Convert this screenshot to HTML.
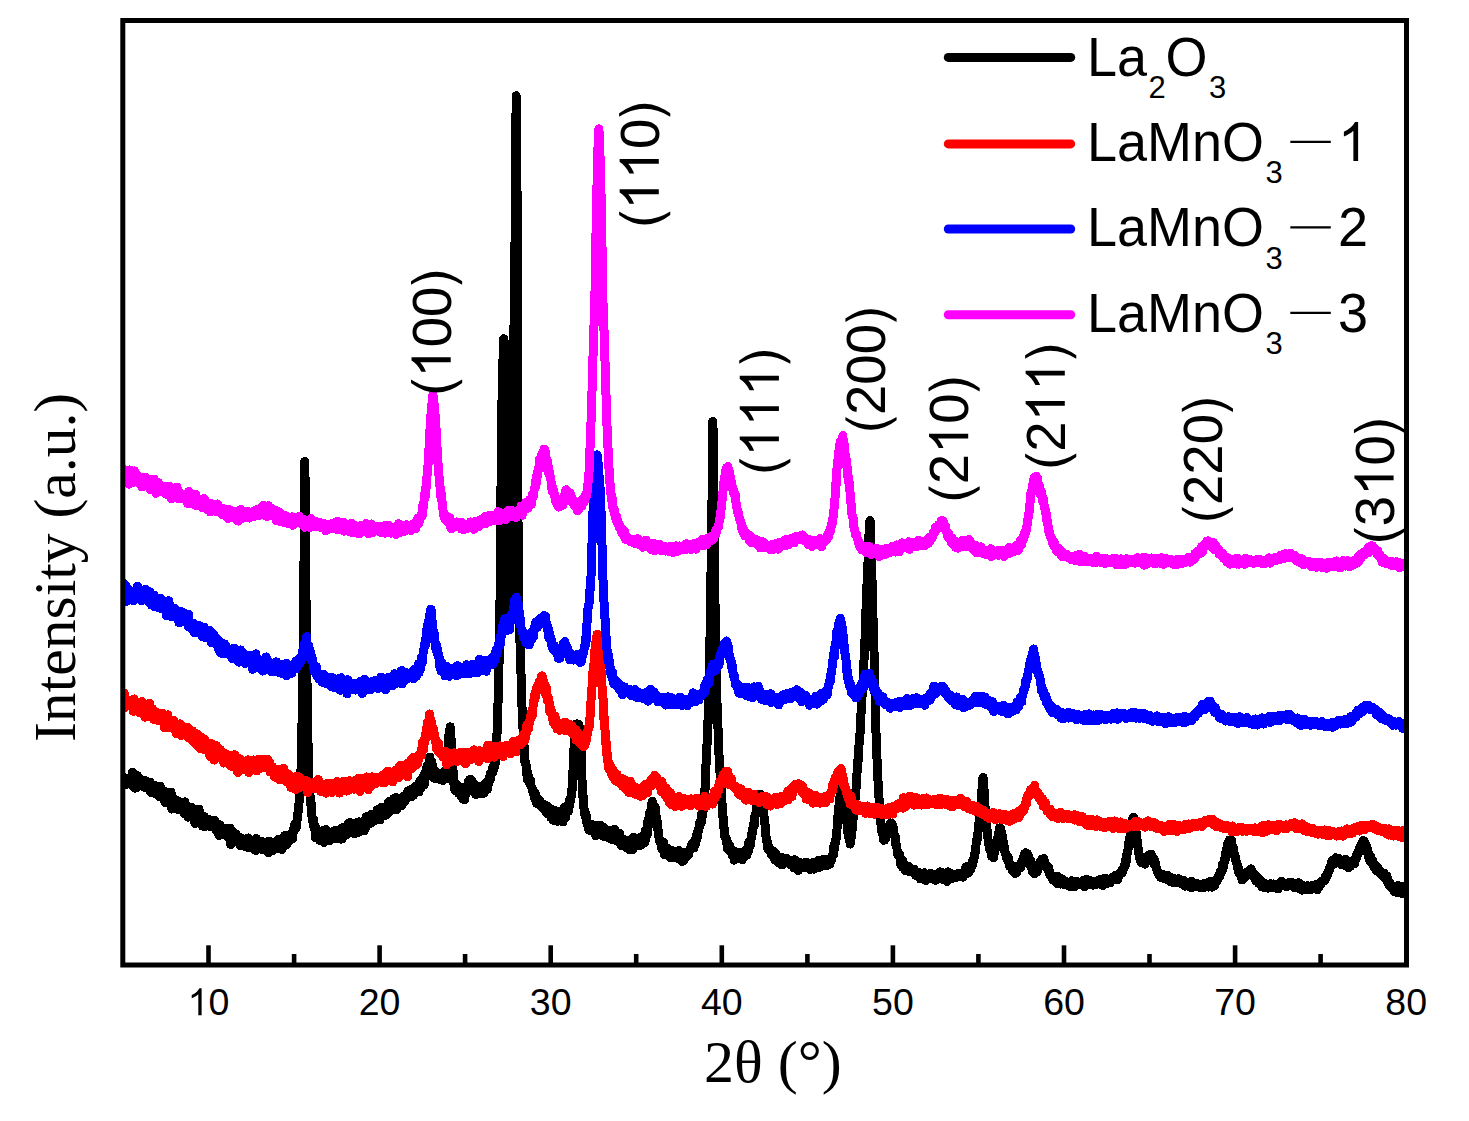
<!DOCTYPE html>
<html><head><meta charset="utf-8"><title>XRD</title>
<style>
html,body{margin:0;padding:0;background:#fff;}
svg{display:block}
text{font-family:"Liberation Sans",sans-serif;fill:#000}
.L{font-size:54px}
.S{font-size:31px}
.ser{font-family:"Liberation Serif",serif}
.cv path{fill:none;stroke-width:9;stroke-linejoin:round;stroke-linecap:butt}
</style></head><body>
<svg width="1469" height="1121" viewBox="0 0 1469 1121">
<rect width="1469" height="1121" fill="#fff"/>
<clipPath id="cp"><rect x="122" y="20" width="1284.5" height="945"/></clipPath>
<g class="cv" shape-rendering="crispEdges" clip-path="url(#cp)">
<path stroke="#000" d="M123.0,783.7 L123.4,785.1 L123.8,783.3 L124.2,777.7 L124.6,785.1 L125.0,783.4 L125.4,780.0 L125.8,783.7 L126.2,782.9 L126.6,782.5 L127.0,781.6 L127.4,783.3 L127.8,778.9 L128.2,780.8 L128.6,779.6 L129.0,783.2 L129.4,781.3 L129.8,780.2 L130.2,778.5 L130.6,780.2 L131.0,781.1 L131.4,780.1 L131.8,785.4 L132.2,784.4 L132.6,772.3 L133.0,774.7 L133.4,780.4 L133.8,779.6 L134.2,781.7 L134.6,781.7 L135.0,788.1 L135.0,777.3 L135.4,779.7 L135.8,787.9 L136.2,783.2 L136.6,783.3 L137.0,779.5 L137.4,775.7 L137.8,781.9 L138.2,781.8 L138.6,777.4 L139.0,779.4 L139.4,781.6 L139.8,778.8 L140.2,781.8 L140.6,782.6 L141.0,782.6 L141.4,780.9 L141.8,784.8 L142.2,786.0 L142.6,784.3 L143.0,780.7 L143.4,786.1 L143.8,782.2 L144.2,787.1 L144.6,780.8 L145.0,787.7 L145.4,784.8 L145.8,780.9 L146.2,784.3 L146.6,785.8 L147.0,786.8 L147.4,782.8 L147.8,782.7 L148.2,787.3 L148.6,785.3 L149.0,787.9 L149.4,789.9 L149.8,782.2 L150.2,788.8 L150.6,792.3 L151.0,787.4 L151.4,786.0 L151.8,791.4 L152.2,790.0 L152.6,792.4 L153.0,788.5 L153.4,785.0 L153.8,789.8 L154.2,788.9 L154.5,793.1 L154.6,791.2 L155.0,785.4 L155.4,787.0 L155.8,794.1 L156.2,793.7 L156.6,789.5 L157.0,791.9 L157.4,793.6 L157.8,793.9 L158.2,795.4 L158.6,793.6 L159.0,792.7 L159.4,792.4 L159.8,796.9 L160.2,786.2 L160.6,793.5 L161.0,794.3 L161.4,789.7 L161.8,795.7 L162.2,792.7 L162.6,797.9 L163.0,794.9 L163.4,797.8 L163.8,799.8 L164.2,797.3 L164.6,793.4 L165.0,791.5 L165.4,802.6 L165.8,796.6 L166.2,795.0 L166.6,798.0 L167.0,797.1 L167.4,800.8 L167.8,798.3 L168.2,798.5 L168.6,796.4 L169.0,800.5 L169.4,795.8 L169.8,801.7 L170.2,804.7 L170.6,794.9 L171.0,792.1 L171.4,802.5 L171.8,809.1 L172.2,797.7 L172.6,797.1 L173.0,803.4 L173.4,798.9 L173.8,800.3 L174.2,801.1 L174.6,804.2 L175.0,801.4 L175.4,803.9 L175.8,802.6 L176.2,800.7 L176.6,802.6 L177.0,800.8 L177.4,804.2 L177.8,800.7 L178.2,801.1 L178.6,809.7 L179.0,805.0 L179.4,805.2 L179.8,807.3 L180.2,804.5 L180.6,805.4 L181.0,807.8 L181.4,807.6 L181.8,803.1 L182.0,809.7 L182.2,805.2 L182.6,803.9 L183.0,804.7 L183.4,806.6 L183.8,813.4 L184.2,804.5 L184.6,809.1 L185.0,801.8 L185.4,809.1 L185.8,812.3 L186.2,808.8 L186.6,807.8 L187.0,810.8 L187.4,812.6 L187.8,812.7 L188.2,817.2 L188.6,811.7 L189.0,809.4 L189.4,811.1 L189.8,811.6 L190.2,812.4 L190.6,812.2 L191.0,813.1 L191.4,807.3 L191.8,815.7 L192.2,811.4 L192.6,809.7 L193.0,815.9 L193.4,818.3 L193.8,815.9 L194.2,815.0 L194.6,811.7 L195.0,823.5 L195.4,818.1 L195.8,811.8 L196.2,813.2 L196.6,816.3 L197.0,811.2 L197.4,817.1 L197.8,815.3 L198.2,821.0 L198.6,820.4 L199.0,809.1 L199.4,817.9 L199.8,812.7 L200.2,821.8 L200.6,819.0 L201.0,820.5 L201.4,815.5 L201.8,825.1 L202.2,826.0 L202.6,816.2 L203.0,821.1 L203.4,818.0 L203.8,820.3 L204.2,816.6 L204.6,826.9 L205.0,818.0 L205.4,820.4 L205.8,823.2 L206.2,819.8 L206.6,821.3 L207.0,820.5 L207.4,822.1 L207.8,819.0 L208.2,821.6 L208.6,822.6 L209.0,822.4 L209.0,823.7 L209.4,822.8 L209.8,826.4 L210.2,823.2 L210.6,824.0 L211.0,822.5 L211.4,823.2 L211.8,821.1 L212.2,827.1 L212.6,822.0 L213.0,823.5 L213.4,827.3 L213.8,827.7 L214.2,825.3 L214.6,820.4 L215.0,828.5 L215.4,828.2 L215.8,823.1 L216.2,830.3 L216.6,825.8 L217.0,824.7 L217.4,828.9 L217.8,828.3 L218.2,829.7 L218.6,824.2 L219.0,835.4 L219.4,827.9 L219.8,825.1 L220.2,832.3 L220.6,829.4 L221.0,831.8 L221.4,829.9 L221.8,831.1 L222.2,832.3 L222.6,829.3 L223.0,834.1 L223.4,830.7 L223.8,829.7 L224.2,832.9 L224.6,834.3 L225.0,832.4 L225.4,830.6 L225.8,835.6 L226.2,828.2 L226.6,830.7 L227.0,834.4 L227.4,830.1 L227.8,834.8 L228.2,834.7 L228.6,838.0 L229.0,832.4 L229.4,833.5 L229.8,836.8 L230.2,828.1 L230.6,844.4 L231.0,834.1 L231.4,834.2 L231.8,839.4 L232.2,836.8 L232.6,831.4 L233.0,839.2 L233.4,840.1 L233.8,836.2 L234.2,836.9 L234.6,839.5 L235.0,835.2 L235.4,839.7 L235.8,839.1 L236.0,836.4 L236.2,834.2 L236.6,838.0 L237.0,836.1 L237.4,842.2 L237.8,839.7 L238.2,841.8 L238.6,839.9 L239.0,840.5 L239.4,837.4 L239.8,842.1 L240.2,845.8 L240.6,839.3 L241.0,838.6 L241.4,840.1 L241.8,839.3 L242.2,838.7 L242.6,841.6 L243.0,840.4 L243.4,846.0 L243.8,841.6 L244.2,842.8 L244.6,844.9 L245.0,841.1 L245.4,846.8 L245.8,840.4 L246.2,840.0 L246.6,841.5 L247.0,842.5 L247.4,838.6 L247.8,843.0 L248.2,838.0 L248.6,847.8 L249.0,843.3 L249.4,841.7 L249.8,841.0 L250.2,842.8 L250.6,843.4 L251.0,840.9 L251.4,841.5 L251.8,843.9 L252.2,843.0 L252.6,847.7 L253.0,848.4 L253.4,845.0 L253.8,846.6 L254.2,841.0 L254.6,847.3 L255.0,845.3 L255.4,847.0 L255.8,850.6 L256.2,838.5 L256.6,846.6 L257.0,842.4 L257.4,847.8 L257.8,841.9 L258.2,844.5 L258.6,846.7 L259.0,848.1 L259.4,846.5 L259.8,843.8 L260.2,844.6 L260.6,849.1 L261.0,846.4 L261.4,841.2 L261.8,849.1 L262.2,847.8 L262.6,849.2 L263.0,845.4 L263.4,849.1 L263.5,843.2 L263.8,848.3 L264.2,845.0 L264.6,848.6 L265.0,849.6 L265.4,844.2 L265.8,846.3 L266.2,846.6 L266.6,850.1 L267.0,848.6 L267.4,842.6 L267.8,847.8 L268.2,848.6 L268.6,852.9 L269.0,841.0 L269.4,844.5 L269.8,850.3 L270.2,841.9 L270.6,842.3 L271.0,847.6 L271.4,849.1 L271.8,843.8 L272.2,847.5 L272.6,846.1 L273.0,850.4 L273.4,845.6 L273.8,848.6 L274.2,842.7 L274.6,844.8 L275.0,845.0 L275.4,848.8 L275.8,847.0 L276.2,842.8 L276.6,847.1 L277.0,847.3 L277.4,844.5 L277.8,843.9 L278.2,844.0 L278.6,839.3 L279.0,845.0 L279.4,845.0 L279.8,841.5 L280.2,846.4 L280.6,839.7 L281.0,842.1 L281.4,842.2 L281.8,849.7 L282.2,838.5 L282.6,845.1 L283.0,846.1 L283.4,844.2 L283.8,846.6 L284.2,839.7 L284.6,835.6 L285.0,844.9 L285.0,838.8 L285.4,841.3 L285.8,838.5 L286.2,845.1 L286.6,844.2 L287.0,838.9 L287.4,843.5 L287.8,840.7 L288.2,839.4 L288.6,839.5 L289.0,838.2 L289.4,840.2 L289.8,838.7 L290.2,836.1 L290.6,839.7 L291.0,834.1 L291.0,836.9 L291.4,836.7 L291.8,839.2 L292.2,832.3 L292.6,838.4 L293.0,832.6 L293.4,830.6 L293.8,828.1 L294.2,831.0 L294.6,828.4 L294.7,824.6 L295.0,823.8 L295.4,824.7 L295.8,823.3 L296.2,827.5 L296.4,827.6 L296.6,825.1 L297.0,821.1 L297.4,815.6 L297.8,813.3 L298.2,811.7 L298.6,811.1 L299.0,802.8 L299.0,799.1 L299.4,795.5 L299.8,789.1 L300.2,782.5 L300.6,777.3 L301.0,769.6 L301.0,774.6 L301.4,754.6 L301.8,736.8 L302.2,712.4 L302.5,687.2 L302.6,685.2 L303.0,653.8 L303.4,618.0 L303.8,583.7 L304.0,563.1 L304.2,534.8 L304.6,472.5 L304.8,461.4 L305.0,474.4 L305.4,532.8 L305.6,563.0 L305.8,578.3 L306.2,620.1 L306.6,653.5 L307.0,680.8 L307.1,687.9 L307.4,708.8 L307.8,730.7 L308.2,753.7 L308.6,770.6 L308.6,772.0 L309.0,779.0 L309.4,792.6 L309.8,790.3 L310.2,798.5 L310.6,803.8 L310.6,799.6 L311.0,802.1 L311.4,805.3 L311.8,813.5 L312.2,820.0 L312.6,820.7 L313.0,822.9 L313.2,822.2 L313.4,826.0 L313.8,819.5 L314.2,828.2 L314.6,828.9 L315.0,825.9 L315.4,837.6 L315.8,827.5 L316.0,828.7 L316.2,828.6 L316.6,836.1 L317.0,830.5 L317.4,835.7 L317.8,835.8 L318.2,835.2 L318.6,830.8 L319.0,833.1 L319.4,840.3 L319.8,831.5 L320.2,833.0 L320.6,835.0 L320.6,837.9 L321.0,836.3 L321.4,837.7 L321.8,832.3 L322.2,838.3 L322.6,837.2 L323.0,830.7 L323.4,840.1 L323.8,842.4 L324.2,833.1 L324.6,835.6 L325.0,839.6 L325.4,830.9 L325.8,829.4 L326.2,831.5 L326.6,833.6 L327.0,833.6 L327.4,837.1 L327.8,836.1 L328.2,831.5 L328.6,836.9 L329.0,840.8 L329.4,838.8 L329.8,838.1 L330.2,835.2 L330.6,838.0 L331.0,832.2 L331.4,837.3 L331.8,834.7 L332.2,838.3 L332.6,836.3 L333.0,831.6 L333.4,835.2 L333.8,838.5 L334.2,831.4 L334.6,833.1 L335.0,832.4 L335.4,830.2 L335.8,837.5 L336.2,838.5 L336.6,836.9 L337.0,835.2 L337.0,834.3 L337.4,835.2 L337.8,832.2 L338.2,837.0 L338.6,837.4 L339.0,837.0 L339.4,832.5 L339.8,834.3 L340.2,833.5 L340.6,839.2 L341.0,834.3 L341.4,828.0 L341.8,834.7 L342.2,839.0 L342.6,835.3 L343.0,835.8 L343.4,833.1 L343.8,827.0 L344.2,827.3 L344.6,828.9 L345.0,832.0 L345.4,833.2 L345.8,834.1 L346.2,830.9 L346.6,834.6 L347.0,830.7 L347.4,829.3 L347.8,833.8 L348.2,828.3 L348.6,823.1 L349.0,827.5 L349.4,830.8 L349.8,822.6 L350.2,829.1 L350.6,828.9 L351.0,825.5 L351.4,825.1 L351.8,828.0 L352.2,827.5 L352.6,832.7 L353.0,829.9 L353.4,823.9 L353.8,825.8 L354.2,830.2 L354.6,833.6 L355.0,828.9 L355.4,828.5 L355.8,832.9 L356.2,827.1 L356.6,826.1 L357.0,822.6 L357.4,825.1 L357.8,832.8 L358.2,822.0 L358.6,826.1 L358.7,821.8 L359.0,826.2 L359.4,828.3 L359.8,824.8 L360.2,827.5 L360.6,827.2 L361.0,826.2 L361.4,829.8 L361.8,826.8 L362.2,823.5 L362.6,822.2 L363.0,821.5 L363.4,825.2 L363.8,822.6 L364.2,831.0 L364.6,828.6 L365.0,822.3 L365.4,821.8 L365.8,827.5 L366.2,816.8 L366.6,820.8 L367.0,824.7 L367.4,819.0 L367.8,820.1 L368.2,820.3 L368.6,823.0 L369.0,821.3 L369.4,821.8 L369.8,822.2 L370.2,820.3 L370.6,823.3 L371.0,817.7 L371.4,815.4 L371.8,814.2 L372.2,814.4 L372.6,817.3 L373.0,821.7 L373.4,819.0 L373.8,816.5 L374.2,814.9 L374.6,816.2 L375.0,816.4 L375.4,815.7 L375.8,812.9 L376.2,815.5 L376.6,819.6 L377.0,810.1 L377.4,815.5 L377.8,809.7 L378.2,816.2 L378.6,813.3 L379.0,809.1 L379.4,815.3 L379.8,820.0 L380.2,814.8 L380.6,817.7 L381.0,813.8 L381.4,807.5 L381.8,815.0 L382.2,812.1 L382.6,808.8 L383.0,815.1 L383.4,813.4 L383.8,810.8 L384.2,814.6 L384.6,809.3 L385.0,813.5 L385.4,808.6 L385.8,812.7 L386.0,807.8 L386.2,815.2 L386.6,811.4 L387.0,814.5 L387.4,807.7 L387.8,808.5 L388.2,812.1 L388.6,801.8 L389.0,806.0 L389.4,811.8 L389.8,809.9 L390.2,811.2 L390.6,807.2 L391.0,809.4 L391.4,805.4 L391.8,803.3 L392.2,802.1 L392.6,805.2 L393.0,804.9 L393.4,804.4 L393.8,798.4 L394.2,799.9 L394.6,803.9 L395.0,805.9 L395.4,803.2 L395.8,802.0 L396.2,797.6 L396.6,809.8 L397.0,800.6 L397.4,808.3 L397.8,807.7 L398.2,803.7 L398.6,801.0 L399.0,802.7 L399.4,798.7 L399.8,802.5 L400.2,801.5 L400.6,802.7 L401.0,803.6 L401.4,805.6 L401.8,799.2 L402.2,803.0 L402.6,797.5 L403.0,796.9 L403.4,797.4 L403.8,796.0 L404.2,801.4 L404.6,800.9 L405.0,801.6 L405.4,797.6 L405.8,798.2 L406.2,795.4 L406.6,793.5 L407.0,797.8 L407.4,797.0 L407.7,792.8 L407.8,797.6 L408.2,790.7 L408.6,794.8 L409.0,793.3 L409.4,793.3 L409.8,791.4 L410.2,796.9 L410.6,795.5 L411.0,797.0 L411.4,793.7 L411.8,789.3 L412.2,791.7 L412.6,789.1 L413.0,793.4 L413.4,795.3 L413.8,792.5 L414.2,789.5 L414.6,789.8 L415.0,791.2 L415.4,786.1 L415.8,790.3 L416.2,790.1 L416.6,787.7 L417.0,787.7 L417.4,789.0 L417.8,785.8 L418.0,785.6 L418.2,790.0 L418.6,788.0 L419.0,791.8 L419.4,783.9 L419.8,781.2 L420.2,788.6 L420.6,788.3 L421.0,783.0 L421.4,780.5 L421.8,784.1 L422.2,778.8 L422.6,782.2 L423.0,776.4 L423.4,781.3 L423.8,775.3 L424.0,780.2 L424.2,784.8 L424.6,778.6 L425.0,780.2 L425.4,774.6 L425.8,772.2 L426.2,768.8 L426.6,774.3 L427.0,769.7 L427.0,774.5 L427.4,765.0 L427.8,766.1 L428.2,765.2 L428.6,767.5 L429.0,767.6 L429.4,760.1 L429.5,758.7 L429.8,757.1 L430.2,766.5 L430.6,763.6 L431.0,763.5 L431.4,766.7 L431.8,761.2 L432.2,765.0 L432.6,773.7 L433.0,773.0 L433.0,772.3 L433.4,769.6 L433.8,774.5 L434.2,778.3 L434.6,770.3 L435.0,774.2 L435.4,773.3 L435.8,775.9 L436.2,775.2 L436.6,775.0 L437.0,773.1 L437.4,775.7 L437.6,774.1 L437.8,775.5 L438.2,775.9 L438.6,778.0 L439.0,774.7 L439.4,775.5 L439.8,779.6 L440.2,776.0 L440.6,776.0 L441.0,779.2 L441.4,777.6 L441.8,777.1 L442.0,777.5 L442.2,773.4 L442.6,778.1 L443.0,780.5 L443.4,778.3 L443.8,772.3 L444.2,777.3 L444.6,773.8 L445.0,775.5 L445.4,776.3 L445.5,772.5 L445.8,778.9 L446.2,772.6 L446.6,771.5 L447.0,766.9 L447.4,764.7 L447.5,763.2 L447.8,752.1 L448.2,749.7 L448.6,736.3 L449.0,734.0 L449.4,731.8 L449.8,729.6 L449.9,730.5 L450.2,726.8 L450.6,732.6 L451.0,737.9 L451.4,748.2 L451.8,756.4 L452.2,757.5 L452.3,767.2 L452.6,764.4 L453.0,770.2 L453.4,779.1 L453.8,784.0 L454.0,784.4 L454.2,781.7 L454.6,788.6 L455.0,785.5 L455.4,790.4 L455.8,790.7 L456.2,783.8 L456.6,785.1 L457.0,785.5 L457.4,789.3 L457.8,789.1 L458.2,790.0 L458.6,787.4 L459.0,791.1 L459.0,793.8 L459.4,786.6 L459.8,790.1 L460.2,791.7 L460.6,790.9 L461.0,791.1 L461.4,796.8 L461.8,795.8 L462.2,794.8 L462.6,790.6 L463.0,799.1 L463.4,794.1 L463.8,791.7 L464.2,792.5 L464.6,792.1 L464.9,799.3 L465.0,794.0 L465.4,793.3 L465.8,786.5 L466.2,793.6 L466.6,787.6 L467.0,786.3 L467.4,790.0 L467.8,785.0 L468.0,789.3 L468.2,789.7 L468.6,780.8 L469.0,784.5 L469.4,779.8 L469.8,783.3 L470.2,785.6 L470.5,779.2 L470.6,787.9 L471.0,782.3 L471.4,780.4 L471.8,783.9 L472.2,787.1 L472.6,781.9 L473.0,786.5 L473.4,783.4 L473.8,791.0 L474.0,788.4 L474.2,787.0 L474.6,791.4 L475.0,785.4 L475.4,788.2 L475.8,794.7 L476.2,789.7 L476.6,794.0 L477.0,791.1 L477.4,788.8 L477.8,790.2 L478.0,791.2 L478.2,789.9 L478.6,788.8 L479.0,789.0 L479.4,787.1 L479.8,791.5 L480.2,792.4 L480.6,793.4 L481.0,786.4 L481.4,793.6 L481.8,791.4 L482.2,787.5 L482.6,791.7 L482.7,793.7 L483.0,792.8 L483.4,793.1 L483.8,793.4 L484.2,792.7 L484.6,789.5 L485.0,783.3 L485.4,786.1 L485.8,788.3 L486.2,785.3 L486.6,787.6 L487.0,787.1 L487.0,785.1 L487.4,789.3 L487.8,780.6 L488.2,784.9 L488.6,780.1 L489.0,778.3 L489.4,780.9 L489.8,776.6 L490.2,779.5 L490.6,772.9 L491.0,775.0 L491.0,772.7 L491.4,773.3 L491.8,771.9 L492.2,768.9 L492.6,772.8 L493.0,766.5 L493.4,766.0 L493.8,769.6 L494.2,768.1 L494.3,766.8 L494.6,764.1 L495.0,766.3 L495.4,752.9 L495.8,749.4 L496.2,743.2 L496.6,742.1 L497.0,733.5 L497.2,732.0 L497.4,727.1 L497.8,712.0 L498.2,695.7 L498.3,691.3 L498.6,687.6 L499.0,665.7 L499.4,643.2 L499.8,615.3 L500.0,601.4 L500.2,583.4 L500.6,537.8 L501.0,486.5 L501.0,492.8 L501.4,449.4 L501.8,413.4 L502.0,400.5 L502.2,392.6 L502.6,372.4 L503.0,359.6 L503.4,339.9 L503.8,338.7 L503.9,346.1 L504.2,341.1 L504.6,355.2 L505.0,375.5 L505.4,392.2 L505.5,401.9 L505.8,419.3 L506.2,459.7 L506.5,489.4 L506.6,496.3 L507.0,529.9 L507.4,553.9 L507.5,560.8 L507.8,571.2 L508.2,596.7 L508.5,599.7 L508.6,603.1 L509.0,617.9 L509.4,625.8 L509.6,626.3 L509.8,626.6 L510.2,619.0 L510.6,604.9 L510.7,602.5 L511.0,589.6 L511.4,576.0 L511.8,565.3 L511.8,559.3 L512.2,526.9 L512.5,494.9 L512.6,485.9 L513.0,430.8 L513.3,398.7 L513.4,388.4 L513.8,349.9 L514.0,325.5 L514.2,313.5 L514.6,272.3 L515.0,243.9 L515.2,224.4 L515.4,198.0 L515.8,128.6 L516.2,100.5 L516.2,95.7 L516.6,124.3 L517.0,188.1 L517.2,220.7 L517.4,247.2 L517.8,334.2 L517.8,326.4 L517.9,491.5 L518.2,576.1 L518.5,602.5 L518.6,608.5 L519.0,618.8 L519.4,635.5 L519.8,636.3 L520.2,648.3 L520.6,661.6 L520.6,663.0 L521.0,673.7 L521.4,689.8 L521.6,692.4 L521.8,698.6 L522.2,714.1 L522.6,720.8 L523.0,728.7 L523.0,725.3 L523.4,736.4 L523.8,744.3 L524.2,746.6 L524.6,752.8 L525.0,763.0 L525.4,763.2 L525.7,764.2 L525.8,762.6 L526.2,766.5 L526.6,769.7 L527.0,775.9 L527.4,772.5 L527.8,780.5 L528.2,774.8 L528.6,777.7 L529.0,782.2 L529.4,780.5 L529.8,780.2 L530.0,782.7 L530.2,784.8 L530.6,780.3 L531.0,785.3 L531.4,786.7 L531.8,787.0 L532.2,791.0 L532.6,788.6 L533.0,790.1 L533.4,792.0 L533.8,794.7 L534.2,793.1 L534.6,798.4 L535.0,792.8 L535.4,799.3 L535.8,794.4 L536.0,796.6 L536.2,798.3 L536.6,803.4 L537.0,800.9 L537.4,798.1 L537.8,803.2 L538.2,799.8 L538.6,798.8 L539.0,802.6 L539.4,802.1 L539.8,804.9 L540.2,801.4 L540.6,804.3 L541.0,805.5 L541.4,805.0 L541.8,804.6 L542.2,803.3 L542.6,807.9 L543.0,806.4 L543.0,807.3 L543.4,805.5 L543.8,806.9 L544.2,804.6 L544.6,807.9 L545.0,810.1 L545.4,808.8 L545.8,811.2 L546.2,810.2 L546.6,813.3 L547.0,809.6 L547.4,806.2 L547.8,811.9 L548.2,810.7 L548.6,808.9 L549.0,813.5 L549.4,812.8 L549.8,813.5 L550.0,811.6 L550.2,813.1 L550.6,813.6 L551.0,817.8 L551.4,811.7 L551.8,813.7 L552.2,814.9 L552.6,809.8 L553.0,810.4 L553.4,820.4 L553.8,810.4 L554.2,816.7 L554.6,813.2 L555.0,813.6 L555.4,810.6 L555.8,813.5 L556.2,818.0 L556.6,812.4 L557.0,817.5 L557.0,816.8 L557.4,821.2 L557.8,814.8 L558.2,819.3 L558.6,818.3 L559.0,815.3 L559.4,811.7 L559.8,819.9 L560.2,812.5 L560.6,814.8 L561.0,818.3 L561.4,818.9 L561.6,813.8 L561.8,815.9 L562.2,815.2 L562.6,818.8 L563.0,821.9 L563.4,810.4 L563.8,817.1 L564.2,807.6 L564.6,813.9 L565.0,810.5 L565.4,817.9 L565.8,812.7 L566.0,810.1 L566.2,810.4 L566.6,809.6 L567.0,810.9 L567.4,809.2 L567.8,810.5 L568.2,811.8 L568.6,808.6 L569.0,802.5 L569.4,800.2 L569.8,801.1 L569.8,805.7 L570.2,800.6 L570.6,798.0 L571.0,797.9 L571.4,791.3 L571.8,788.9 L572.0,791.3 L572.2,786.8 L572.6,778.8 L573.0,771.0 L573.4,758.7 L573.8,749.9 L573.9,748.8 L574.2,746.8 L574.6,739.4 L575.0,731.0 L575.4,729.8 L575.5,731.7 L575.8,733.4 L576.2,724.0 L576.6,726.5 L577.0,723.9 L577.4,726.2 L577.6,725.1 L577.8,727.8 L578.2,725.9 L578.6,724.1 L579.0,725.5 L579.4,729.6 L579.7,731.0 L579.8,736.7 L580.2,739.5 L580.6,739.2 L581.0,750.9 L581.0,746.6 L581.4,755.7 L581.8,774.0 L582.2,785.0 L582.5,787.4 L582.6,795.8 L583.0,795.0 L583.4,799.4 L583.8,808.0 L584.0,808.6 L584.2,809.1 L584.6,812.1 L585.0,815.3 L585.4,816.4 L585.8,817.9 L586.0,814.2 L586.2,816.1 L586.6,822.1 L587.0,819.7 L587.4,823.7 L587.8,826.2 L588.2,822.9 L588.6,825.1 L589.0,830.2 L589.4,827.2 L589.8,830.5 L590.0,829.9 L590.2,828.1 L590.6,826.2 L591.0,824.7 L591.4,824.3 L591.8,828.6 L592.2,828.9 L592.6,827.5 L593.0,830.3 L593.4,826.8 L593.8,831.4 L594.2,828.9 L594.6,828.9 L595.0,829.2 L595.4,829.1 L595.8,835.8 L596.2,825.6 L596.6,830.3 L597.0,833.1 L597.0,831.8 L597.4,829.4 L597.8,834.7 L598.2,827.8 L598.6,827.3 L599.0,832.2 L599.4,827.2 L599.8,825.0 L600.2,833.4 L600.6,833.2 L601.0,833.2 L601.4,830.3 L601.8,832.1 L602.2,829.3 L602.6,836.2 L603.0,833.9 L603.4,833.9 L603.8,827.3 L604.2,834.3 L604.6,836.1 L605.0,835.5 L605.4,834.5 L605.8,832.6 L606.2,831.9 L606.6,834.3 L607.0,833.9 L607.4,833.6 L607.8,832.4 L608.2,837.5 L608.6,830.4 L609.0,833.4 L609.4,832.1 L609.8,836.3 L610.2,837.4 L610.6,837.1 L611.0,836.0 L611.4,830.7 L611.8,839.6 L612.2,835.8 L612.6,834.4 L613.0,834.9 L613.4,834.2 L613.4,836.1 L613.8,836.0 L614.2,834.5 L614.6,829.2 L615.0,835.8 L615.4,837.3 L615.8,837.7 L616.2,836.4 L616.6,838.2 L617.0,839.9 L617.4,836.6 L617.8,841.7 L618.2,833.6 L618.6,835.7 L619.0,836.9 L619.4,833.4 L619.8,837.4 L620.2,843.3 L620.6,843.6 L621.0,841.2 L621.4,845.5 L621.8,842.2 L622.2,840.7 L622.6,842.8 L623.0,842.1 L623.4,844.6 L623.8,839.3 L624.2,845.7 L624.6,842.3 L625.0,845.7 L625.4,839.9 L625.8,842.8 L626.2,844.1 L626.6,846.2 L627.0,841.0 L627.0,848.1 L627.4,845.2 L627.8,842.7 L628.2,847.0 L628.6,844.2 L629.0,846.8 L629.4,849.7 L629.8,845.8 L630.2,842.6 L630.6,842.8 L631.0,845.3 L631.4,844.5 L631.8,841.7 L632.2,842.1 L632.6,845.3 L633.0,849.4 L633.4,837.2 L633.8,845.3 L634.2,842.9 L634.6,845.3 L635.0,845.5 L635.4,843.4 L635.8,840.7 L636.2,839.7 L636.6,838.4 L637.0,845.9 L637.4,842.3 L637.8,841.4 L638.2,842.0 L638.6,839.3 L639.0,843.2 L639.4,845.6 L639.8,845.0 L640.2,838.3 L640.6,845.3 L640.6,840.1 L641.0,837.2 L641.4,838.6 L641.8,838.8 L642.2,840.7 L642.6,837.7 L643.0,836.0 L643.4,838.4 L643.8,843.0 L644.2,835.9 L644.6,837.9 L645.0,836.2 L645.0,842.3 L645.4,830.5 L645.8,836.6 L646.2,829.6 L646.6,829.8 L647.0,829.4 L647.4,834.3 L647.4,826.1 L647.8,821.4 L648.2,826.6 L648.6,818.6 L649.0,817.2 L649.4,815.1 L649.8,813.2 L650.0,811.6 L650.2,811.8 L650.6,810.4 L651.0,809.8 L651.4,805.1 L651.8,803.0 L652.2,801.2 L652.6,804.6 L652.9,802.9 L653.0,804.4 L653.4,804.8 L653.8,808.6 L654.2,806.4 L654.6,809.5 L655.0,806.7 L655.4,808.9 L655.5,811.2 L655.8,810.8 L656.2,818.4 L656.6,817.0 L657.0,824.1 L657.4,821.7 L657.8,828.3 L658.2,832.7 L658.3,833.4 L658.6,831.1 L659.0,837.3 L659.4,841.0 L659.8,841.7 L660.2,839.9 L660.6,841.3 L661.0,840.9 L661.4,846.3 L661.8,849.1 L662.0,844.7 L662.2,842.3 L662.6,847.5 L663.0,849.4 L663.4,842.2 L663.8,849.4 L664.2,854.8 L664.6,852.1 L665.0,852.0 L665.4,852.1 L665.8,854.1 L666.2,849.7 L666.6,850.3 L667.0,853.6 L667.4,851.2 L667.8,853.6 L667.8,848.4 L668.2,854.9 L668.6,855.3 L669.0,853.5 L669.4,853.9 L669.8,857.5 L670.2,851.2 L670.6,851.7 L671.0,851.4 L671.4,853.1 L671.8,851.8 L672.2,854.4 L672.6,852.9 L673.0,851.1 L673.4,850.9 L673.8,857.6 L674.2,854.6 L674.6,854.3 L675.0,855.0 L675.4,854.8 L675.8,856.8 L676.2,856.4 L676.6,853.8 L677.0,853.3 L677.4,852.7 L677.8,852.3 L678.2,858.7 L678.6,853.2 L679.0,850.6 L679.4,853.4 L679.8,853.6 L680.2,856.3 L680.6,853.4 L681.0,856.8 L681.4,856.4 L681.5,858.5 L681.8,860.6 L682.2,861.6 L682.6,858.6 L683.0,852.5 L683.4,854.2 L683.8,855.5 L684.2,859.6 L684.6,856.1 L685.0,857.1 L685.4,853.6 L685.8,855.1 L686.2,855.1 L686.6,852.1 L687.0,854.6 L687.4,855.0 L687.8,851.7 L688.2,854.1 L688.6,855.2 L689.0,851.1 L689.4,850.6 L689.8,849.5 L690.0,848.5 L690.2,850.2 L690.6,848.4 L691.0,848.1 L691.4,846.5 L691.8,844.1 L692.2,844.9 L692.6,847.2 L693.0,842.9 L693.4,843.4 L693.8,848.0 L694.2,845.9 L694.6,840.8 L695.0,842.9 L695.0,840.0 L695.4,844.3 L695.8,838.1 L696.2,838.4 L696.6,840.2 L697.0,833.7 L697.4,837.2 L697.8,830.8 L698.2,831.7 L698.6,828.9 L699.0,827.8 L699.4,826.8 L699.5,825.8 L699.8,822.4 L700.2,825.3 L700.6,823.3 L701.0,823.0 L701.4,821.5 L701.8,813.2 L702.2,817.2 L702.6,814.8 L703.0,807.8 L703.0,811.4 L703.4,809.1 L703.8,800.3 L704.2,793.4 L704.6,790.2 L705.0,790.9 L705.4,778.6 L705.8,767.8 L706.2,762.2 L706.6,752.1 L707.0,744.7 L707.4,736.7 L707.8,721.1 L707.8,727.8 L708.2,719.8 L708.6,703.7 L709.0,688.9 L709.4,675.9 L709.5,666.1 L709.8,650.7 L710.2,625.1 L710.6,600.4 L710.8,587.9 L711.0,573.3 L711.4,547.5 L711.8,518.4 L712.0,501.1 L712.2,475.8 L712.6,427.4 L712.8,421.4 L713.0,425.6 L713.4,477.0 L713.6,499.0 L713.8,516.1 L714.2,543.7 L714.6,570.4 L714.8,592.9 L715.0,602.9 L715.4,626.7 L715.8,653.4 L716.1,670.6 L716.2,672.6 L716.6,691.1 L717.0,702.6 L717.4,715.5 L717.8,726.8 L717.8,725.9 L718.2,730.9 L718.6,745.5 L719.0,754.5 L719.4,762.9 L719.8,767.0 L720.2,777.1 L720.6,783.4 L721.0,785.1 L721.4,790.1 L721.8,802.0 L722.2,804.2 L722.4,811.3 L722.6,816.5 L723.0,815.6 L723.4,820.3 L723.8,826.3 L724.2,831.5 L724.5,829.4 L724.6,835.4 L725.0,837.0 L725.4,838.2 L725.8,837.3 L726.2,842.3 L726.6,843.6 L727.0,840.3 L727.4,849.0 L727.8,844.7 L728.2,847.2 L728.6,846.0 L729.0,848.9 L729.0,850.6 L729.4,846.9 L729.8,845.6 L730.2,849.0 L730.6,847.6 L731.0,849.4 L731.4,851.4 L731.8,852.0 L732.2,855.6 L732.6,850.8 L733.0,854.3 L733.4,852.7 L733.8,857.3 L734.2,860.2 L734.6,855.4 L735.0,858.8 L735.0,853.8 L735.4,851.6 L735.8,852.6 L736.2,852.1 L736.6,853.8 L737.0,855.6 L737.4,858.9 L737.8,858.1 L738.2,857.7 L738.6,855.8 L739.0,855.3 L739.4,857.0 L739.8,857.3 L740.0,857.6 L740.2,857.8 L740.6,856.6 L741.0,852.4 L741.4,854.0 L741.8,854.4 L742.2,859.8 L742.6,854.6 L743.0,856.7 L743.4,858.0 L743.8,855.1 L744.2,853.0 L744.6,852.8 L745.0,850.7 L745.0,853.7 L745.4,855.1 L745.8,853.4 L746.2,853.4 L746.6,852.7 L747.0,855.1 L747.4,848.6 L747.8,849.7 L748.2,850.3 L748.6,850.7 L749.0,841.7 L749.4,845.1 L749.5,845.5 L749.8,842.9 L750.2,845.8 L750.6,842.8 L751.0,839.7 L751.4,834.9 L751.8,833.6 L752.2,832.2 L752.6,833.2 L753.0,827.3 L753.0,825.4 L753.4,824.4 L753.8,823.7 L754.2,825.9 L754.6,824.8 L755.0,815.2 L755.4,815.5 L755.8,813.9 L756.2,811.4 L756.3,807.7 L756.6,803.6 L757.0,803.5 L757.4,798.6 L757.8,801.7 L758.2,801.5 L758.5,794.8 L758.6,798.7 L759.0,798.5 L759.4,799.8 L759.8,799.5 L760.2,797.8 L760.4,794.5 L760.6,795.2 L761.0,799.0 L761.4,795.6 L761.8,797.7 L762.2,802.2 L762.3,799.3 L762.6,797.3 L763.0,802.7 L763.4,808.9 L763.8,811.7 L764.2,819.3 L764.5,822.8 L764.6,819.6 L765.0,824.6 L765.4,830.2 L765.8,831.8 L766.0,836.8 L766.2,836.9 L766.6,841.4 L767.0,840.5 L767.4,841.8 L767.8,849.4 L768.2,844.9 L768.6,846.7 L769.0,847.4 L769.0,848.3 L769.4,847.8 L769.8,850.5 L770.2,849.7 L770.6,851.0 L771.0,853.3 L771.4,854.6 L771.8,854.5 L772.2,852.3 L772.6,855.2 L773.0,854.5 L773.4,854.8 L773.8,851.6 L774.0,857.0 L774.2,855.3 L774.6,859.6 L775.0,857.5 L775.4,853.9 L775.8,853.6 L776.2,859.4 L776.6,855.1 L777.0,858.8 L777.4,856.8 L777.8,862.3 L778.2,858.0 L778.6,861.3 L779.0,861.1 L779.4,857.4 L779.8,857.8 L780.2,862.0 L780.6,858.9 L781.0,857.1 L781.4,861.8 L781.8,864.9 L782.2,859.4 L782.6,862.7 L783.0,859.4 L783.4,862.8 L783.8,859.5 L784.2,863.1 L784.6,861.5 L785.0,860.0 L785.4,861.1 L785.8,859.5 L786.2,858.3 L786.6,858.6 L787.0,860.9 L787.4,858.9 L787.8,862.2 L788.2,862.6 L788.6,862.6 L789.0,860.6 L789.4,861.9 L789.8,861.9 L790.2,864.9 L790.4,860.4 L790.6,861.4 L791.0,861.8 L791.4,862.2 L791.8,861.0 L792.2,861.4 L792.6,865.1 L793.0,861.7 L793.4,865.2 L793.8,867.8 L794.2,866.3 L794.6,859.8 L795.0,865.6 L795.4,865.1 L795.8,865.4 L796.2,860.9 L796.6,866.1 L797.0,862.3 L797.4,867.6 L797.8,867.2 L798.2,870.5 L798.6,864.4 L799.0,862.0 L799.4,867.7 L799.8,867.4 L800.2,864.8 L800.6,868.6 L801.0,867.3 L801.4,863.1 L801.8,865.2 L802.2,865.1 L802.6,865.8 L803.0,866.5 L803.4,864.6 L803.8,865.7 L804.0,867.4 L804.2,866.0 L804.6,865.5 L805.0,865.5 L805.4,865.9 L805.8,862.0 L806.2,866.4 L806.6,863.8 L807.0,866.2 L807.4,862.8 L807.8,867.8 L808.2,866.3 L808.6,862.9 L809.0,866.2 L809.4,864.0 L809.8,869.4 L810.2,866.5 L810.6,863.7 L811.0,865.8 L811.4,865.1 L811.8,867.7 L812.2,865.8 L812.6,866.0 L813.0,862.5 L813.4,866.4 L813.8,869.1 L814.2,865.9 L814.6,864.4 L815.0,864.7 L815.4,862.2 L815.8,864.6 L816.2,861.7 L816.6,864.1 L817.0,863.0 L817.4,862.0 L817.8,864.9 L818.2,860.4 L818.6,863.4 L819.0,860.6 L819.4,867.1 L819.8,867.4 L820.0,864.9 L820.2,867.1 L820.6,864.3 L821.0,864.1 L821.4,862.0 L821.8,860.9 L822.2,863.0 L822.6,861.5 L823.0,861.7 L823.4,864.1 L823.8,862.2 L824.2,859.1 L824.6,861.9 L825.0,860.6 L825.4,861.6 L825.8,859.8 L826.2,864.5 L826.6,865.9 L827.0,859.5 L827.4,863.1 L827.8,862.8 L828.2,859.2 L828.6,861.5 L829.0,864.1 L829.4,862.7 L829.8,864.2 L830.2,858.1 L830.6,858.8 L831.0,860.7 L831.0,860.9 L831.4,859.7 L831.8,858.0 L832.2,856.7 L832.6,854.9 L833.0,855.5 L833.4,847.2 L833.8,854.3 L834.0,849.0 L834.2,846.2 L834.6,848.4 L835.0,842.1 L835.4,843.4 L835.8,839.1 L836.2,838.3 L836.6,835.6 L836.7,835.8 L837.0,829.1 L837.4,824.7 L837.8,819.8 L838.2,811.3 L838.6,810.4 L839.0,805.4 L839.0,802.3 L839.4,804.1 L839.8,801.0 L840.2,792.0 L840.6,792.7 L841.0,791.2 L841.4,788.0 L841.8,782.4 L842.2,780.4 L842.5,782.8 L842.6,782.1 L843.0,784.4 L843.4,786.9 L843.8,791.9 L844.2,794.1 L844.6,799.8 L845.0,810.3 L845.4,809.3 L845.8,815.0 L846.0,815.7 L846.2,817.0 L846.6,817.7 L847.0,823.9 L847.4,825.9 L847.8,830.8 L848.2,836.3 L848.6,835.1 L849.0,838.6 L849.4,836.8 L849.8,840.5 L850.2,844.1 L850.4,840.9 L850.6,839.5 L851.0,839.3 L851.4,835.3 L851.8,831.3 L852.2,827.0 L852.5,829.1 L852.6,822.4 L853.0,819.9 L853.4,815.9 L853.8,815.7 L854.2,808.5 L854.2,811.7 L854.6,805.0 L855.0,799.9 L855.4,792.0 L855.8,792.4 L856.2,785.7 L856.6,780.1 L857.0,773.5 L857.4,767.4 L857.8,760.2 L858.0,762.0 L858.2,757.9 L858.6,751.1 L859.0,745.0 L859.4,740.8 L859.8,734.5 L860.2,732.0 L860.3,728.6 L860.6,721.1 L861.0,713.4 L861.4,708.4 L861.8,700.1 L862.2,694.9 L862.6,688.3 L863.0,681.3 L863.0,680.9 L863.4,672.1 L863.8,665.9 L864.2,654.7 L864.5,649.9 L864.6,649.5 L865.0,639.0 L865.4,625.7 L865.8,615.5 L866.2,604.1 L866.6,600.6 L867.0,583.7 L867.2,581.8 L867.4,580.8 L867.8,568.2 L868.2,556.9 L868.6,541.8 L869.0,534.2 L869.4,530.2 L869.8,520.6 L870.0,520.9 L870.2,520.6 L870.6,529.3 L871.0,543.7 L871.4,561.9 L871.8,573.3 L872.0,579.2 L872.2,588.6 L872.6,601.9 L873.0,617.5 L873.4,629.8 L873.8,641.3 L874.0,651.2 L874.2,660.4 L874.6,676.6 L875.0,694.2 L875.4,713.9 L875.8,726.4 L875.8,723.3 L876.2,741.6 L876.6,747.1 L877.0,759.0 L877.4,768.1 L877.8,776.5 L878.2,784.2 L878.5,787.2 L878.6,792.8 L879.0,798.1 L879.4,803.9 L879.8,811.2 L880.2,816.1 L880.3,817.7 L880.6,822.3 L881.0,824.3 L881.4,824.5 L881.8,831.3 L882.0,832.1 L882.2,833.1 L882.6,833.5 L883.0,834.5 L883.4,839.1 L883.8,840.4 L884.2,836.8 L884.4,840.1 L884.6,838.7 L885.0,837.8 L885.4,839.2 L885.8,836.7 L886.2,834.6 L886.6,834.6 L887.0,829.3 L887.4,831.1 L887.5,831.2 L887.8,828.6 L888.2,830.6 L888.6,829.7 L889.0,826.8 L889.4,826.5 L889.8,827.2 L890.2,827.1 L890.6,822.9 L891.0,824.7 L891.2,826.1 L891.4,824.0 L891.8,823.1 L892.2,824.1 L892.6,826.3 L893.0,826.4 L893.4,834.2 L893.8,830.9 L894.2,834.5 L894.5,835.4 L894.6,836.7 L895.0,836.5 L895.4,836.9 L895.8,845.0 L896.2,843.9 L896.6,846.7 L897.0,849.0 L897.4,853.1 L897.8,853.8 L898.0,855.3 L898.2,855.2 L898.6,855.1 L899.0,856.4 L899.4,855.5 L899.8,854.2 L900.2,858.5 L900.6,857.7 L901.0,865.7 L901.4,864.5 L901.8,864.4 L902.2,861.7 L902.6,867.5 L903.0,860.7 L903.0,861.6 L903.4,863.0 L903.8,863.2 L904.2,865.9 L904.6,866.5 L905.0,870.3 L905.4,869.0 L905.8,869.8 L906.2,868.7 L906.6,867.9 L907.0,867.2 L907.4,866.0 L907.8,867.5 L908.2,868.8 L908.6,871.3 L909.0,866.7 L909.0,867.3 L909.4,870.6 L909.8,868.4 L910.2,871.3 L910.6,870.1 L911.0,869.6 L911.4,868.7 L911.8,871.3 L912.2,870.3 L912.6,870.7 L913.0,870.8 L913.4,872.6 L913.8,872.7 L914.2,869.3 L914.6,872.5 L915.0,873.8 L915.4,875.2 L915.8,874.9 L916.2,873.9 L916.6,871.5 L917.0,872.4 L917.4,875.8 L917.8,872.8 L918.2,876.3 L918.6,877.0 L919.0,872.6 L919.4,875.7 L919.8,874.7 L920.2,879.0 L920.6,876.8 L921.0,874.4 L921.4,876.3 L921.8,873.8 L922.2,875.4 L922.6,876.2 L923.0,876.2 L923.4,876.6 L923.8,874.4 L924.2,872.7 L924.6,875.6 L925.0,874.7 L925.4,875.1 L925.8,880.7 L926.2,878.9 L926.6,876.3 L927.0,874.0 L927.4,874.3 L927.8,877.5 L928.2,878.9 L928.6,876.4 L929.0,877.2 L929.4,877.5 L929.8,879.0 L930.2,873.4 L930.6,877.3 L930.7,877.8 L931.0,878.8 L931.4,877.8 L931.8,874.9 L932.2,875.9 L932.6,874.1 L933.0,877.4 L933.4,877.4 L933.8,878.0 L934.2,875.1 L934.6,874.8 L935.0,879.9 L935.4,877.3 L935.8,880.3 L936.2,877.8 L936.6,874.2 L937.0,878.5 L937.4,879.3 L937.8,876.0 L938.2,873.2 L938.6,878.1 L939.0,876.6 L939.4,877.4 L939.8,871.9 L940.2,877.7 L940.6,871.9 L941.0,875.2 L941.4,878.5 L941.8,873.3 L942.2,873.2 L942.6,875.9 L943.0,879.8 L943.4,879.7 L943.8,875.5 L944.2,878.5 L944.6,877.7 L945.0,877.1 L945.4,877.2 L945.8,875.2 L946.2,878.0 L946.6,878.5 L947.0,881.4 L947.4,878.2 L947.8,871.8 L948.2,874.1 L948.6,877.0 L949.0,876.5 L949.4,872.8 L949.8,876.0 L950.2,875.6 L950.6,876.1 L951.0,875.9 L951.4,877.9 L951.8,878.8 L952.2,877.4 L952.6,874.0 L953.0,874.4 L953.4,874.7 L953.8,875.8 L954.2,875.1 L954.6,875.2 L955.0,874.1 L955.4,877.5 L955.8,877.3 L956.2,877.5 L956.6,875.5 L957.0,876.5 L957.4,873.9 L957.8,873.6 L958.0,874.5 L958.2,876.6 L958.6,875.1 L959.0,873.2 L959.4,875.4 L959.8,875.9 L960.2,875.3 L960.6,873.6 L961.0,874.8 L961.4,873.8 L961.8,873.8 L962.2,874.0 L962.6,875.4 L963.0,877.2 L963.4,876.5 L963.8,874.5 L964.2,872.4 L964.6,872.3 L965.0,872.2 L965.4,874.5 L965.8,867.3 L966.0,872.5 L966.2,868.2 L966.6,871.6 L967.0,873.7 L967.4,869.2 L967.8,866.3 L968.2,872.4 L968.6,872.4 L969.0,870.0 L969.4,870.8 L969.8,866.5 L970.2,869.5 L970.6,869.8 L971.0,867.2 L971.0,866.5 L971.4,867.6 L971.8,866.4 L972.2,861.8 L972.6,864.5 L973.0,862.1 L973.4,859.6 L973.8,860.2 L974.2,857.9 L974.5,856.4 L974.6,853.6 L975.0,854.2 L975.4,848.5 L975.8,847.9 L976.2,842.5 L976.6,839.7 L977.0,840.8 L977.0,839.9 L977.4,837.0 L977.8,834.3 L978.2,830.1 L978.6,824.1 L979.0,822.1 L979.0,821.9 L979.4,817.7 L979.8,815.1 L980.2,811.2 L980.5,807.8 L980.6,807.4 L981.0,804.0 L981.4,802.5 L981.7,793.5 L981.8,794.6 L982.2,784.4 L982.6,783.7 L983.0,777.4 L983.0,778.3 L983.4,783.0 L983.8,788.6 L984.2,790.9 L984.3,796.0 L984.6,798.8 L985.0,806.0 L985.3,809.3 L985.4,811.7 L985.8,816.2 L986.2,820.5 L986.3,824.1 L986.6,822.8 L987.0,829.5 L987.4,832.8 L987.8,837.7 L987.8,837.2 L988.2,840.6 L988.6,842.7 L989.0,845.1 L989.4,844.9 L989.8,849.4 L990.0,850.6 L990.2,849.4 L990.6,850.2 L991.0,851.1 L991.4,856.1 L991.8,854.1 L992.2,855.0 L992.6,854.2 L993.0,854.0 L993.3,853.4 L993.4,857.8 L993.8,851.5 L994.2,854.3 L994.6,852.5 L995.0,850.6 L995.4,846.7 L995.8,845.6 L996.2,847.9 L996.5,843.8 L996.6,846.2 L997.0,844.0 L997.4,841.7 L997.8,839.7 L998.2,833.8 L998.6,832.8 L999.0,832.9 L999.4,827.9 L999.8,832.2 L1000.1,828.0 L1000.2,828.9 L1000.6,827.8 L1001.0,831.7 L1001.4,831.6 L1001.8,834.8 L1002.2,835.7 L1002.6,842.3 L1003.0,839.6 L1003.4,845.4 L1003.5,845.4 L1003.8,847.0 L1004.2,846.1 L1004.6,851.4 L1005.0,852.8 L1005.4,852.9 L1005.8,854.7 L1006.2,855.2 L1006.6,858.0 L1007.0,856.5 L1007.0,859.0 L1007.4,859.8 L1007.8,857.7 L1008.2,856.6 L1008.6,862.0 L1009.0,862.9 L1009.4,866.2 L1009.8,865.0 L1010.2,864.8 L1010.6,864.0 L1011.0,866.8 L1011.0,866.0 L1011.4,865.7 L1011.8,868.0 L1012.2,870.7 L1012.6,869.6 L1013.0,868.2 L1013.4,871.1 L1013.8,869.0 L1014.2,868.5 L1014.6,872.3 L1015.0,870.5 L1015.0,873.5 L1015.4,872.0 L1015.8,869.9 L1016.2,871.4 L1016.6,872.9 L1017.0,869.9 L1017.4,867.9 L1017.8,868.1 L1018.2,867.2 L1018.6,866.0 L1019.0,865.2 L1019.4,867.6 L1019.8,868.2 L1020.0,865.4 L1020.2,867.1 L1020.6,866.6 L1021.0,867.1 L1021.4,862.9 L1021.8,861.6 L1022.2,861.8 L1022.6,860.2 L1023.0,859.5 L1023.4,860.2 L1023.8,856.2 L1024.2,856.4 L1024.6,853.6 L1025.0,854.4 L1025.4,853.1 L1025.8,852.7 L1026.0,853.6 L1026.2,853.3 L1026.6,855.1 L1027.0,856.6 L1027.4,853.6 L1027.8,859.1 L1028.2,854.8 L1028.6,860.4 L1029.0,862.5 L1029.4,861.4 L1029.8,863.2 L1030.0,862.6 L1030.2,866.0 L1030.6,860.8 L1031.0,864.6 L1031.4,863.9 L1031.8,868.5 L1032.2,871.3 L1032.6,871.9 L1033.0,871.7 L1033.4,871.5 L1033.8,870.1 L1034.2,873.6 L1034.2,872.6 L1034.6,870.0 L1035.0,869.0 L1035.4,869.8 L1035.8,872.4 L1036.2,872.2 L1036.6,872.2 L1037.0,867.6 L1037.4,867.7 L1037.8,870.0 L1038.2,867.5 L1038.6,867.8 L1039.0,863.7 L1039.0,865.4 L1039.4,865.4 L1039.8,864.3 L1040.2,863.5 L1040.6,860.8 L1041.0,865.7 L1041.4,862.5 L1041.8,859.1 L1042.2,862.9 L1042.6,860.7 L1043.0,861.5 L1043.4,859.7 L1043.7,858.7 L1043.8,858.7 L1044.2,860.9 L1044.6,862.1 L1045.0,862.3 L1045.4,863.5 L1045.8,865.5 L1046.2,865.0 L1046.6,867.4 L1047.0,868.6 L1047.4,868.3 L1047.8,868.5 L1048.0,868.3 L1048.2,867.4 L1048.6,867.5 L1049.0,873.1 L1049.4,871.6 L1049.8,871.4 L1050.2,875.7 L1050.6,875.3 L1051.0,874.5 L1051.4,876.7 L1051.8,875.2 L1052.2,876.7 L1052.6,879.6 L1053.0,878.7 L1053.2,876.6 L1053.4,878.4 L1053.8,879.5 L1054.2,877.7 L1054.6,877.4 L1055.0,881.6 L1055.4,878.2 L1055.8,876.7 L1056.2,879.4 L1056.6,883.2 L1057.0,880.7 L1057.4,881.4 L1057.8,876.4 L1058.2,879.3 L1058.6,882.4 L1059.0,879.9 L1059.4,883.0 L1059.8,881.7 L1060.2,881.8 L1060.6,884.1 L1061.0,880.5 L1061.4,880.7 L1061.8,881.8 L1062.0,882.1 L1062.2,878.9 L1062.6,884.0 L1063.0,882.4 L1063.4,881.9 L1063.8,883.3 L1064.2,881.8 L1064.6,884.6 L1065.0,882.8 L1065.4,884.0 L1065.8,881.4 L1066.2,882.6 L1066.6,883.8 L1067.0,881.7 L1067.4,882.2 L1067.8,883.3 L1068.2,885.4 L1068.6,884.9 L1069.0,885.2 L1069.4,884.3 L1069.8,885.3 L1070.2,886.4 L1070.6,884.2 L1071.0,884.7 L1071.4,884.9 L1071.8,880.7 L1072.2,883.8 L1072.3,884.7 L1072.6,885.2 L1073.0,883.5 L1073.4,885.6 L1073.8,882.9 L1074.2,883.7 L1074.6,886.7 L1075.0,881.7 L1075.4,883.8 L1075.8,883.7 L1076.2,883.8 L1076.6,883.0 L1077.0,885.0 L1077.4,882.1 L1077.8,881.7 L1078.2,884.6 L1078.6,881.9 L1079.0,884.4 L1079.4,883.8 L1079.8,882.6 L1080.2,883.2 L1080.6,883.6 L1081.0,884.4 L1081.4,882.6 L1081.8,883.3 L1082.2,881.3 L1082.6,883.1 L1083.0,880.4 L1083.4,883.5 L1083.8,882.8 L1084.2,886.9 L1084.6,885.5 L1085.0,883.2 L1085.4,884.9 L1085.8,883.8 L1086.2,881.4 L1086.6,879.3 L1087.0,885.0 L1087.4,883.8 L1087.8,880.0 L1088.2,884.2 L1088.6,884.6 L1089.0,882.0 L1089.4,884.3 L1089.8,880.2 L1090.2,882.6 L1090.6,883.0 L1091.0,884.2 L1091.4,883.5 L1091.8,883.2 L1092.2,883.7 L1092.6,881.7 L1093.0,885.1 L1093.4,882.1 L1093.8,883.9 L1094.2,882.6 L1094.6,882.1 L1095.0,883.4 L1095.4,883.2 L1095.8,884.6 L1096.2,884.1 L1096.6,881.4 L1097.0,883.1 L1097.4,882.4 L1097.8,880.9 L1098.2,880.4 L1098.6,882.5 L1099.0,881.2 L1099.4,879.8 L1099.5,881.9 L1099.8,882.4 L1100.2,882.1 L1100.6,880.0 L1101.0,880.9 L1101.4,884.0 L1101.8,880.6 L1102.2,881.2 L1102.6,885.4 L1103.0,882.2 L1103.4,880.8 L1103.8,878.4 L1104.2,881.9 L1104.6,879.2 L1105.0,881.3 L1105.4,879.9 L1105.8,878.5 L1106.2,883.7 L1106.6,880.9 L1107.0,882.4 L1107.4,882.1 L1107.8,879.7 L1108.2,880.9 L1108.6,880.1 L1109.0,882.1 L1109.4,881.1 L1109.8,879.8 L1110.2,882.9 L1110.6,881.0 L1111.0,880.8 L1111.4,878.7 L1111.8,880.5 L1112.2,877.4 L1112.6,880.3 L1112.6,878.1 L1113.0,879.8 L1113.4,878.9 L1113.8,879.5 L1114.2,879.5 L1114.6,878.7 L1115.0,878.5 L1115.4,876.0 L1115.8,875.1 L1116.2,879.8 L1116.6,878.5 L1117.0,875.0 L1117.4,880.0 L1117.8,875.5 L1118.2,877.1 L1118.6,876.7 L1118.6,876.2 L1119.0,876.6 L1119.4,873.1 L1119.8,874.7 L1120.2,873.9 L1120.6,873.9 L1121.0,872.8 L1121.4,871.6 L1121.8,870.8 L1122.2,872.7 L1122.6,869.2 L1123.0,870.3 L1123.4,869.5 L1123.5,868.5 L1123.8,868.7 L1124.2,867.7 L1124.6,864.8 L1125.0,864.7 L1125.4,865.6 L1125.8,859.4 L1126.2,858.9 L1126.5,856.8 L1126.6,860.6 L1127.0,853.4 L1127.4,853.3 L1127.8,852.4 L1128.2,847.1 L1128.6,845.7 L1128.9,842.9 L1129.0,841.3 L1129.4,840.5 L1129.8,838.5 L1130.2,834.3 L1130.6,832.5 L1131.0,831.1 L1131.0,831.8 L1131.4,826.0 L1131.8,826.6 L1132.2,822.6 L1132.6,818.7 L1133.0,818.9 L1133.4,820.2 L1133.7,819.5 L1133.8,817.3 L1134.2,822.3 L1134.6,822.2 L1135.0,823.9 L1135.4,826.0 L1135.8,830.5 L1136.2,832.3 L1136.5,836.7 L1136.6,836.2 L1137.0,839.8 L1137.4,842.0 L1137.8,844.0 L1138.2,850.7 L1138.6,851.4 L1139.0,855.1 L1139.2,856.0 L1139.4,855.4 L1139.8,859.0 L1140.2,856.4 L1140.6,861.6 L1141.0,859.1 L1141.4,862.0 L1141.8,862.8 L1142.0,859.7 L1142.2,860.0 L1142.6,862.7 L1143.0,861.7 L1143.4,861.7 L1143.8,859.0 L1144.2,859.4 L1144.6,862.7 L1145.0,864.1 L1145.4,860.9 L1145.5,860.7 L1145.8,862.2 L1146.2,862.3 L1146.6,861.9 L1147.0,859.7 L1147.4,856.7 L1147.8,861.1 L1148.2,857.6 L1148.5,859.9 L1148.6,854.9 L1149.0,858.1 L1149.4,856.4 L1149.8,855.2 L1150.2,858.0 L1150.6,858.2 L1151.0,855.2 L1151.4,857.0 L1151.5,854.4 L1151.8,855.2 L1152.2,856.3 L1152.6,857.0 L1153.0,859.6 L1153.4,858.1 L1153.8,862.7 L1154.2,864.1 L1154.6,863.6 L1155.0,863.2 L1155.0,861.5 L1155.4,865.9 L1155.8,866.0 L1156.2,868.3 L1156.6,867.7 L1157.0,870.4 L1157.4,871.3 L1157.8,872.3 L1158.2,873.5 L1158.6,874.1 L1158.9,875.4 L1159.0,872.9 L1159.4,875.5 L1159.8,875.0 L1160.2,874.5 L1160.6,873.9 L1161.0,877.8 L1161.4,876.2 L1161.8,875.4 L1162.2,876.4 L1162.6,876.5 L1163.0,875.9 L1163.4,874.8 L1163.8,877.3 L1164.2,877.0 L1164.6,876.9 L1165.0,878.9 L1165.0,875.6 L1165.4,876.3 L1165.8,878.0 L1166.2,879.1 L1166.6,878.9 L1167.0,879.2 L1167.4,875.1 L1167.8,879.1 L1168.2,879.1 L1168.6,879.6 L1169.0,877.7 L1169.4,879.6 L1169.8,880.4 L1170.2,881.4 L1170.6,879.5 L1171.0,877.3 L1171.4,879.4 L1171.8,880.4 L1172.2,880.3 L1172.5,882.4 L1172.6,879.3 L1173.0,878.3 L1173.4,879.0 L1173.8,881.0 L1174.2,879.0 L1174.6,878.8 L1175.0,879.2 L1175.4,882.3 L1175.8,881.0 L1176.2,880.3 L1176.6,882.2 L1177.0,882.1 L1177.4,879.9 L1177.8,882.6 L1178.2,881.9 L1178.6,878.7 L1179.0,880.2 L1179.4,882.4 L1179.8,882.9 L1180.2,881.9 L1180.6,881.0 L1181.0,883.0 L1181.4,880.1 L1181.8,883.7 L1182.2,882.8 L1182.6,883.2 L1183.0,882.4 L1183.4,884.7 L1183.8,880.3 L1184.2,882.5 L1184.6,884.7 L1185.0,883.0 L1185.4,886.2 L1185.8,884.8 L1186.2,883.2 L1186.6,886.0 L1187.0,884.4 L1187.4,885.4 L1187.8,883.8 L1188.2,883.9 L1188.6,885.8 L1189.0,885.0 L1189.4,883.8 L1189.8,883.7 L1190.2,885.9 L1190.6,887.5 L1191.0,883.9 L1191.4,886.0 L1191.5,881.3 L1191.8,883.1 L1192.2,886.0 L1192.6,887.3 L1193.0,885.1 L1193.4,885.8 L1193.8,885.4 L1194.2,886.5 L1194.6,883.5 L1195.0,885.9 L1195.4,884.4 L1195.8,884.6 L1196.2,885.0 L1196.6,884.7 L1197.0,883.9 L1197.4,884.6 L1197.8,883.7 L1198.2,887.1 L1198.6,886.0 L1199.0,884.4 L1199.4,887.2 L1199.8,886.7 L1200.2,885.6 L1200.6,884.1 L1201.0,885.2 L1201.4,885.7 L1201.8,886.8 L1202.2,884.6 L1202.6,884.0 L1203.0,888.0 L1203.4,886.7 L1203.8,885.2 L1204.2,883.4 L1204.6,885.4 L1205.0,886.2 L1205.4,885.7 L1205.8,885.8 L1206.2,884.6 L1206.6,886.1 L1207.0,883.6 L1207.4,883.8 L1207.8,883.7 L1208.2,883.5 L1208.6,887.1 L1209.0,881.9 L1209.4,884.6 L1209.8,882.8 L1210.2,882.4 L1210.6,884.3 L1211.0,881.9 L1211.4,883.9 L1211.8,887.2 L1212.2,883.8 L1212.6,884.5 L1213.0,882.6 L1213.3,884.4 L1213.4,881.6 L1213.8,883.9 L1214.2,883.2 L1214.6,886.0 L1215.0,882.4 L1215.4,881.5 L1215.8,880.7 L1216.2,879.2 L1216.6,881.3 L1217.0,881.6 L1217.4,878.4 L1217.8,879.3 L1218.0,877.5 L1218.2,878.3 L1218.6,877.8 L1219.0,874.5 L1219.4,874.7 L1219.8,876.5 L1220.2,871.7 L1220.6,873.6 L1221.0,872.2 L1221.4,870.4 L1221.5,871.6 L1221.8,871.1 L1222.2,870.2 L1222.6,864.3 L1223.0,868.9 L1223.4,864.2 L1223.8,864.6 L1224.2,861.2 L1224.5,859.2 L1224.6,859.5 L1225.0,861.1 L1225.4,857.3 L1225.8,852.3 L1226.2,851.1 L1226.4,851.6 L1226.6,850.1 L1227.0,847.9 L1227.4,846.0 L1227.8,843.4 L1228.2,844.7 L1228.6,844.0 L1229.0,844.6 L1229.4,839.9 L1229.8,841.1 L1230.2,840.0 L1230.2,841.8 L1230.6,840.1 L1231.0,840.1 L1231.4,839.8 L1231.8,844.6 L1232.2,845.3 L1232.6,848.2 L1233.0,847.2 L1233.0,851.7 L1233.4,848.4 L1233.8,851.7 L1234.2,853.2 L1234.6,855.8 L1235.0,855.7 L1235.4,856.3 L1235.5,856.6 L1235.8,860.4 L1236.2,861.1 L1236.6,863.2 L1237.0,863.3 L1237.4,866.4 L1237.8,868.1 L1238.2,870.0 L1238.5,867.9 L1238.6,869.2 L1239.0,873.8 L1239.4,871.9 L1239.8,873.4 L1240.2,874.0 L1240.6,873.3 L1241.0,874.6 L1241.4,877.2 L1241.8,876.0 L1242.0,879.9 L1242.2,874.8 L1242.6,874.1 L1243.0,876.1 L1243.4,874.6 L1243.8,878.0 L1244.2,875.0 L1244.6,876.0 L1245.0,872.8 L1245.4,875.4 L1245.8,875.0 L1246.0,875.8 L1246.2,874.2 L1246.6,874.3 L1247.0,873.5 L1247.4,874.2 L1247.8,872.0 L1248.2,873.0 L1248.6,871.1 L1249.0,872.7 L1249.4,871.0 L1249.8,870.3 L1250.2,870.1 L1250.6,873.1 L1250.9,868.8 L1251.0,868.9 L1251.4,872.1 L1251.8,870.1 L1252.2,871.4 L1252.6,872.0 L1253.0,876.7 L1253.4,873.2 L1253.8,873.9 L1254.2,875.1 L1254.6,876.7 L1255.0,877.7 L1255.0,874.9 L1255.4,878.2 L1255.8,880.9 L1256.2,876.1 L1256.6,880.0 L1257.0,880.9 L1257.4,880.5 L1257.8,880.5 L1258.2,877.9 L1258.6,883.4 L1259.0,881.6 L1259.4,882.1 L1259.6,884.2 L1259.8,879.3 L1260.2,882.8 L1260.6,883.9 L1261.0,884.3 L1261.4,884.4 L1261.8,886.7 L1262.2,884.4 L1262.6,885.6 L1263.0,885.5 L1263.4,882.5 L1263.8,883.7 L1264.2,887.9 L1264.6,884.7 L1265.0,885.2 L1265.4,883.6 L1265.8,885.1 L1266.2,883.9 L1266.6,885.0 L1267.0,886.8 L1267.4,884.9 L1267.8,885.3 L1268.2,888.2 L1268.6,887.0 L1269.0,887.1 L1269.4,887.9 L1269.8,885.7 L1270.2,885.9 L1270.5,883.6 L1270.6,887.5 L1271.0,886.2 L1271.4,886.5 L1271.8,884.9 L1272.2,887.3 L1272.6,887.3 L1273.0,886.6 L1273.4,884.0 L1273.8,885.0 L1274.2,886.1 L1274.6,884.9 L1275.0,886.5 L1275.4,887.3 L1275.8,884.7 L1276.2,885.5 L1276.6,884.6 L1277.0,887.0 L1277.4,886.7 L1277.8,889.0 L1278.2,885.2 L1278.6,883.8 L1279.0,885.6 L1279.4,884.6 L1279.8,885.1 L1280.2,886.5 L1280.6,884.2 L1281.0,885.5 L1281.4,881.4 L1281.8,885.8 L1282.2,884.4 L1282.6,883.8 L1283.0,883.4 L1283.4,886.0 L1283.8,883.2 L1284.2,885.7 L1284.6,883.1 L1285.0,883.9 L1285.4,884.3 L1285.8,886.6 L1286.2,884.1 L1286.6,884.1 L1286.8,883.6 L1287.0,883.3 L1287.4,882.9 L1287.8,886.3 L1288.2,885.9 L1288.6,882.8 L1289.0,884.1 L1289.4,882.2 L1289.8,885.3 L1290.2,885.0 L1290.6,884.3 L1291.0,883.1 L1291.4,885.4 L1291.8,885.3 L1292.2,884.3 L1292.6,885.7 L1293.0,882.8 L1293.4,884.0 L1293.8,883.6 L1294.2,885.3 L1294.6,887.6 L1295.0,885.4 L1295.4,887.1 L1295.8,885.5 L1296.2,885.1 L1296.6,887.3 L1297.0,886.8 L1297.4,888.1 L1297.8,887.6 L1298.2,885.2 L1298.6,882.8 L1299.0,886.8 L1299.4,885.0 L1299.8,884.8 L1300.2,884.8 L1300.6,886.1 L1301.0,886.9 L1301.4,887.2 L1301.8,890.2 L1302.2,885.7 L1302.6,887.5 L1303.0,885.8 L1303.4,886.2 L1303.8,887.8 L1304.2,888.3 L1304.6,885.9 L1305.0,889.4 L1305.4,886.5 L1305.8,889.2 L1305.9,887.7 L1306.2,889.1 L1306.6,888.6 L1307.0,887.4 L1307.4,888.5 L1307.8,885.8 L1308.2,885.9 L1308.6,887.2 L1309.0,889.6 L1309.4,886.5 L1309.8,886.7 L1310.2,889.9 L1310.6,887.5 L1311.0,887.4 L1311.4,885.8 L1311.8,887.3 L1312.2,888.0 L1312.6,887.0 L1313.0,888.1 L1313.4,887.4 L1313.8,888.3 L1314.2,887.9 L1314.6,886.4 L1315.0,887.8 L1315.4,889.0 L1315.8,886.7 L1316.2,884.4 L1316.6,886.3 L1317.0,885.6 L1317.4,889.5 L1317.8,886.7 L1318.2,883.9 L1318.6,885.1 L1319.0,887.3 L1319.4,883.4 L1319.5,884.3 L1319.8,884.9 L1320.2,884.4 L1320.6,883.4 L1321.0,884.1 L1321.4,881.4 L1321.8,882.1 L1322.2,881.6 L1322.6,881.5 L1323.0,880.9 L1323.4,880.8 L1323.8,879.8 L1324.0,879.4 L1324.2,880.2 L1324.6,880.5 L1325.0,880.0 L1325.4,876.4 L1325.8,877.8 L1326.2,877.8 L1326.6,875.7 L1327.0,876.0 L1327.4,874.3 L1327.7,874.5 L1327.8,871.6 L1328.2,873.4 L1328.6,870.9 L1329.0,869.2 L1329.4,868.6 L1329.8,869.2 L1330.2,868.0 L1330.5,866.3 L1330.6,867.0 L1331.0,864.4 L1331.4,862.4 L1331.8,860.8 L1332.2,862.8 L1332.6,862.1 L1333.0,862.0 L1333.0,862.1 L1333.4,863.5 L1333.8,860.2 L1334.2,860.1 L1334.6,863.8 L1335.0,862.0 L1335.4,860.2 L1335.8,857.6 L1336.2,859.2 L1336.6,859.7 L1337.0,860.0 L1337.4,860.3 L1337.8,859.7 L1338.2,861.6 L1338.6,858.3 L1338.6,859.5 L1339.0,859.0 L1339.4,861.2 L1339.8,860.4 L1340.2,861.4 L1340.6,860.6 L1341.0,864.5 L1341.4,861.9 L1341.8,860.1 L1342.2,861.4 L1342.6,861.1 L1343.0,863.0 L1343.4,863.5 L1343.8,862.9 L1344.2,862.3 L1344.6,861.8 L1345.0,865.3 L1345.0,864.6 L1345.4,859.4 L1345.8,863.4 L1346.2,862.3 L1346.6,863.1 L1347.0,866.3 L1347.4,862.4 L1347.8,862.7 L1348.2,867.8 L1348.6,863.7 L1349.0,864.1 L1349.4,866.1 L1349.5,863.8 L1349.8,864.5 L1350.2,864.7 L1350.6,866.1 L1351.0,861.4 L1351.4,862.2 L1351.8,862.8 L1352.2,863.8 L1352.6,861.1 L1353.0,862.2 L1353.4,860.4 L1353.5,860.4 L1353.8,862.5 L1354.2,859.9 L1354.6,863.5 L1355.0,859.8 L1355.4,860.3 L1355.8,859.2 L1356.2,855.3 L1356.5,854.8 L1356.6,857.5 L1357.0,854.4 L1357.4,854.2 L1357.8,853.5 L1358.2,851.5 L1358.6,853.3 L1359.0,851.6 L1359.4,849.7 L1359.8,849.2 L1360.0,846.7 L1360.2,848.8 L1360.6,845.5 L1361.0,848.0 L1361.4,843.8 L1361.8,843.1 L1362.2,844.7 L1362.6,843.2 L1363.0,840.3 L1363.4,842.1 L1363.8,841.0 L1364.0,841.0 L1364.2,841.9 L1364.6,842.3 L1365.0,843.7 L1365.4,843.9 L1365.8,844.9 L1366.2,845.6 L1366.6,849.3 L1367.0,847.4 L1367.4,852.5 L1367.5,853.1 L1367.8,854.0 L1368.2,851.9 L1368.6,856.4 L1369.0,856.4 L1369.4,857.6 L1369.8,860.9 L1370.2,858.6 L1370.5,859.8 L1370.6,857.4 L1371.0,856.9 L1371.4,861.2 L1371.8,862.2 L1372.2,863.3 L1372.6,863.4 L1373.0,860.8 L1373.4,864.8 L1373.8,866.5 L1374.2,867.7 L1374.6,864.6 L1375.0,865.3 L1375.4,866.1 L1375.8,866.7 L1376.2,865.8 L1376.6,867.6 L1376.7,871.0 L1377.0,867.6 L1377.4,866.9 L1377.8,869.6 L1378.2,869.7 L1378.6,871.8 L1379.0,870.2 L1379.4,871.4 L1379.8,870.8 L1380.2,871.0 L1380.6,873.3 L1381.0,873.3 L1381.4,873.4 L1381.8,874.6 L1382.2,873.1 L1382.6,874.7 L1383.0,875.3 L1383.4,877.1 L1383.8,873.1 L1384.2,875.7 L1384.6,877.3 L1384.9,876.2 L1385.0,877.2 L1385.4,878.6 L1385.8,878.8 L1386.2,876.2 L1386.6,877.6 L1387.0,876.2 L1387.4,881.5 L1387.8,881.5 L1388.2,883.8 L1388.6,882.6 L1389.0,881.5 L1389.4,885.3 L1389.8,882.4 L1390.2,884.9 L1390.6,885.1 L1391.0,887.0 L1391.4,887.7 L1391.8,886.1 L1392.2,886.0 L1392.6,887.2 L1393.0,886.7 L1393.0,888.9 L1393.4,888.2 L1393.8,889.8 L1394.2,891.6 L1394.6,886.8 L1395.0,887.3 L1395.4,889.0 L1395.8,889.0 L1396.2,888.0 L1396.6,886.2 L1397.0,892.4 L1397.4,889.0 L1397.8,887.3 L1398.2,885.6 L1398.6,891.1 L1399.0,889.7 L1399.4,889.3 L1399.8,887.9 L1400.2,889.3 L1400.6,889.0 L1401.0,886.0 L1401.4,893.4 L1401.8,890.3 L1402.2,889.3 L1402.6,888.4 L1403.0,889.0 L1403.4,893.4 L1403.8,890.5 L1404.2,888.0 L1404.6,891.2 L1405.0,890.7 L1405.4,890.7 L1405.8,889.8 L1406.0,889.7"/>
<path stroke="#f00" d="M123.0,701.6 L123.4,699.4 L123.8,699.8 L124.2,693.1 L124.6,707.6 L125.0,705.5 L125.4,700.6 L125.8,704.5 L126.2,702.9 L126.6,700.3 L127.0,705.5 L127.4,701.3 L127.8,701.4 L128.2,700.0 L128.6,704.3 L129.0,702.6 L129.4,704.9 L129.8,701.1 L130.2,703.8 L130.6,700.5 L131.0,706.4 L131.4,704.4 L131.8,705.0 L132.2,705.4 L132.6,700.8 L133.0,707.0 L133.4,711.4 L133.8,699.1 L134.2,699.0 L134.6,699.9 L135.0,707.9 L135.4,705.7 L135.8,709.0 L136.2,708.0 L136.6,706.4 L137.0,706.8 L137.4,705.5 L137.8,709.1 L138.2,702.6 L138.6,705.1 L139.0,707.5 L139.4,712.9 L139.8,704.4 L140.2,703.6 L140.6,705.4 L141.0,710.7 L141.0,706.7 L141.4,712.1 L141.8,701.6 L142.2,711.8 L142.6,711.6 L143.0,703.6 L143.4,709.1 L143.8,712.8 L144.2,709.2 L144.6,712.4 L145.0,717.2 L145.4,710.4 L145.8,708.7 L146.2,707.2 L146.6,712.2 L147.0,709.5 L147.4,709.8 L147.8,710.2 L148.2,712.9 L148.6,707.4 L149.0,706.1 L149.4,703.3 L149.8,715.6 L150.2,712.0 L150.6,717.0 L151.0,712.1 L151.4,709.9 L151.8,714.2 L152.2,712.5 L152.6,708.8 L153.0,710.2 L153.4,719.3 L153.8,714.8 L154.2,715.2 L154.6,713.1 L155.0,711.9 L155.4,717.4 L155.8,714.3 L156.2,712.4 L156.6,714.7 L157.0,712.3 L157.4,716.2 L157.8,719.5 L158.2,713.2 L158.6,720.9 L159.0,714.2 L159.4,717.1 L159.8,714.1 L160.2,716.3 L160.6,717.5 L161.0,716.1 L161.4,715.4 L161.8,715.7 L162.2,715.5 L162.6,713.2 L163.0,717.8 L163.4,720.2 L163.8,722.1 L164.2,721.5 L164.6,727.7 L165.0,720.8 L165.4,718.5 L165.8,726.4 L166.2,717.0 L166.6,723.9 L167.0,717.8 L167.4,722.3 L167.8,714.9 L168.0,724.5 L168.2,721.1 L168.6,718.7 L169.0,727.6 L169.4,724.8 L169.8,722.7 L170.2,720.3 L170.6,722.9 L171.0,722.7 L171.4,725.9 L171.8,726.4 L172.2,721.8 L172.6,722.5 L173.0,722.8 L173.4,720.3 L173.8,723.1 L174.2,725.0 L174.6,727.8 L175.0,730.1 L175.4,723.4 L175.8,728.1 L176.2,725.1 L176.6,733.6 L177.0,726.9 L177.4,729.0 L177.8,724.5 L178.2,725.2 L178.6,728.8 L179.0,727.1 L179.4,729.8 L179.8,723.8 L180.2,731.3 L180.6,726.5 L181.0,735.3 L181.4,729.0 L181.8,733.8 L182.2,725.9 L182.6,732.2 L183.0,728.1 L183.4,729.7 L183.8,731.6 L184.2,730.8 L184.6,733.0 L185.0,734.8 L185.4,734.8 L185.8,732.6 L186.2,728.7 L186.6,730.8 L187.0,733.1 L187.4,727.1 L187.8,736.7 L188.2,733.7 L188.6,734.0 L189.0,738.1 L189.4,737.5 L189.8,736.3 L190.2,732.6 L190.6,737.1 L191.0,737.5 L191.4,733.8 L191.8,740.3 L192.2,738.8 L192.6,731.0 L193.0,738.1 L193.4,733.9 L193.8,741.9 L194.2,741.1 L194.6,735.2 L195.0,736.1 L195.0,739.3 L195.4,738.5 L195.8,744.5 L196.2,742.2 L196.6,739.1 L197.0,742.2 L197.4,734.0 L197.8,741.8 L198.2,743.9 L198.6,740.8 L199.0,739.3 L199.4,743.7 L199.8,748.5 L200.2,743.1 L200.6,739.1 L201.0,747.6 L201.4,737.1 L201.8,745.1 L202.2,741.9 L202.6,747.0 L203.0,741.6 L203.4,748.9 L203.8,745.8 L204.2,739.5 L204.6,739.0 L205.0,744.6 L205.4,750.1 L205.8,746.6 L206.2,746.7 L206.6,746.0 L207.0,749.4 L207.4,748.5 L207.8,748.4 L208.2,744.6 L208.6,751.9 L209.0,752.7 L209.4,744.4 L209.8,756.3 L210.2,751.5 L210.6,747.8 L211.0,743.5 L211.4,752.0 L211.8,752.0 L212.2,748.5 L212.6,744.9 L213.0,754.6 L213.4,749.3 L213.8,749.9 L214.2,760.1 L214.6,758.8 L215.0,755.3 L215.4,751.0 L215.8,754.8 L216.2,745.6 L216.6,753.5 L217.0,751.0 L217.4,749.5 L217.8,748.8 L218.2,755.8 L218.6,754.6 L219.0,755.1 L219.4,757.5 L219.8,752.3 L220.2,751.3 L220.6,749.8 L221.0,754.6 L221.4,758.4 L221.8,755.7 L222.2,758.4 L222.5,752.7 L222.6,755.1 L223.0,754.3 L223.4,753.0 L223.8,763.1 L224.2,760.1 L224.6,755.2 L225.0,755.4 L225.4,757.9 L225.8,753.7 L226.2,759.9 L226.6,754.6 L227.0,757.8 L227.4,756.0 L227.8,757.9 L228.2,755.4 L228.6,754.9 L229.0,757.1 L229.4,758.2 L229.8,759.7 L230.2,761.0 L230.6,765.9 L231.0,763.8 L231.4,760.7 L231.8,764.0 L232.2,759.7 L232.6,766.7 L233.0,764.1 L233.4,758.2 L233.8,765.1 L234.2,765.5 L234.6,754.8 L235.0,760.9 L235.4,761.9 L235.8,757.4 L236.2,760.3 L236.6,760.9 L237.0,765.6 L237.4,765.1 L237.8,772.5 L238.2,763.1 L238.6,768.1 L239.0,764.8 L239.4,765.5 L239.8,761.1 L240.2,758.8 L240.6,762.5 L241.0,767.4 L241.4,770.0 L241.6,766.9 L241.8,766.6 L242.2,762.4 L242.6,769.9 L243.0,769.3 L243.4,763.4 L243.8,765.0 L244.2,762.0 L244.6,769.8 L245.0,766.5 L245.4,764.9 L245.8,766.5 L246.2,766.7 L246.6,764.0 L247.0,761.4 L247.4,761.3 L247.8,759.9 L248.2,766.8 L248.6,772.4 L249.0,760.1 L249.4,765.9 L249.8,766.7 L250.2,762.3 L250.6,766.1 L251.0,762.0 L251.4,769.3 L251.8,763.6 L252.2,765.8 L252.6,767.6 L253.0,764.1 L253.4,759.9 L253.8,763.8 L254.0,767.9 L254.2,765.2 L254.6,766.2 L255.0,762.0 L255.4,765.8 L255.8,767.5 L256.2,765.3 L256.6,771.0 L257.0,764.2 L257.4,761.5 L257.8,759.5 L258.2,768.1 L258.6,764.1 L259.0,767.3 L259.4,765.4 L259.8,768.9 L260.2,767.6 L260.6,762.4 L261.0,764.3 L261.4,766.7 L261.8,759.3 L262.2,767.6 L262.6,766.8 L263.0,766.1 L263.4,762.4 L263.4,763.9 L263.8,759.5 L264.2,763.3 L264.6,761.5 L265.0,763.8 L265.4,762.2 L265.8,765.0 L266.2,768.1 L266.6,760.7 L267.0,768.1 L267.4,759.4 L267.8,759.2 L268.2,766.0 L268.6,766.8 L269.0,768.5 L269.4,762.4 L269.8,767.7 L270.0,768.4 L270.2,772.1 L270.6,768.1 L271.0,770.4 L271.4,766.0 L271.8,768.8 L272.2,768.3 L272.6,772.2 L273.0,767.2 L273.4,768.0 L273.8,772.7 L274.2,776.7 L274.6,772.7 L275.0,772.7 L275.4,770.9 L275.8,775.7 L276.2,774.2 L276.6,778.1 L277.0,774.0 L277.0,770.1 L277.4,771.5 L277.8,770.4 L278.2,769.8 L278.6,777.8 L279.0,776.6 L279.4,770.5 L279.8,780.0 L280.2,775.5 L280.6,772.0 L281.0,776.3 L281.4,775.1 L281.8,773.2 L282.2,769.7 L282.6,776.1 L283.0,777.1 L283.4,768.4 L283.8,778.3 L284.2,778.7 L284.6,775.5 L285.0,777.5 L285.4,776.5 L285.8,774.9 L286.2,776.6 L286.6,782.1 L287.0,773.6 L287.4,779.0 L287.8,779.0 L288.2,776.4 L288.6,777.4 L289.0,774.7 L289.4,776.5 L289.8,779.4 L290.2,780.5 L290.6,776.9 L291.0,787.8 L291.4,778.2 L291.8,780.6 L292.2,779.6 L292.6,779.3 L293.0,784.6 L293.4,779.3 L293.8,785.0 L294.2,784.6 L294.6,778.0 L295.0,784.6 L295.4,779.5 L295.8,789.6 L296.2,780.6 L296.6,779.1 L297.0,776.2 L297.4,778.2 L297.8,780.6 L298.2,779.4 L298.6,778.8 L299.0,780.6 L299.4,782.2 L299.8,787.4 L300.2,777.8 L300.6,781.5 L301.0,780.4 L301.4,778.8 L301.8,779.6 L302.2,780.8 L302.6,785.9 L303.0,783.2 L303.4,782.2 L303.8,785.8 L304.0,784.9 L304.2,783.4 L304.6,785.3 L305.0,781.7 L305.4,786.2 L305.8,785.8 L306.2,783.2 L306.6,780.8 L307.0,789.3 L307.4,785.0 L307.8,792.7 L308.2,782.9 L308.6,787.6 L309.0,783.7 L309.4,785.9 L309.8,787.8 L310.2,782.9 L310.6,785.1 L311.0,786.0 L311.4,785.9 L311.8,787.5 L312.2,788.8 L312.6,788.3 L313.0,786.7 L313.4,784.9 L313.8,782.6 L314.2,783.9 L314.6,784.6 L315.0,788.3 L315.4,785.2 L315.8,782.6 L316.2,788.4 L316.6,784.1 L317.0,784.3 L317.4,786.0 L317.8,788.2 L318.2,779.5 L318.6,783.5 L319.0,787.5 L319.4,785.9 L319.8,784.5 L320.2,785.5 L320.6,791.4 L321.0,785.9 L321.4,789.4 L321.8,789.7 L322.2,786.0 L322.6,788.8 L323.0,786.1 L323.4,785.7 L323.8,784.2 L324.2,790.3 L324.6,786.5 L325.0,786.0 L325.4,784.3 L325.8,793.2 L326.2,790.0 L326.6,787.4 L327.0,785.8 L327.4,783.3 L327.8,788.8 L328.2,788.8 L328.6,783.7 L329.0,791.4 L329.4,790.3 L329.8,785.1 L330.2,786.3 L330.6,786.7 L331.0,788.5 L331.4,787.6 L331.4,783.1 L331.8,792.4 L332.2,788.9 L332.6,791.8 L333.0,791.7 L333.4,787.3 L333.8,789.0 L334.2,790.1 L334.6,790.2 L335.0,787.4 L335.4,786.0 L335.8,787.9 L336.2,785.4 L336.6,786.1 L337.0,781.7 L337.4,787.9 L337.8,784.6 L338.2,786.0 L338.6,787.4 L339.0,788.5 L339.4,793.1 L339.8,788.0 L340.2,783.2 L340.6,787.7 L341.0,785.5 L341.4,788.4 L341.8,785.1 L342.2,785.0 L342.6,785.5 L343.0,785.1 L343.4,781.5 L343.8,784.9 L344.2,786.7 L344.6,790.3 L345.0,785.8 L345.4,785.5 L345.8,788.2 L346.2,788.0 L346.6,791.1 L347.0,788.0 L347.4,786.2 L347.8,790.1 L348.2,790.6 L348.6,784.6 L349.0,786.4 L349.4,780.8 L349.8,784.7 L350.2,783.1 L350.6,785.0 L351.0,784.1 L351.4,784.9 L351.8,785.1 L352.2,786.7 L352.6,785.9 L353.0,783.5 L353.4,781.2 L353.8,788.6 L354.2,789.1 L354.6,783.5 L355.0,786.4 L355.4,780.1 L355.8,779.9 L356.2,783.7 L356.6,788.7 L357.0,781.2 L357.4,781.8 L357.8,788.9 L358.2,778.5 L358.6,785.9 L358.7,785.4 L359.0,783.3 L359.4,784.4 L359.8,791.5 L360.2,780.4 L360.6,782.7 L361.0,782.9 L361.4,781.4 L361.8,779.4 L362.2,788.0 L362.6,783.9 L363.0,778.0 L363.4,781.0 L363.8,784.2 L364.2,784.1 L364.6,778.6 L365.0,782.4 L365.4,783.4 L365.8,783.7 L366.2,783.6 L366.6,777.0 L367.0,787.7 L367.4,782.8 L367.8,787.3 L368.2,789.6 L368.6,781.4 L369.0,778.1 L369.4,784.2 L369.8,781.0 L370.2,780.1 L370.6,778.3 L371.0,786.2 L371.4,779.9 L371.8,776.9 L372.2,779.6 L372.6,777.5 L373.0,781.2 L373.4,779.4 L373.8,777.4 L374.2,782.2 L374.6,778.4 L375.0,782.3 L375.4,783.8 L375.8,778.9 L376.2,778.0 L376.6,780.3 L377.0,782.2 L377.4,779.5 L377.8,779.8 L378.2,779.2 L378.6,780.1 L379.0,780.9 L379.4,776.9 L379.8,777.4 L380.2,778.9 L380.6,776.7 L381.0,778.9 L381.4,779.9 L381.8,778.2 L382.2,776.4 L382.6,775.8 L383.0,783.0 L383.4,780.3 L383.8,774.4 L384.2,775.1 L384.6,782.9 L385.0,781.7 L385.4,777.6 L385.8,780.4 L386.0,772.7 L386.2,776.9 L386.6,779.0 L387.0,771.3 L387.4,774.3 L387.8,778.7 L388.2,779.6 L388.6,774.5 L389.0,776.9 L389.4,780.6 L389.8,774.8 L390.2,771.9 L390.6,775.5 L391.0,774.4 L391.4,779.2 L391.8,775.8 L392.2,772.9 L392.6,782.0 L393.0,773.5 L393.4,776.2 L393.8,776.7 L394.2,776.8 L394.6,775.0 L395.0,776.0 L395.4,774.0 L395.8,770.0 L396.2,773.3 L396.6,773.2 L397.0,773.2 L397.4,773.9 L397.8,771.6 L398.2,777.1 L398.6,777.6 L399.0,766.7 L399.4,772.9 L399.8,770.6 L400.2,765.1 L400.6,773.6 L401.0,770.4 L401.4,771.0 L401.8,770.0 L402.2,774.8 L402.6,775.1 L403.0,772.2 L403.4,773.2 L403.8,770.7 L404.2,771.2 L404.6,768.5 L405.0,770.5 L405.4,768.2 L405.8,771.1 L406.2,772.2 L406.6,770.5 L407.0,772.8 L407.4,776.6 L407.7,763.0 L407.8,769.0 L408.2,767.1 L408.6,767.1 L409.0,764.3 L409.4,768.0 L409.8,766.8 L410.2,765.3 L410.6,766.1 L411.0,764.7 L411.4,759.3 L411.8,768.7 L412.2,764.3 L412.6,762.1 L413.0,765.2 L413.4,762.0 L413.8,757.2 L414.2,765.5 L414.6,757.7 L415.0,761.4 L415.0,762.3 L415.4,765.4 L415.8,764.4 L416.2,761.0 L416.6,757.9 L417.0,758.3 L417.4,762.1 L417.8,763.5 L418.2,759.3 L418.6,755.4 L419.0,759.5 L419.4,754.8 L419.8,754.0 L420.2,753.6 L420.6,755.2 L421.0,753.5 L421.3,754.8 L421.4,755.4 L421.8,752.1 L422.2,742.8 L422.6,743.1 L423.0,746.8 L423.4,744.5 L423.8,749.1 L424.2,741.2 L424.6,739.2 L425.0,740.7 L425.0,741.0 L425.4,735.6 L425.8,735.7 L426.2,729.1 L426.6,727.5 L427.0,731.6 L427.4,722.1 L427.8,726.8 L428.2,724.5 L428.6,723.5 L429.0,723.0 L429.4,721.6 L429.5,714.0 L429.8,717.3 L430.2,719.2 L430.6,724.6 L431.0,720.4 L431.4,723.4 L431.8,726.3 L432.2,733.0 L432.6,727.2 L433.0,729.3 L433.4,736.4 L433.5,729.0 L433.8,736.9 L434.2,736.0 L434.6,734.2 L435.0,738.8 L435.4,738.4 L435.8,742.9 L436.2,744.6 L436.6,748.9 L437.0,745.7 L437.4,746.9 L437.6,745.4 L437.8,747.3 L438.2,751.1 L438.6,743.4 L439.0,751.4 L439.4,748.7 L439.8,751.0 L440.2,752.2 L440.6,754.3 L441.0,753.1 L441.4,751.8 L441.8,754.2 L442.2,753.7 L442.5,753.4 L442.6,754.7 L443.0,756.9 L443.4,755.2 L443.8,755.7 L444.2,752.0 L444.6,755.6 L445.0,751.1 L445.4,758.6 L445.8,754.3 L446.2,760.8 L446.6,764.7 L447.0,756.5 L447.4,761.5 L447.8,759.0 L448.2,756.4 L448.5,755.7 L448.6,759.6 L449.0,761.9 L449.4,759.0 L449.8,753.8 L450.2,755.1 L450.6,757.3 L451.0,761.7 L451.4,758.7 L451.8,758.8 L452.2,761.3 L452.6,757.3 L453.0,757.6 L453.4,757.4 L453.8,752.9 L454.2,759.1 L454.6,758.9 L455.0,760.5 L455.4,754.4 L455.8,755.4 L456.2,760.3 L456.6,758.5 L457.0,761.4 L457.4,755.2 L457.8,758.1 L458.2,755.6 L458.6,758.3 L459.0,756.1 L459.4,758.9 L459.8,760.4 L460.2,759.2 L460.6,752.3 L461.0,759.8 L461.4,758.4 L461.8,754.3 L462.2,754.7 L462.6,757.1 L463.0,758.6 L463.4,755.7 L463.8,752.5 L464.2,757.7 L464.6,757.3 L465.0,763.5 L465.4,753.2 L465.8,763.7 L466.2,761.5 L466.6,757.4 L467.0,761.1 L467.4,756.8 L467.6,759.2 L467.8,754.5 L468.2,756.6 L468.6,753.6 L469.0,752.0 L469.4,755.5 L469.8,754.4 L470.2,757.7 L470.6,759.6 L471.0,755.5 L471.4,756.1 L471.8,756.4 L472.2,751.2 L472.6,756.4 L473.0,755.7 L473.4,755.4 L473.8,752.4 L474.2,749.9 L474.6,754.6 L475.0,756.1 L475.4,758.8 L475.8,758.1 L476.2,758.9 L476.6,755.8 L477.0,757.9 L477.4,754.1 L477.8,756.3 L478.2,757.0 L478.6,761.5 L479.0,754.9 L479.4,750.7 L479.8,757.8 L480.2,751.8 L480.6,753.7 L481.0,753.0 L481.4,751.2 L481.8,757.2 L482.2,755.1 L482.6,751.7 L483.0,753.5 L483.4,752.0 L483.8,754.8 L484.2,752.0 L484.6,750.9 L485.0,751.1 L485.4,751.6 L485.8,753.5 L486.2,750.1 L486.6,752.3 L486.7,753.7 L487.0,758.8 L487.4,754.7 L487.8,745.2 L488.2,750.8 L488.6,751.0 L489.0,752.9 L489.4,756.2 L489.8,753.9 L490.2,745.6 L490.6,752.6 L491.0,752.0 L491.4,752.7 L491.8,755.2 L492.2,748.5 L492.6,754.3 L493.0,746.8 L493.4,751.3 L493.8,752.2 L494.2,757.2 L494.6,749.1 L495.0,746.3 L495.4,752.7 L495.8,749.0 L496.2,754.9 L496.6,748.7 L497.0,748.2 L497.4,753.8 L497.8,750.6 L498.2,753.0 L498.6,746.4 L499.0,754.6 L499.4,748.5 L499.8,752.2 L500.0,747.3 L500.2,745.8 L500.6,749.2 L501.0,750.3 L501.4,754.0 L501.8,750.7 L502.2,751.6 L502.6,751.4 L503.0,756.5 L503.4,747.3 L503.8,752.8 L504.2,749.0 L504.6,750.1 L505.0,747.8 L505.4,752.4 L505.8,745.8 L506.2,745.6 L506.6,748.6 L507.0,746.0 L507.4,750.9 L507.8,751.4 L508.2,746.9 L508.6,750.9 L509.0,747.0 L509.4,748.6 L509.8,748.6 L510.2,753.6 L510.6,748.5 L511.0,745.9 L511.4,745.8 L511.8,751.4 L512.2,743.6 L512.6,746.7 L512.6,747.0 L513.0,741.3 L513.4,746.5 L513.8,750.3 L514.2,748.0 L514.6,744.8 L515.0,748.8 L515.4,748.1 L515.8,751.9 L516.2,744.3 L516.6,744.9 L517.0,745.8 L517.4,745.1 L517.8,745.4 L518.0,744.7 L518.2,743.0 L518.6,740.3 L519.0,742.8 L519.4,740.3 L519.8,740.8 L520.2,741.8 L520.6,744.3 L521.0,744.8 L521.4,739.4 L521.8,742.5 L522.2,743.4 L522.6,740.6 L523.0,735.8 L523.4,733.9 L523.5,741.6 L523.8,741.4 L524.2,738.8 L524.6,734.4 L525.0,739.9 L525.4,738.1 L525.8,733.5 L526.2,731.7 L526.6,725.7 L527.0,731.6 L527.4,724.0 L527.5,729.7 L527.8,728.9 L528.2,725.9 L528.6,728.4 L529.0,721.9 L529.4,722.9 L529.8,722.0 L530.2,719.0 L530.6,715.7 L531.0,718.5 L531.4,714.8 L531.7,711.9 L531.8,711.6 L532.2,710.7 L532.6,714.6 L533.0,707.0 L533.4,704.3 L533.8,700.2 L534.2,698.0 L534.6,694.5 L535.0,698.6 L535.0,698.0 L535.4,693.7 L535.8,690.9 L536.2,692.4 L536.6,690.4 L537.0,686.8 L537.4,689.7 L537.8,688.1 L538.2,686.5 L538.5,687.9 L538.6,684.0 L539.0,688.4 L539.4,681.3 L539.8,684.4 L540.2,683.9 L540.6,680.8 L541.0,681.7 L541.4,676.9 L541.8,675.9 L542.2,679.0 L542.6,677.5 L542.6,681.0 L543.0,679.7 L543.4,682.0 L543.8,682.3 L544.2,683.4 L544.6,684.7 L545.0,685.3 L545.4,686.9 L545.8,695.2 L546.2,687.1 L546.5,692.4 L546.6,695.9 L547.0,696.1 L547.4,700.5 L547.8,700.2 L548.2,697.4 L548.6,701.9 L549.0,701.0 L549.4,709.2 L549.8,712.2 L550.2,708.9 L550.6,713.0 L550.7,710.8 L551.0,709.1 L551.4,713.0 L551.8,711.2 L552.2,715.0 L552.6,718.1 L553.0,720.5 L553.4,722.9 L553.8,719.6 L554.2,721.9 L554.5,723.0 L554.6,723.5 L555.0,716.2 L555.4,721.7 L555.8,726.5 L556.2,722.4 L556.6,726.6 L557.0,728.8 L557.4,722.4 L557.8,727.3 L558.2,728.7 L558.6,728.3 L558.9,724.4 L559.0,729.3 L559.4,726.9 L559.8,730.4 L560.2,729.2 L560.6,726.5 L561.0,728.2 L561.4,725.8 L561.8,725.6 L562.2,723.1 L562.6,726.4 L563.0,728.9 L563.0,727.1 L563.4,726.6 L563.8,724.8 L564.2,724.9 L564.6,728.0 L565.0,722.0 L565.4,731.0 L565.8,725.3 L566.2,731.0 L566.6,728.3 L567.0,724.2 L567.0,727.1 L567.4,726.0 L567.8,726.8 L568.2,728.0 L568.6,725.0 L569.0,725.3 L569.4,726.4 L569.8,724.6 L570.2,728.0 L570.6,729.8 L571.0,730.4 L571.0,730.2 L571.4,729.1 L571.8,732.6 L572.2,725.8 L572.6,730.5 L573.0,731.1 L573.4,734.7 L573.8,734.5 L574.2,735.4 L574.6,733.8 L575.0,736.7 L575.3,732.1 L575.4,735.0 L575.8,729.9 L576.2,740.3 L576.6,740.5 L577.0,735.5 L577.4,735.5 L577.8,732.9 L578.2,735.0 L578.6,739.8 L579.0,739.6 L579.4,736.7 L579.5,739.3 L579.8,739.3 L580.2,742.7 L580.6,743.8 L581.0,742.0 L581.4,743.4 L581.8,743.5 L582.2,738.7 L582.6,744.8 L583.0,744.4 L583.4,746.5 L583.5,740.0 L583.8,746.5 L584.2,742.4 L584.6,743.9 L585.0,745.2 L585.4,737.1 L585.8,736.1 L586.2,740.4 L586.6,733.3 L587.0,732.2 L587.0,736.2 L587.4,732.4 L587.8,733.0 L588.2,729.6 L588.6,726.3 L589.0,726.1 L589.4,726.0 L589.5,719.4 L589.8,720.4 L590.2,714.4 L590.6,705.9 L591.0,700.9 L591.3,693.3 L591.4,692.8 L591.8,690.0 L592.2,684.3 L592.6,682.8 L593.0,671.4 L593.4,669.1 L593.5,667.0 L593.8,664.5 L594.2,662.6 L594.6,651.4 L595.0,651.8 L595.4,644.1 L595.5,643.8 L595.8,644.5 L596.2,637.8 L596.6,637.4 L597.0,635.0 L597.0,634.2 L597.4,634.9 L597.8,634.1 L598.2,640.1 L598.5,645.1 L598.6,646.1 L599.0,645.9 L599.4,657.0 L599.8,661.1 L600.2,661.7 L600.5,666.1 L600.6,671.2 L601.0,670.2 L601.4,677.5 L601.8,683.9 L602.2,688.7 L602.6,694.2 L602.7,696.7 L603.0,698.2 L603.4,705.6 L603.8,718.8 L604.2,716.8 L604.5,723.6 L604.6,726.4 L605.0,729.9 L605.4,739.8 L605.8,741.8 L606.2,747.9 L606.6,743.5 L606.6,752.7 L607.0,755.8 L607.4,754.0 L607.8,761.9 L608.2,761.7 L608.6,765.4 L609.0,769.3 L609.0,765.0 L609.4,763.6 L609.8,767.3 L610.2,765.3 L610.6,767.5 L611.0,768.6 L611.4,769.6 L611.8,775.1 L612.2,775.0 L612.6,771.4 L613.0,777.0 L613.4,770.6 L613.4,773.1 L613.8,775.0 L614.2,778.8 L614.6,778.1 L615.0,777.8 L615.4,780.3 L615.8,779.2 L616.2,781.2 L616.6,776.2 L617.0,774.3 L617.4,777.8 L617.8,781.2 L618.2,780.1 L618.6,782.0 L619.0,781.8 L619.4,781.6 L619.8,782.7 L620.0,779.1 L620.2,783.7 L620.6,778.8 L621.0,781.4 L621.4,778.5 L621.8,783.5 L622.2,778.7 L622.6,786.4 L623.0,779.9 L623.4,784.1 L623.8,783.5 L624.2,781.9 L624.6,787.4 L625.0,783.6 L625.4,788.5 L625.8,782.6 L626.2,783.4 L626.6,780.7 L627.0,787.2 L627.0,788.1 L627.4,786.6 L627.8,785.9 L628.2,784.2 L628.6,792.5 L629.0,788.8 L629.4,782.6 L629.8,786.6 L630.2,781.4 L630.6,791.7 L631.0,792.9 L631.4,791.9 L631.8,788.4 L632.2,787.3 L632.6,785.5 L633.0,790.4 L633.4,787.5 L633.8,788.6 L634.2,788.1 L634.6,789.1 L635.0,792.3 L635.4,794.4 L635.8,790.7 L636.2,790.6 L636.6,787.9 L637.0,787.8 L637.4,788.3 L637.8,793.2 L638.2,791.7 L638.6,793.6 L639.0,792.3 L639.4,790.3 L639.8,788.3 L640.2,790.5 L640.6,787.9 L640.6,796.3 L641.0,792.0 L641.4,790.4 L641.8,796.1 L642.2,790.2 L642.6,792.4 L643.0,790.5 L643.4,791.7 L643.8,789.7 L644.2,791.7 L644.6,793.7 L645.0,787.0 L645.4,784.4 L645.8,792.9 L646.2,789.8 L646.6,791.3 L647.0,788.2 L647.0,792.7 L647.4,793.0 L647.8,785.3 L648.2,789.3 L648.6,785.6 L649.0,782.5 L649.4,785.1 L649.8,786.5 L650.2,781.1 L650.6,780.6 L651.0,786.2 L651.4,782.7 L651.8,783.1 L652.0,779.1 L652.2,780.0 L652.6,781.5 L653.0,781.2 L653.4,780.6 L653.8,783.7 L654.2,779.9 L654.6,775.4 L655.0,776.8 L655.4,778.7 L655.6,781.9 L655.8,777.1 L656.2,778.0 L656.6,779.2 L657.0,778.0 L657.4,778.3 L657.8,780.4 L658.2,784.1 L658.6,783.6 L659.0,782.4 L659.4,784.8 L659.8,781.3 L660.0,787.1 L660.2,786.8 L660.6,786.3 L661.0,782.1 L661.4,791.6 L661.8,781.3 L662.2,785.4 L662.6,786.2 L663.0,790.6 L663.4,785.9 L663.8,790.7 L664.2,790.3 L664.6,790.5 L665.0,793.8 L665.0,795.1 L665.4,793.2 L665.8,792.1 L666.2,787.8 L666.6,797.4 L667.0,793.6 L667.4,790.4 L667.8,795.7 L668.2,799.3 L668.6,796.0 L669.0,793.9 L669.4,802.6 L669.8,799.0 L670.0,798.6 L670.2,800.4 L670.6,793.0 L671.0,798.5 L671.4,798.6 L671.8,804.8 L672.2,798.3 L672.6,798.7 L673.0,797.0 L673.4,798.7 L673.8,800.4 L674.2,801.8 L674.6,800.9 L675.0,806.4 L675.4,802.8 L675.8,803.3 L676.0,805.1 L676.2,803.3 L676.6,800.5 L677.0,798.1 L677.4,802.7 L677.8,799.9 L678.2,805.1 L678.6,800.1 L679.0,796.6 L679.4,802.1 L679.8,804.5 L680.2,801.5 L680.6,802.4 L681.0,802.4 L681.4,806.2 L681.8,802.8 L682.2,802.0 L682.6,800.6 L683.0,798.2 L683.4,805.5 L683.8,804.9 L684.2,799.8 L684.6,803.6 L685.0,802.9 L685.4,801.2 L685.8,801.4 L686.2,804.0 L686.6,799.3 L687.0,800.9 L687.4,802.0 L687.8,802.2 L688.2,801.7 L688.6,802.7 L689.0,803.5 L689.4,800.1 L689.8,802.4 L690.2,801.0 L690.6,805.8 L691.0,798.9 L691.4,801.7 L691.8,803.9 L692.2,801.6 L692.6,801.5 L693.0,801.0 L693.4,803.0 L693.8,799.5 L694.2,802.1 L694.6,802.0 L695.0,798.8 L695.0,802.9 L695.4,801.2 L695.8,803.0 L696.2,804.3 L696.6,803.1 L697.0,799.5 L697.4,803.0 L697.8,798.4 L698.2,800.4 L698.6,806.1 L699.0,802.2 L699.4,805.8 L699.8,801.6 L700.2,802.1 L700.6,799.4 L701.0,804.2 L701.4,801.4 L701.8,803.3 L702.2,802.8 L702.6,803.0 L703.0,802.4 L703.4,801.5 L703.8,801.5 L704.2,799.8 L704.6,796.4 L705.0,802.4 L705.4,806.1 L705.8,803.6 L706.2,806.5 L706.6,802.1 L707.0,798.6 L707.4,798.4 L707.8,802.4 L708.2,801.3 L708.6,800.0 L709.0,802.0 L709.4,798.1 L709.8,801.3 L710.2,799.2 L710.6,800.1 L711.0,802.4 L711.4,799.2 L711.4,802.7 L711.8,802.4 L712.2,797.3 L712.6,804.1 L713.0,795.4 L713.4,797.6 L713.8,799.0 L714.2,791.5 L714.6,798.6 L715.0,798.2 L715.4,794.7 L715.8,795.0 L716.0,794.5 L716.2,793.2 L716.6,795.5 L717.0,791.3 L717.4,791.2 L717.8,791.2 L718.2,791.4 L718.6,791.0 L719.0,784.0 L719.4,781.8 L719.6,785.7 L719.8,785.4 L720.2,782.0 L720.6,784.2 L721.0,784.0 L721.4,782.4 L721.8,784.3 L722.2,777.2 L722.5,779.1 L722.6,783.3 L723.0,779.6 L723.4,774.6 L723.8,776.9 L724.2,778.4 L724.6,779.8 L725.0,776.0 L725.4,776.8 L725.8,771.4 L725.8,773.4 L726.2,776.9 L726.6,772.3 L727.0,774.9 L727.4,771.4 L727.8,779.9 L728.2,777.1 L728.6,779.6 L729.0,775.7 L729.4,776.9 L729.8,784.9 L730.0,780.2 L730.2,780.0 L730.6,783.1 L731.0,783.8 L731.4,778.6 L731.8,781.4 L732.2,784.3 L732.6,784.8 L733.0,786.2 L733.4,784.9 L733.8,785.8 L734.2,787.4 L734.6,785.8 L735.0,786.0 L735.4,787.1 L735.8,788.8 L736.0,788.7 L736.2,788.1 L736.6,789.0 L737.0,789.9 L737.4,791.1 L737.8,791.6 L738.2,788.2 L738.6,793.7 L739.0,788.2 L739.4,793.4 L739.8,790.9 L740.2,794.1 L740.6,795.5 L741.0,789.1 L741.4,795.0 L741.8,794.5 L742.0,792.9 L742.2,795.0 L742.6,793.2 L743.0,794.8 L743.4,792.3 L743.8,796.7 L744.2,796.4 L744.6,796.9 L745.0,793.9 L745.4,799.7 L745.8,800.2 L746.2,795.7 L746.6,795.1 L747.0,795.2 L747.4,797.8 L747.8,798.8 L748.2,794.9 L748.6,792.1 L749.0,797.8 L749.4,796.8 L749.5,797.4 L749.8,798.2 L750.2,794.7 L750.6,797.4 L751.0,796.8 L751.4,798.4 L751.8,800.4 L752.2,797.8 L752.6,796.0 L753.0,800.8 L753.4,799.8 L753.8,797.8 L754.2,794.4 L754.6,796.6 L755.0,799.0 L755.4,800.0 L755.8,797.7 L756.2,800.0 L756.6,797.7 L757.0,798.3 L757.4,800.6 L757.8,798.9 L758.2,799.9 L758.6,801.7 L759.0,802.4 L759.4,798.6 L759.8,799.5 L760.2,797.2 L760.6,797.4 L761.0,801.0 L761.4,799.3 L761.8,796.4 L762.2,801.9 L762.6,798.9 L763.0,800.2 L763.4,801.9 L763.8,801.9 L764.2,801.0 L764.6,796.8 L765.0,802.5 L765.4,800.0 L765.8,798.3 L766.2,796.6 L766.6,804.5 L767.0,801.9 L767.4,801.9 L767.8,803.0 L768.2,801.5 L768.6,798.5 L769.0,803.3 L769.4,804.0 L769.8,803.0 L770.2,805.3 L770.6,806.1 L771.0,800.1 L771.3,800.9 L771.4,803.8 L771.8,802.3 L772.2,802.3 L772.6,803.9 L773.0,803.5 L773.4,800.8 L773.8,802.0 L774.2,800.2 L774.6,801.2 L775.0,799.2 L775.4,797.2 L775.8,800.4 L776.2,800.1 L776.6,803.3 L777.0,804.7 L777.4,801.2 L777.8,802.1 L778.2,799.5 L778.6,798.8 L779.0,800.1 L779.4,800.0 L779.8,801.1 L780.2,800.6 L780.6,803.8 L781.0,799.6 L781.4,796.3 L781.8,800.0 L782.2,798.1 L782.6,799.9 L783.0,801.7 L783.4,797.7 L783.8,798.7 L784.2,799.8 L784.6,796.5 L785.0,798.8 L785.4,799.3 L785.8,799.7 L786.2,800.1 L786.6,798.7 L787.0,798.1 L787.4,794.0 L787.6,791.4 L787.8,794.7 L788.2,799.6 L788.6,796.3 L789.0,790.7 L789.4,794.1 L789.8,795.2 L790.2,789.7 L790.6,794.3 L791.0,790.0 L791.4,794.1 L791.8,791.3 L792.0,796.6 L792.2,787.8 L792.6,790.7 L793.0,786.3 L793.4,791.3 L793.8,788.5 L794.2,789.7 L794.6,787.5 L795.0,784.5 L795.0,785.6 L795.4,784.1 L795.8,784.2 L796.2,786.5 L796.6,788.3 L797.0,787.7 L797.4,786.8 L797.8,784.4 L798.2,786.6 L798.5,783.7 L798.6,785.9 L799.0,787.4 L799.4,785.5 L799.8,785.2 L800.2,785.7 L800.6,788.5 L801.0,787.0 L801.4,785.2 L801.8,787.9 L802.0,786.7 L802.2,792.4 L802.6,789.8 L803.0,787.1 L803.4,791.4 L803.8,793.0 L804.2,792.8 L804.6,791.8 L805.0,793.3 L805.0,793.6 L805.4,795.6 L805.8,794.6 L806.2,799.1 L806.6,794.2 L807.0,798.4 L807.4,795.5 L807.8,792.2 L808.2,793.7 L808.6,792.6 L809.0,793.1 L809.4,799.5 L809.4,795.6 L809.8,798.5 L810.2,795.5 L810.6,797.6 L811.0,795.5 L811.4,799.8 L811.8,797.6 L812.2,797.3 L812.6,798.1 L813.0,803.2 L813.4,799.7 L813.8,800.7 L814.2,796.4 L814.6,797.8 L815.0,799.9 L815.4,795.5 L815.8,802.3 L816.2,800.2 L816.6,799.7 L817.0,799.4 L817.4,799.4 L817.8,798.9 L818.0,802.9 L818.2,801.5 L818.6,802.7 L819.0,799.5 L819.4,798.4 L819.8,803.2 L820.2,797.8 L820.6,799.2 L821.0,802.0 L821.4,802.9 L821.8,797.9 L822.2,800.1 L822.6,800.8 L823.0,800.5 L823.4,799.1 L823.8,802.3 L824.2,799.8 L824.6,800.5 L825.0,796.3 L825.4,800.8 L825.8,796.9 L825.8,802.5 L826.2,801.9 L826.6,799.6 L827.0,800.6 L827.4,800.0 L827.8,798.8 L828.2,799.2 L828.6,797.5 L829.0,795.9 L829.4,794.5 L829.8,798.9 L830.0,795.4 L830.2,794.6 L830.6,795.2 L831.0,791.9 L831.4,790.8 L831.8,791.9 L832.2,791.4 L832.6,789.5 L833.0,783.8 L833.4,785.8 L833.8,784.5 L834.0,784.9 L834.2,781.6 L834.6,780.1 L835.0,780.9 L835.4,778.1 L835.8,776.6 L836.2,777.6 L836.6,778.7 L837.0,776.3 L837.0,778.3 L837.4,773.2 L837.8,775.9 L838.2,773.6 L838.6,771.1 L839.0,771.4 L839.4,769.9 L839.8,770.8 L840.2,769.5 L840.5,773.6 L840.6,770.3 L841.0,768.5 L841.4,772.0 L841.8,774.5 L842.2,774.6 L842.6,778.8 L843.0,777.0 L843.4,778.9 L843.8,785.6 L844.0,783.0 L844.2,784.8 L844.6,786.1 L845.0,787.7 L845.4,788.1 L845.8,789.0 L846.2,793.0 L846.6,791.2 L847.0,793.6 L847.4,795.9 L847.6,794.2 L847.8,792.3 L848.2,797.3 L848.6,799.4 L849.0,798.5 L849.4,795.4 L849.8,800.8 L850.2,804.2 L850.6,797.8 L851.0,796.2 L851.4,801.6 L851.8,802.9 L852.0,804.6 L852.2,804.9 L852.6,804.0 L853.0,805.5 L853.4,805.6 L853.8,805.7 L854.2,805.9 L854.6,806.2 L855.0,808.4 L855.4,808.2 L855.8,806.9 L856.2,810.3 L856.6,806.9 L857.0,808.0 L857.0,808.8 L857.4,804.8 L857.8,808.0 L858.2,810.6 L858.6,810.7 L859.0,806.8 L859.4,807.6 L859.8,807.3 L860.2,809.1 L860.6,809.5 L861.0,806.6 L861.4,810.5 L861.8,810.1 L862.2,809.9 L862.6,808.8 L863.0,809.9 L863.4,806.8 L863.8,810.9 L864.2,811.0 L864.6,810.4 L865.0,808.4 L865.4,813.3 L865.8,813.1 L866.2,807.2 L866.6,811.8 L867.0,811.3 L867.4,806.0 L867.8,812.2 L868.2,812.5 L868.6,812.7 L869.0,811.6 L869.4,810.0 L869.8,810.3 L870.2,812.4 L870.6,813.7 L871.0,810.5 L871.4,810.9 L871.8,812.8 L872.2,807.3 L872.6,812.4 L873.0,811.0 L873.4,807.2 L873.5,813.0 L873.8,809.7 L874.2,813.1 L874.6,814.2 L875.0,809.1 L875.4,809.1 L875.8,811.4 L876.2,808.0 L876.6,812.9 L877.0,811.8 L877.4,813.3 L877.8,807.8 L878.2,811.7 L878.6,812.2 L879.0,807.8 L879.4,813.0 L879.8,808.5 L880.2,811.5 L880.6,808.6 L881.0,812.6 L881.4,814.4 L881.8,811.1 L882.2,811.0 L882.6,813.4 L883.0,810.0 L883.4,810.9 L883.8,812.3 L884.2,811.5 L884.6,813.7 L885.0,812.9 L885.4,814.3 L885.8,810.4 L886.2,812.6 L886.6,808.8 L887.0,812.1 L887.4,813.6 L887.8,814.7 L888.2,807.7 L888.6,809.7 L889.0,811.3 L889.4,808.2 L889.8,810.9 L890.2,810.8 L890.6,808.7 L891.0,808.5 L891.4,807.7 L891.8,810.0 L892.2,811.7 L892.6,809.7 L892.6,814.1 L893.0,806.2 L893.4,807.8 L893.8,810.1 L894.2,806.4 L894.6,809.0 L895.0,809.7 L895.4,808.2 L895.8,807.2 L896.2,809.2 L896.6,807.9 L897.0,808.2 L897.4,807.5 L897.8,804.9 L898.2,803.8 L898.6,804.9 L899.0,805.7 L899.4,804.7 L899.8,806.7 L900.2,805.1 L900.6,806.2 L901.0,804.4 L901.0,802.8 L901.4,805.6 L901.8,804.7 L902.2,802.0 L902.6,802.6 L903.0,808.1 L903.4,797.7 L903.8,804.9 L904.2,802.7 L904.6,802.2 L905.0,801.6 L905.4,801.0 L905.8,806.4 L906.2,800.8 L906.6,801.0 L907.0,803.0 L907.4,802.0 L907.8,800.9 L908.2,800.6 L908.6,798.6 L909.0,803.2 L909.0,799.1 L909.4,796.4 L909.8,803.1 L910.2,802.5 L910.6,801.7 L911.0,800.1 L911.4,803.4 L911.8,799.0 L912.2,796.9 L912.6,801.4 L913.0,802.6 L913.4,802.3 L913.8,805.1 L914.2,802.7 L914.6,800.7 L915.0,800.8 L915.4,802.9 L915.8,801.0 L916.2,800.9 L916.6,797.8 L917.0,800.6 L917.4,798.7 L917.8,801.7 L918.2,801.5 L918.6,802.6 L919.0,804.7 L919.4,800.9 L919.8,804.0 L920.2,799.1 L920.6,801.6 L921.0,803.2 L921.4,805.1 L921.8,799.2 L922.2,800.9 L922.6,801.7 L923.0,801.2 L923.4,799.6 L923.8,798.3 L924.2,799.1 L924.6,801.3 L925.0,798.9 L925.4,804.9 L925.8,803.9 L926.2,797.9 L926.6,800.6 L927.0,804.1 L927.4,804.4 L927.8,803.8 L928.2,798.9 L928.6,801.0 L929.0,804.1 L929.4,801.9 L929.8,800.9 L930.2,802.7 L930.6,803.7 L931.0,802.1 L931.4,802.3 L931.8,803.9 L932.2,800.8 L932.6,800.1 L933.0,803.3 L933.4,799.6 L933.8,802.9 L934.2,800.6 L934.6,803.6 L935.0,799.7 L935.4,804.2 L935.8,802.6 L936.0,801.4 L936.2,800.4 L936.6,801.8 L937.0,800.3 L937.4,799.8 L937.8,804.1 L938.2,803.2 L938.6,804.5 L939.0,799.6 L939.4,798.5 L939.8,799.2 L940.2,803.4 L940.6,803.7 L941.0,798.7 L941.4,804.2 L941.8,801.4 L942.2,800.0 L942.6,802.1 L943.0,803.4 L943.4,801.9 L943.8,802.0 L944.2,800.7 L944.6,799.7 L945.0,801.6 L945.4,799.3 L945.8,803.5 L946.2,800.8 L946.6,804.9 L947.0,799.4 L947.4,805.1 L947.8,800.8 L948.2,800.8 L948.6,803.0 L949.0,804.2 L949.4,802.4 L949.8,801.9 L950.2,806.3 L950.6,803.5 L951.0,800.3 L951.4,802.1 L951.8,805.8 L952.2,803.3 L952.6,804.2 L953.0,806.5 L953.4,801.6 L953.8,803.4 L954.2,801.5 L954.6,802.8 L955.0,803.8 L955.4,800.3 L955.8,803.1 L956.2,803.2 L956.6,804.9 L957.0,801.8 L957.4,800.6 L957.8,803.7 L958.2,800.9 L958.6,803.4 L959.0,804.1 L959.4,801.5 L959.8,802.9 L960.2,801.3 L960.6,798.4 L961.0,800.5 L961.4,799.4 L961.8,803.4 L962.2,801.4 L962.6,803.1 L963.0,803.3 L963.4,805.4 L963.4,802.8 L963.8,802.8 L964.2,804.5 L964.6,806.6 L965.0,803.6 L965.4,804.5 L965.8,803.6 L966.2,802.8 L966.6,801.3 L967.0,804.2 L967.4,803.9 L967.8,804.1 L968.2,808.4 L968.6,804.3 L969.0,805.7 L969.4,804.6 L969.8,807.6 L970.2,805.1 L970.6,809.2 L971.0,805.5 L971.4,807.6 L971.8,808.3 L972.2,806.2 L972.6,808.4 L973.0,807.1 L973.4,805.8 L973.8,806.2 L974.2,808.2 L974.6,811.1 L975.0,807.1 L975.4,809.2 L975.8,806.9 L976.2,809.1 L976.6,806.4 L977.0,807.5 L977.0,809.0 L977.4,807.8 L977.8,808.9 L978.2,811.5 L978.6,809.6 L979.0,808.8 L979.4,808.1 L979.8,809.6 L980.2,813.0 L980.6,811.0 L981.0,811.2 L981.4,813.0 L981.8,813.5 L982.2,814.1 L982.6,811.9 L983.0,811.2 L983.4,810.1 L983.8,812.2 L984.2,813.1 L984.6,815.3 L985.0,814.8 L985.4,813.5 L985.8,816.4 L986.2,812.7 L986.6,813.3 L987.0,813.3 L987.4,813.6 L987.8,815.3 L988.2,814.4 L988.6,814.7 L989.0,818.6 L989.4,813.7 L989.8,814.5 L990.2,816.0 L990.6,817.3 L990.6,817.4 L991.0,816.0 L991.4,815.9 L991.8,816.1 L992.2,817.9 L992.6,814.9 L993.0,812.4 L993.4,816.9 L993.8,814.5 L994.2,816.5 L994.6,819.1 L995.0,816.8 L995.4,820.0 L995.8,813.8 L996.2,817.1 L996.6,817.4 L997.0,818.2 L997.4,815.4 L997.8,817.1 L998.2,817.0 L998.6,816.9 L999.0,814.3 L999.4,813.7 L999.8,817.8 L1000.2,817.5 L1000.6,816.9 L1001.0,818.0 L1001.4,818.8 L1001.8,814.8 L1002.2,818.3 L1002.6,819.6 L1003.0,818.7 L1003.4,818.0 L1003.8,818.2 L1004.2,814.4 L1004.6,816.1 L1005.0,818.8 L1005.4,819.6 L1005.8,817.8 L1006.2,816.2 L1006.6,816.8 L1007.0,818.5 L1007.4,820.6 L1007.8,818.4 L1008.2,816.1 L1008.6,818.1 L1009.0,817.8 L1009.4,821.3 L1009.8,818.1 L1010.2,817.1 L1010.6,816.9 L1011.0,814.9 L1011.4,815.2 L1011.8,816.2 L1012.2,815.6 L1012.4,817.4 L1012.6,817.2 L1013.0,818.7 L1013.4,819.6 L1013.8,817.1 L1014.2,816.3 L1014.6,813.2 L1015.0,816.9 L1015.4,817.1 L1015.8,814.3 L1016.2,814.7 L1016.6,813.8 L1017.0,816.6 L1017.4,815.5 L1017.8,816.2 L1018.2,811.6 L1018.6,817.9 L1019.0,811.6 L1019.0,811.3 L1019.4,813.1 L1019.8,811.4 L1020.2,815.2 L1020.6,810.8 L1021.0,809.9 L1021.4,812.4 L1021.8,812.3 L1022.2,808.2 L1022.6,808.3 L1023.0,807.9 L1023.3,807.8 L1023.4,810.9 L1023.8,809.4 L1024.2,808.3 L1024.6,807.8 L1025.0,804.7 L1025.4,805.2 L1025.8,802.6 L1026.2,800.5 L1026.6,803.8 L1027.0,797.0 L1027.0,800.0 L1027.4,798.2 L1027.8,795.4 L1028.2,796.7 L1028.6,796.6 L1029.0,796.4 L1029.4,793.4 L1029.8,795.4 L1030.2,793.9 L1030.5,794.4 L1030.6,789.6 L1031.0,791.6 L1031.4,790.9 L1031.8,792.5 L1032.2,789.8 L1032.6,789.7 L1033.0,788.3 L1033.4,787.9 L1033.8,788.1 L1034.2,791.2 L1034.6,787.7 L1034.7,785.3 L1035.0,790.0 L1035.4,789.0 L1035.8,791.2 L1036.2,791.8 L1036.6,791.0 L1037.0,791.5 L1037.4,792.1 L1037.8,793.8 L1038.2,793.2 L1038.5,795.3 L1038.6,797.5 L1039.0,794.6 L1039.4,795.3 L1039.8,795.9 L1040.2,798.7 L1040.6,799.4 L1041.0,801.3 L1041.4,800.7 L1041.8,800.4 L1042.2,801.6 L1042.3,798.8 L1042.6,802.4 L1043.0,802.4 L1043.4,806.3 L1043.8,805.8 L1044.2,802.8 L1044.6,803.9 L1045.0,807.0 L1045.4,802.7 L1045.8,805.3 L1046.2,808.1 L1046.5,809.1 L1046.6,808.5 L1047.0,810.8 L1047.4,809.1 L1047.8,810.5 L1048.2,810.7 L1048.6,809.9 L1049.0,812.5 L1049.4,812.1 L1049.8,813.6 L1050.2,809.4 L1050.5,814.2 L1050.6,813.1 L1051.0,813.2 L1051.4,814.4 L1051.8,813.7 L1052.2,816.2 L1052.6,816.8 L1053.0,816.3 L1053.4,816.6 L1053.8,815.7 L1054.2,815.2 L1054.6,813.1 L1055.0,814.7 L1055.4,817.4 L1055.8,816.7 L1056.2,814.7 L1056.6,815.8 L1057.0,817.4 L1057.4,815.4 L1057.8,818.5 L1058.2,814.5 L1058.6,817.2 L1059.0,817.0 L1059.4,816.2 L1059.8,816.5 L1060.0,816.9 L1060.2,812.2 L1060.6,816.9 L1061.0,818.0 L1061.4,816.8 L1061.8,818.1 L1062.2,814.3 L1062.6,816.2 L1063.0,816.9 L1063.4,815.9 L1063.8,818.3 L1064.2,817.2 L1064.6,815.6 L1065.0,817.8 L1065.4,817.8 L1065.8,815.8 L1066.2,817.6 L1066.6,817.2 L1067.0,817.2 L1067.4,814.5 L1067.8,818.7 L1068.2,817.7 L1068.6,816.6 L1069.0,817.3 L1069.4,817.3 L1069.8,816.3 L1070.2,815.8 L1070.6,817.0 L1071.0,815.9 L1071.4,816.1 L1071.8,815.0 L1072.2,816.5 L1072.3,818.7 L1072.6,817.4 L1073.0,817.2 L1073.4,816.6 L1073.8,816.5 L1074.2,814.8 L1074.6,820.1 L1075.0,816.2 L1075.4,815.0 L1075.8,818.3 L1076.2,818.1 L1076.6,816.9 L1077.0,815.4 L1077.4,815.7 L1077.8,820.6 L1078.2,818.0 L1078.6,817.2 L1079.0,821.4 L1079.4,817.6 L1079.8,817.1 L1080.2,819.6 L1080.6,819.5 L1081.0,821.5 L1081.4,816.6 L1081.8,819.7 L1082.2,816.6 L1082.6,820.2 L1083.0,818.6 L1083.4,819.0 L1083.8,818.7 L1084.2,821.4 L1084.6,822.8 L1085.0,820.1 L1085.4,820.0 L1085.8,819.7 L1086.2,821.5 L1086.6,819.1 L1087.0,825.2 L1087.4,820.7 L1087.8,824.0 L1088.2,821.6 L1088.6,819.2 L1089.0,819.1 L1089.4,821.0 L1089.8,820.7 L1090.2,821.6 L1090.6,820.2 L1091.0,826.0 L1091.4,825.8 L1091.8,819.5 L1092.2,823.3 L1092.6,824.6 L1093.0,822.2 L1093.4,822.5 L1093.8,824.7 L1094.2,823.9 L1094.6,821.2 L1095.0,825.2 L1095.4,822.5 L1095.8,826.4 L1096.2,821.9 L1096.6,819.9 L1097.0,823.8 L1097.4,825.7 L1097.8,824.6 L1098.2,824.1 L1098.6,822.4 L1099.0,825.4 L1099.4,821.0 L1099.5,825.2 L1099.8,822.0 L1100.2,823.0 L1100.6,821.9 L1101.0,822.6 L1101.4,826.5 L1101.8,822.2 L1102.2,824.5 L1102.6,822.9 L1103.0,825.9 L1103.4,822.1 L1103.8,824.3 L1104.2,825.8 L1104.6,828.0 L1105.0,822.5 L1105.4,823.0 L1105.8,824.4 L1106.2,826.9 L1106.6,822.9 L1107.0,825.9 L1107.4,823.6 L1107.8,822.9 L1108.2,822.1 L1108.6,824.9 L1109.0,826.3 L1109.4,824.5 L1109.8,821.3 L1110.2,823.9 L1110.6,826.3 L1111.0,826.2 L1111.4,825.3 L1111.8,827.2 L1112.2,822.9 L1112.6,822.9 L1113.0,828.7 L1113.4,826.0 L1113.8,824.7 L1114.2,824.2 L1114.6,821.0 L1115.0,826.4 L1115.4,821.8 L1115.8,821.9 L1116.2,825.0 L1116.6,827.5 L1117.0,824.5 L1117.4,825.8 L1117.8,824.5 L1118.2,825.8 L1118.6,822.6 L1119.0,828.6 L1119.4,823.7 L1119.8,826.1 L1120.2,822.0 L1120.6,828.1 L1121.0,826.0 L1121.4,828.5 L1121.8,824.3 L1122.2,827.0 L1122.6,825.1 L1123.0,825.3 L1123.4,827.4 L1123.8,823.9 L1124.2,826.5 L1124.6,828.5 L1125.0,828.2 L1125.4,827.1 L1125.8,825.9 L1126.2,823.9 L1126.6,827.7 L1126.8,824.3 L1127.0,827.3 L1127.4,824.9 L1127.8,825.4 L1128.2,825.4 L1128.6,826.4 L1129.0,824.7 L1129.4,825.7 L1129.8,824.5 L1130.2,826.2 L1130.6,825.8 L1131.0,826.0 L1131.4,823.9 L1131.8,825.7 L1132.2,825.3 L1132.6,826.1 L1133.0,825.2 L1133.4,823.6 L1133.8,826.2 L1134.2,824.0 L1134.6,825.4 L1135.0,821.7 L1135.4,825.7 L1135.8,825.9 L1136.2,823.4 L1136.6,825.7 L1137.0,824.2 L1137.4,826.9 L1137.8,825.7 L1138.2,822.7 L1138.6,824.3 L1139.0,821.8 L1139.4,824.0 L1139.8,825.3 L1140.2,825.7 L1140.6,824.2 L1141.0,824.0 L1141.4,824.6 L1141.8,823.3 L1142.2,824.7 L1142.6,825.9 L1143.0,824.5 L1143.4,825.5 L1143.8,822.9 L1144.2,823.3 L1144.6,824.6 L1145.0,827.2 L1145.4,825.6 L1145.8,826.7 L1146.2,824.1 L1146.6,825.9 L1147.0,821.4 L1147.4,824.8 L1147.8,820.8 L1148.2,825.9 L1148.5,824.7 L1148.6,825.8 L1149.0,824.6 L1149.4,823.3 L1149.8,822.9 L1150.2,824.4 L1150.6,826.4 L1151.0,825.1 L1151.4,823.4 L1151.8,823.5 L1152.2,823.3 L1152.6,824.2 L1153.0,824.4 L1153.4,823.9 L1153.8,824.8 L1154.2,822.5 L1154.6,827.3 L1155.0,825.5 L1155.4,827.5 L1155.8,825.8 L1156.2,825.1 L1156.6,825.7 L1157.0,826.0 L1157.4,824.8 L1157.8,825.4 L1158.2,829.0 L1158.6,827.6 L1159.0,825.5 L1159.4,827.2 L1159.8,825.3 L1160.2,828.8 L1160.6,825.3 L1161.0,828.3 L1161.4,827.1 L1161.8,827.2 L1162.2,826.0 L1162.6,827.0 L1163.0,826.3 L1163.4,826.2 L1163.8,828.3 L1164.2,831.5 L1164.6,827.3 L1165.0,829.3 L1165.4,827.9 L1165.8,826.9 L1166.2,830.0 L1166.6,829.0 L1167.0,829.7 L1167.4,828.2 L1167.6,828.3 L1167.8,826.8 L1168.2,827.6 L1168.6,830.5 L1169.0,824.6 L1169.4,828.6 L1169.8,830.2 L1170.2,829.2 L1170.6,829.3 L1171.0,827.6 L1171.4,829.6 L1171.8,829.7 L1172.2,827.9 L1172.6,830.4 L1173.0,827.2 L1173.4,824.2 L1173.8,827.8 L1174.2,827.6 L1174.6,826.5 L1175.0,827.1 L1175.4,826.9 L1175.8,825.0 L1176.2,829.5 L1176.6,827.6 L1177.0,831.3 L1177.4,827.5 L1177.8,828.1 L1178.2,825.2 L1178.6,828.9 L1179.0,825.8 L1179.4,828.1 L1179.8,828.7 L1180.2,828.4 L1180.6,826.0 L1181.0,826.0 L1181.4,828.2 L1181.8,828.8 L1182.2,829.2 L1182.6,827.0 L1183.0,826.8 L1183.4,829.5 L1183.8,826.0 L1184.2,827.9 L1184.6,826.3 L1185.0,824.7 L1185.4,825.1 L1185.8,827.3 L1186.2,826.9 L1186.6,827.3 L1186.7,826.0 L1187.0,825.8 L1187.4,826.9 L1187.8,826.1 L1188.2,824.0 L1188.6,825.7 L1189.0,828.7 L1189.4,825.1 L1189.8,826.9 L1190.2,826.0 L1190.6,827.1 L1191.0,824.7 L1191.4,824.0 L1191.8,826.5 L1192.2,824.7 L1192.6,825.6 L1193.0,825.1 L1193.4,826.9 L1193.8,825.8 L1194.2,825.6 L1194.6,823.9 L1195.0,823.0 L1195.4,823.9 L1195.8,826.3 L1196.0,826.0 L1196.2,825.8 L1196.6,824.3 L1197.0,823.3 L1197.4,826.3 L1197.8,824.8 L1198.2,825.2 L1198.6,823.0 L1199.0,823.3 L1199.4,825.0 L1199.8,825.1 L1200.2,822.4 L1200.6,824.2 L1201.0,822.0 L1201.4,825.2 L1201.8,824.3 L1202.2,826.5 L1202.6,825.3 L1203.0,822.1 L1203.0,823.3 L1203.4,822.2 L1203.8,822.9 L1204.2,823.7 L1204.6,822.4 L1205.0,822.3 L1205.4,820.1 L1205.8,822.7 L1206.2,821.7 L1206.6,822.5 L1207.0,822.9 L1207.4,821.3 L1207.8,822.2 L1208.2,820.2 L1208.6,822.4 L1209.0,821.0 L1209.2,820.2 L1209.4,820.7 L1209.8,819.0 L1210.2,820.2 L1210.6,820.7 L1211.0,821.5 L1211.4,821.5 L1211.8,821.0 L1212.2,821.9 L1212.6,819.4 L1213.0,822.8 L1213.4,823.7 L1213.8,824.4 L1214.2,825.0 L1214.6,823.5 L1215.0,823.9 L1215.4,823.5 L1215.8,823.7 L1216.0,824.7 L1216.2,826.5 L1216.6,822.3 L1217.0,824.2 L1217.4,825.4 L1217.8,823.8 L1218.2,825.9 L1218.6,823.6 L1219.0,825.2 L1219.4,823.5 L1219.8,826.3 L1220.2,825.0 L1220.6,827.2 L1221.0,826.0 L1221.4,825.1 L1221.8,826.0 L1222.2,826.9 L1222.6,826.9 L1223.0,826.6 L1223.4,826.6 L1223.8,827.3 L1224.2,828.5 L1224.6,826.6 L1225.0,828.2 L1225.4,825.8 L1225.8,829.0 L1226.2,828.3 L1226.6,827.4 L1227.0,827.5 L1227.0,825.5 L1227.4,828.1 L1227.8,827.7 L1228.2,826.2 L1228.6,827.6 L1229.0,829.1 L1229.4,828.6 L1229.8,828.8 L1230.2,827.7 L1230.6,829.7 L1231.0,828.6 L1231.4,829.9 L1231.8,831.9 L1232.2,825.9 L1232.6,828.1 L1233.0,828.9 L1233.4,827.9 L1233.8,830.5 L1234.2,828.6 L1234.6,831.5 L1235.0,830.3 L1235.4,829.8 L1235.8,829.3 L1236.2,830.5 L1236.6,830.1 L1237.0,831.5 L1237.4,830.1 L1237.8,831.0 L1238.2,830.1 L1238.6,830.1 L1239.0,827.4 L1239.4,829.7 L1239.8,830.3 L1240.2,828.1 L1240.6,827.8 L1241.0,829.4 L1241.4,830.3 L1241.8,827.5 L1242.2,830.3 L1242.6,831.3 L1243.0,829.6 L1243.4,830.3 L1243.8,830.6 L1244.2,829.0 L1244.6,830.9 L1245.0,830.6 L1245.4,828.2 L1245.8,830.7 L1246.0,831.2 L1246.2,828.5 L1246.6,831.2 L1247.0,829.6 L1247.4,828.1 L1247.8,828.5 L1248.2,828.7 L1248.6,830.7 L1249.0,829.3 L1249.4,829.4 L1249.8,828.1 L1250.2,830.0 L1250.6,828.1 L1251.0,828.9 L1251.4,830.7 L1251.8,830.8 L1252.2,829.1 L1252.6,829.7 L1253.0,830.5 L1253.4,829.7 L1253.8,831.4 L1254.2,831.6 L1254.6,829.6 L1255.0,827.9 L1255.4,829.4 L1255.8,831.5 L1256.2,831.2 L1256.6,831.2 L1257.0,831.1 L1257.4,828.8 L1257.8,829.8 L1258.2,831.0 L1258.6,829.8 L1259.0,830.6 L1259.4,827.9 L1259.8,827.6 L1260.2,832.1 L1260.6,830.3 L1261.0,830.1 L1261.4,831.2 L1261.8,832.3 L1262.2,832.8 L1262.6,825.6 L1263.0,829.6 L1263.4,830.4 L1263.8,826.2 L1264.2,826.3 L1264.6,828.6 L1265.0,831.5 L1265.4,830.1 L1265.8,831.8 L1266.2,829.1 L1266.6,830.2 L1267.0,830.8 L1267.4,829.2 L1267.8,828.5 L1268.2,828.7 L1268.6,824.7 L1269.0,828.9 L1269.4,825.7 L1269.8,827.2 L1270.2,829.3 L1270.6,828.8 L1271.0,825.3 L1271.4,828.9 L1271.8,829.2 L1272.2,828.4 L1272.6,829.0 L1273.0,828.8 L1273.2,825.6 L1273.4,827.7 L1273.8,827.5 L1274.2,826.2 L1274.6,827.8 L1275.0,826.6 L1275.4,827.7 L1275.8,826.5 L1276.2,829.2 L1276.6,830.8 L1277.0,826.8 L1277.4,827.6 L1277.8,827.5 L1278.2,828.1 L1278.6,827.1 L1279.0,824.1 L1279.4,827.8 L1279.8,827.0 L1280.2,825.6 L1280.6,826.8 L1281.0,826.3 L1281.4,827.3 L1281.8,826.5 L1282.2,826.4 L1282.6,826.9 L1283.0,827.1 L1283.4,826.7 L1283.8,828.3 L1284.2,826.9 L1284.6,825.4 L1285.0,828.9 L1285.4,826.6 L1285.8,828.6 L1286.2,824.8 L1286.6,827.1 L1287.0,828.7 L1287.4,828.0 L1287.8,826.2 L1288.2,825.2 L1288.6,825.2 L1289.0,825.7 L1289.4,824.6 L1289.8,824.8 L1290.2,824.5 L1290.6,824.4 L1291.0,826.2 L1291.4,823.3 L1291.8,826.0 L1292.2,826.7 L1292.6,824.4 L1293.0,824.4 L1293.4,825.7 L1293.8,825.6 L1294.2,827.0 L1294.6,822.8 L1295.0,825.6 L1295.0,827.7 L1295.4,825.8 L1295.8,828.2 L1296.2,828.9 L1296.6,825.0 L1297.0,828.0 L1297.4,826.7 L1297.8,826.0 L1298.2,825.7 L1298.6,825.9 L1299.0,825.0 L1299.4,826.2 L1299.8,827.9 L1300.2,828.5 L1300.6,826.2 L1301.0,827.7 L1301.4,827.8 L1301.8,823.8 L1302.2,828.4 L1302.6,825.8 L1303.0,826.0 L1303.4,829.0 L1303.8,830.4 L1304.2,826.5 L1304.6,827.0 L1305.0,827.1 L1305.4,827.8 L1305.8,828.2 L1306.2,827.7 L1306.6,826.7 L1307.0,831.7 L1307.4,828.6 L1307.8,828.3 L1308.0,830.8 L1308.2,829.0 L1308.6,831.2 L1309.0,830.9 L1309.4,831.3 L1309.8,829.5 L1310.2,831.1 L1310.6,828.1 L1311.0,828.5 L1311.4,830.7 L1311.8,830.4 L1312.2,832.9 L1312.6,830.7 L1313.0,828.7 L1313.4,831.5 L1313.8,831.1 L1314.2,832.0 L1314.6,830.2 L1315.0,830.8 L1315.4,832.2 L1315.8,833.3 L1316.2,832.9 L1316.6,833.5 L1317.0,830.4 L1317.4,832.3 L1317.8,833.0 L1318.2,834.1 L1318.6,833.1 L1319.0,832.4 L1319.4,832.6 L1319.5,832.7 L1319.8,830.7 L1320.2,832.8 L1320.6,833.9 L1321.0,833.8 L1321.4,830.1 L1321.8,832.8 L1322.2,830.6 L1322.6,834.4 L1323.0,833.6 L1323.4,833.8 L1323.8,831.8 L1324.2,830.0 L1324.6,831.3 L1325.0,832.3 L1325.4,830.6 L1325.8,831.4 L1326.2,835.3 L1326.6,830.9 L1327.0,833.6 L1327.4,830.1 L1327.8,833.2 L1328.2,834.0 L1328.6,833.4 L1329.0,834.5 L1329.4,835.4 L1329.8,830.8 L1330.2,833.2 L1330.6,833.5 L1331.0,833.4 L1331.4,835.1 L1331.8,833.2 L1332.2,834.5 L1332.6,834.5 L1333.0,833.0 L1333.4,833.6 L1333.8,831.7 L1334.2,833.3 L1334.6,833.1 L1335.0,832.6 L1335.4,832.2 L1335.8,834.2 L1336.2,832.7 L1336.6,836.1 L1337.0,834.7 L1337.4,833.9 L1337.8,832.0 L1338.2,834.2 L1338.6,833.1 L1339.0,833.0 L1339.4,831.3 L1339.8,833.7 L1340.2,833.2 L1340.6,832.2 L1341.0,831.9 L1341.3,832.5 L1341.4,831.0 L1341.8,832.1 L1342.2,834.8 L1342.6,831.9 L1343.0,836.1 L1343.4,830.9 L1343.8,834.3 L1344.2,834.2 L1344.6,834.3 L1345.0,833.4 L1345.4,830.2 L1345.8,834.1 L1346.2,833.9 L1346.6,832.3 L1347.0,828.8 L1347.4,833.6 L1347.8,830.7 L1348.2,831.5 L1348.6,833.5 L1349.0,833.6 L1349.4,832.1 L1349.8,830.6 L1350.2,833.8 L1350.6,832.8 L1351.0,830.9 L1351.4,829.6 L1351.8,831.2 L1352.2,828.8 L1352.6,833.1 L1353.0,831.2 L1353.4,829.8 L1353.8,830.8 L1354.2,827.7 L1354.6,829.8 L1355.0,828.9 L1355.4,827.4 L1355.8,828.7 L1356.2,829.9 L1356.6,827.3 L1357.0,828.9 L1357.4,827.0 L1357.6,829.3 L1357.8,826.5 L1358.2,829.9 L1358.6,829.7 L1359.0,829.8 L1359.4,831.1 L1359.8,828.6 L1360.2,828.4 L1360.6,828.9 L1361.0,827.3 L1361.4,825.1 L1361.8,825.9 L1362.2,825.8 L1362.6,827.7 L1363.0,826.4 L1363.4,826.6 L1363.8,827.9 L1364.0,827.3 L1364.2,829.8 L1364.6,826.8 L1365.0,825.4 L1365.4,828.4 L1365.8,825.9 L1366.2,826.3 L1366.6,827.7 L1367.0,826.4 L1367.4,827.1 L1367.8,825.1 L1368.2,825.5 L1368.6,826.7 L1369.0,825.0 L1369.4,825.2 L1369.8,825.7 L1369.9,828.0 L1370.2,827.9 L1370.6,826.1 L1371.0,826.0 L1371.4,824.9 L1371.8,827.9 L1372.2,826.8 L1372.6,827.7 L1373.0,824.4 L1373.4,827.8 L1373.8,827.0 L1374.2,828.1 L1374.6,828.6 L1375.0,827.3 L1375.4,827.0 L1375.8,828.7 L1376.2,826.1 L1376.6,830.0 L1377.0,828.6 L1377.0,826.5 L1377.4,830.1 L1377.8,829.8 L1378.2,830.7 L1378.6,830.1 L1379.0,829.5 L1379.4,828.9 L1379.8,827.6 L1380.2,830.4 L1380.6,830.3 L1381.0,829.0 L1381.4,830.6 L1381.8,828.6 L1382.2,831.5 L1382.6,830.3 L1383.0,830.6 L1383.4,829.3 L1383.8,831.8 L1384.2,830.8 L1384.6,829.9 L1384.9,831.3 L1385.0,830.5 L1385.4,832.4 L1385.8,828.8 L1386.2,829.4 L1386.6,834.0 L1387.0,830.5 L1387.4,832.0 L1387.8,830.8 L1388.2,831.8 L1388.6,835.1 L1389.0,828.8 L1389.4,832.5 L1389.8,831.9 L1390.2,832.0 L1390.6,830.9 L1391.0,830.7 L1391.4,834.1 L1391.8,833.0 L1392.2,830.6 L1392.6,832.4 L1393.0,830.6 L1393.4,836.1 L1393.8,833.2 L1394.2,830.1 L1394.6,834.1 L1395.0,833.7 L1395.4,833.4 L1395.8,833.2 L1396.2,832.3 L1396.6,832.8 L1397.0,830.3 L1397.4,835.1 L1397.8,836.2 L1398.2,834.1 L1398.6,834.3 L1399.0,831.5 L1399.4,832.9 L1399.8,831.5 L1400.2,831.7 L1400.6,834.4 L1401.0,835.7 L1401.4,833.7 L1401.8,837.4 L1402.2,835.0 L1402.6,830.6 L1403.0,833.3 L1403.4,835.8 L1403.8,834.2 L1404.2,835.5 L1404.6,831.6 L1405.0,835.9 L1405.4,832.4 L1405.8,834.6 L1406.0,837.1"/>
<path stroke="#00f" d="M123.0,598.9 L123.4,583.4 L123.8,593.5 L124.2,590.3 L124.6,590.7 L125.0,591.6 L125.4,585.5 L125.8,591.6 L126.2,589.6 L126.6,601.3 L127.0,593.4 L127.4,591.5 L127.8,591.8 L128.2,590.6 L128.6,589.4 L129.0,591.7 L129.4,594.7 L129.8,592.4 L130.2,596.5 L130.6,592.7 L131.0,593.5 L131.4,598.7 L131.8,595.4 L132.2,592.0 L132.6,593.2 L133.0,595.7 L133.4,600.5 L133.8,593.2 L134.2,593.4 L134.6,597.6 L135.0,591.4 L135.4,593.5 L135.8,597.5 L136.2,596.6 L136.6,595.1 L137.0,597.1 L137.4,586.3 L137.8,598.5 L138.2,592.0 L138.6,589.7 L139.0,596.4 L139.4,597.9 L139.8,594.2 L140.2,592.2 L140.6,596.0 L141.0,595.8 L141.0,600.7 L141.4,598.6 L141.8,596.9 L142.2,600.1 L142.6,595.8 L143.0,593.5 L143.4,598.7 L143.8,598.8 L144.2,596.3 L144.6,594.5 L145.0,598.0 L145.4,589.1 L145.8,599.9 L146.2,599.4 L146.6,592.4 L147.0,598.2 L147.4,594.9 L147.8,600.8 L148.2,591.7 L148.6,595.6 L149.0,601.2 L149.4,602.8 L149.8,591.9 L150.2,597.6 L150.6,600.5 L151.0,597.6 L151.4,605.1 L151.8,596.0 L152.2,601.3 L152.6,596.8 L153.0,605.2 L153.4,600.6 L153.8,599.6 L154.2,595.3 L154.6,606.8 L155.0,603.9 L155.4,604.1 L155.8,605.6 L156.2,603.1 L156.6,600.0 L157.0,599.7 L157.4,599.9 L157.8,607.3 L158.2,598.1 L158.6,601.2 L159.0,602.3 L159.4,604.3 L159.8,605.6 L160.2,599.8 L160.6,598.4 L161.0,604.3 L161.4,608.6 L161.8,607.3 L162.2,605.7 L162.6,604.1 L163.0,606.3 L163.4,604.8 L163.8,608.5 L164.2,603.4 L164.6,606.6 L165.0,606.0 L165.4,608.4 L165.8,607.6 L166.2,615.5 L166.6,612.2 L167.0,612.4 L167.4,601.0 L167.8,606.8 L168.0,606.0 L168.2,609.9 L168.6,600.8 L169.0,612.4 L169.4,612.3 L169.8,604.7 L170.2,606.0 L170.6,606.8 L171.0,609.8 L171.4,612.0 L171.8,616.9 L172.2,609.7 L172.6,613.1 L173.0,611.4 L173.4,616.9 L173.8,613.8 L174.2,616.1 L174.6,608.3 L175.0,611.5 L175.4,609.7 L175.8,617.6 L176.2,615.0 L176.6,612.1 L177.0,611.9 L177.4,615.2 L177.8,611.6 L178.2,611.1 L178.6,616.0 L179.0,622.8 L179.4,614.2 L179.8,613.4 L180.2,611.7 L180.6,611.4 L181.0,617.8 L181.4,619.1 L181.8,616.7 L182.2,618.0 L182.6,617.6 L183.0,617.9 L183.4,612.8 L183.8,616.5 L184.2,618.7 L184.6,616.0 L185.0,617.3 L185.4,616.5 L185.8,618.4 L186.2,622.5 L186.6,618.7 L187.0,619.8 L187.4,623.2 L187.8,623.0 L188.2,626.7 L188.6,614.6 L189.0,624.5 L189.4,620.4 L189.8,622.7 L190.2,625.3 L190.6,626.4 L191.0,626.5 L191.4,623.9 L191.8,629.0 L192.2,623.1 L192.6,623.8 L193.0,627.2 L193.4,623.1 L193.8,632.2 L194.2,628.7 L194.6,632.8 L195.0,625.9 L195.0,624.8 L195.4,626.8 L195.8,629.0 L196.2,624.9 L196.6,628.4 L197.0,627.4 L197.4,633.0 L197.8,625.9 L198.2,631.7 L198.6,626.5 L199.0,625.8 L199.4,626.9 L199.8,625.7 L200.2,630.3 L200.6,633.5 L201.0,631.0 L201.4,632.7 L201.8,636.3 L202.2,632.2 L202.6,632.3 L203.0,631.1 L203.4,627.1 L203.8,635.0 L204.2,627.2 L204.6,635.3 L205.0,633.5 L205.4,637.5 L205.8,633.9 L206.2,631.8 L206.6,635.9 L207.0,633.3 L207.4,634.8 L207.8,635.8 L208.2,635.6 L208.6,635.7 L209.0,634.0 L209.4,636.4 L209.8,630.4 L210.2,637.1 L210.6,634.0 L211.0,641.8 L211.4,642.6 L211.8,632.5 L212.2,639.6 L212.6,639.0 L213.0,636.4 L213.4,641.8 L213.8,638.9 L214.2,635.0 L214.6,640.1 L215.0,640.8 L215.4,641.9 L215.8,637.9 L216.2,644.1 L216.6,644.8 L217.0,639.0 L217.4,640.9 L217.8,643.0 L218.2,641.8 L218.6,649.5 L219.0,644.8 L219.4,641.2 L219.8,642.2 L220.2,644.8 L220.6,652.6 L221.0,644.9 L221.4,646.2 L221.8,647.7 L222.2,646.2 L222.5,653.8 L222.6,644.9 L223.0,649.2 L223.4,647.6 L223.8,649.3 L224.2,643.8 L224.6,653.5 L225.0,647.7 L225.4,648.5 L225.8,645.7 L226.2,646.6 L226.6,651.0 L227.0,652.6 L227.4,652.1 L227.8,653.8 L228.2,652.5 L228.6,650.5 L229.0,653.4 L229.4,652.8 L229.8,650.9 L230.2,653.8 L230.6,655.8 L231.0,652.7 L231.4,651.1 L231.8,654.7 L232.2,658.7 L232.6,652.3 L233.0,652.9 L233.4,653.0 L233.8,657.5 L234.2,648.0 L234.6,655.2 L235.0,658.1 L235.4,651.9 L235.8,659.5 L236.2,656.7 L236.6,653.4 L237.0,656.0 L237.4,650.7 L237.8,654.0 L238.2,661.8 L238.6,653.4 L239.0,662.2 L239.4,656.3 L239.8,659.9 L240.2,657.1 L240.6,650.0 L241.0,655.4 L241.4,658.0 L241.6,653.9 L241.8,653.3 L242.2,658.9 L242.6,655.8 L243.0,652.7 L243.4,656.0 L243.8,661.1 L244.2,657.0 L244.6,661.6 L245.0,663.6 L245.4,659.0 L245.8,655.5 L246.2,655.1 L246.6,659.2 L247.0,662.2 L247.4,660.4 L247.8,661.4 L248.2,658.4 L248.6,660.9 L249.0,658.6 L249.4,659.1 L249.8,656.2 L250.2,655.5 L250.6,659.0 L251.0,657.2 L251.4,657.7 L251.8,663.0 L252.2,660.6 L252.6,669.3 L253.0,664.1 L253.4,659.3 L253.8,663.9 L254.2,662.6 L254.6,659.5 L255.0,665.2 L255.4,659.4 L255.8,653.8 L256.2,664.6 L256.6,660.2 L257.0,666.9 L257.4,660.3 L257.8,658.8 L258.2,667.4 L258.6,659.3 L259.0,663.4 L259.4,667.4 L259.8,663.4 L260.2,662.9 L260.6,663.5 L261.0,666.0 L261.4,660.9 L261.8,665.5 L262.2,665.5 L262.6,671.1 L263.0,662.8 L263.4,661.1 L263.4,666.3 L263.8,662.9 L264.2,665.1 L264.6,664.8 L265.0,668.1 L265.4,662.5 L265.8,664.4 L266.2,656.9 L266.6,662.2 L267.0,669.9 L267.4,663.1 L267.8,663.1 L268.2,661.6 L268.6,667.4 L269.0,666.2 L269.4,662.1 L269.8,668.0 L270.2,666.9 L270.6,668.5 L271.0,664.3 L271.4,671.8 L271.8,667.8 L272.2,666.3 L272.6,665.2 L273.0,666.1 L273.4,669.7 L273.8,666.3 L274.2,670.6 L274.6,669.1 L275.0,671.6 L275.4,670.1 L275.8,667.5 L276.2,661.8 L276.6,668.8 L277.0,670.4 L277.4,668.6 L277.8,669.9 L278.2,666.8 L278.6,667.2 L279.0,665.5 L279.4,672.7 L279.8,669.1 L280.2,667.2 L280.6,664.6 L281.0,668.4 L281.4,673.4 L281.8,670.4 L282.0,666.8 L282.2,673.4 L282.6,673.5 L283.0,672.2 L283.4,671.7 L283.8,672.9 L284.2,671.0 L284.6,671.8 L285.0,667.1 L285.4,674.2 L285.8,670.3 L286.2,675.9 L286.6,663.4 L287.0,671.9 L287.4,672.8 L287.8,668.8 L288.2,671.3 L288.6,672.2 L289.0,671.7 L289.4,668.3 L289.8,669.5 L290.2,673.1 L290.6,673.9 L290.6,670.3 L291.0,670.2 L291.4,670.5 L291.8,672.9 L292.2,666.3 L292.6,665.1 L293.0,669.3 L293.4,665.2 L293.8,666.4 L294.2,668.1 L294.6,668.9 L295.0,663.7 L295.4,669.1 L295.8,660.8 L296.0,667.7 L296.2,661.0 L296.6,661.5 L297.0,666.9 L297.4,663.1 L297.8,661.4 L298.2,661.9 L298.6,664.0 L299.0,661.8 L299.4,661.1 L299.8,663.6 L300.0,657.8 L300.2,658.1 L300.6,656.9 L301.0,660.8 L301.4,658.8 L301.8,658.2 L302.2,652.7 L302.6,650.9 L303.0,652.6 L303.0,648.8 L303.4,651.1 L303.8,649.2 L304.2,643.2 L304.6,643.6 L305.0,642.4 L305.4,647.4 L305.6,649.9 L305.8,641.8 L306.2,642.6 L306.6,636.6 L307.0,645.4 L307.4,646.2 L307.8,644.4 L308.2,651.5 L308.5,645.2 L308.6,649.6 L309.0,651.9 L309.4,649.0 L309.8,656.6 L310.2,658.6 L310.6,652.4 L311.0,653.6 L311.4,661.0 L311.8,660.3 L312.2,657.8 L312.4,661.1 L312.6,662.2 L313.0,663.1 L313.4,667.0 L313.8,666.7 L314.2,671.8 L314.6,671.5 L315.0,670.2 L315.4,672.2 L315.8,673.7 L316.0,672.1 L316.2,666.6 L316.6,673.5 L317.0,671.7 L317.4,676.9 L317.8,672.8 L318.2,674.7 L318.6,674.5 L319.0,679.1 L319.4,674.9 L319.8,674.0 L320.2,676.1 L320.6,674.2 L320.6,676.0 L321.0,675.8 L321.4,677.0 L321.8,682.2 L322.2,675.5 L322.6,677.1 L323.0,676.7 L323.4,679.6 L323.8,674.2 L324.2,676.0 L324.6,678.2 L325.0,680.2 L325.4,678.6 L325.8,677.5 L326.2,676.6 L326.6,680.9 L327.0,683.9 L327.4,680.8 L327.8,680.6 L328.2,681.5 L328.6,677.5 L329.0,679.6 L329.4,679.9 L329.8,681.8 L330.0,680.9 L330.2,677.4 L330.6,684.6 L331.0,686.5 L331.4,680.8 L331.8,683.0 L332.2,682.8 L332.6,684.5 L333.0,677.9 L333.4,687.3 L333.8,681.3 L334.2,686.6 L334.6,683.3 L335.0,682.0 L335.4,682.9 L335.8,686.2 L336.2,681.1 L336.6,682.7 L337.0,682.6 L337.4,679.0 L337.8,688.2 L338.2,686.2 L338.6,684.5 L339.0,688.2 L339.4,682.0 L339.8,684.8 L340.2,690.3 L340.6,688.1 L341.0,678.7 L341.4,677.7 L341.8,682.4 L342.2,688.8 L342.6,684.3 L343.0,685.1 L343.4,687.6 L343.8,683.2 L344.2,686.6 L344.6,688.3 L345.0,687.4 L345.0,687.2 L345.4,684.2 L345.8,687.6 L346.2,684.8 L346.6,690.0 L347.0,693.8 L347.4,683.9 L347.8,679.7 L348.2,684.9 L348.6,687.3 L349.0,689.4 L349.4,689.5 L349.8,683.9 L350.2,683.9 L350.6,690.1 L351.0,683.1 L351.4,689.6 L351.8,685.7 L352.2,688.6 L352.6,688.5 L353.0,688.7 L353.4,688.8 L353.8,683.5 L354.2,687.3 L354.6,686.5 L355.0,687.4 L355.4,690.1 L355.8,685.7 L356.2,684.4 L356.6,684.3 L357.0,685.6 L357.4,688.7 L357.8,684.1 L358.2,689.9 L358.6,687.4 L358.7,685.8 L359.0,682.6 L359.4,687.2 L359.8,688.5 L360.2,681.3 L360.6,690.0 L361.0,691.3 L361.4,687.4 L361.8,687.9 L362.2,693.5 L362.6,690.0 L363.0,683.7 L363.4,686.2 L363.8,685.8 L364.2,685.8 L364.6,679.2 L365.0,688.3 L365.4,684.2 L365.8,686.5 L366.2,685.6 L366.6,688.5 L367.0,685.0 L367.4,683.5 L367.8,687.3 L368.2,689.8 L368.6,684.7 L369.0,689.6 L369.4,686.3 L369.8,683.9 L370.2,689.8 L370.6,682.9 L371.0,688.2 L371.4,683.7 L371.8,686.4 L372.2,681.4 L372.6,682.5 L373.0,687.9 L373.4,685.3 L373.8,684.8 L374.2,683.3 L374.6,685.8 L375.0,680.3 L375.4,681.1 L375.8,683.8 L376.2,681.7 L376.6,682.0 L377.0,683.8 L377.4,683.5 L377.8,683.2 L378.2,688.6 L378.6,686.6 L379.0,687.1 L379.4,683.4 L379.8,681.9 L380.2,679.0 L380.6,682.2 L381.0,677.0 L381.4,681.3 L381.8,685.1 L382.2,687.5 L382.6,685.5 L383.0,680.1 L383.4,684.0 L383.8,680.2 L384.2,684.8 L384.6,682.0 L385.0,684.7 L385.4,689.6 L385.8,684.7 L386.0,688.8 L386.2,682.5 L386.6,680.9 L387.0,685.7 L387.4,686.7 L387.8,680.0 L388.2,681.7 L388.6,677.3 L389.0,680.8 L389.4,683.8 L389.8,680.9 L390.2,679.4 L390.6,676.9 L391.0,681.9 L391.4,683.1 L391.8,682.4 L392.2,681.3 L392.6,676.8 L393.0,685.5 L393.4,680.1 L393.8,679.7 L394.2,682.2 L394.6,673.7 L395.0,679.6 L395.4,679.3 L395.8,680.7 L396.2,683.4 L396.6,680.8 L397.0,674.0 L397.4,678.2 L397.8,679.7 L398.2,679.4 L398.6,675.2 L399.0,673.9 L399.4,680.2 L399.8,679.5 L400.2,678.3 L400.6,673.3 L401.0,683.3 L401.4,670.6 L401.8,676.9 L402.2,683.8 L402.6,677.2 L403.0,678.2 L403.4,674.1 L403.8,681.2 L404.2,673.5 L404.6,677.8 L405.0,677.4 L405.0,674.0 L405.4,679.4 L405.8,672.7 L406.2,674.7 L406.6,676.5 L407.0,675.3 L407.4,677.7 L407.8,678.9 L408.2,675.3 L408.6,674.5 L409.0,674.5 L409.4,674.8 L409.8,678.0 L410.2,675.0 L410.6,676.6 L411.0,675.1 L411.4,672.8 L411.8,677.5 L412.2,671.9 L412.6,674.7 L413.0,678.7 L413.0,671.4 L413.4,674.1 L413.8,669.5 L414.2,672.3 L414.6,669.2 L415.0,672.1 L415.4,671.2 L415.8,672.7 L416.2,676.4 L416.6,672.3 L417.0,672.8 L417.4,670.3 L417.8,669.2 L418.2,666.9 L418.6,663.5 L419.0,668.2 L419.0,672.6 L419.4,668.6 L419.8,664.8 L420.2,669.9 L420.6,662.8 L421.0,660.9 L421.4,657.8 L421.8,656.9 L422.2,657.3 L422.6,662.0 L423.0,654.0 L423.4,649.8 L423.8,649.2 L424.0,649.4 L424.2,644.2 L424.6,647.3 L425.0,646.5 L425.4,642.9 L425.8,641.1 L426.2,633.2 L426.6,629.5 L427.0,635.6 L427.0,635.1 L427.4,625.2 L427.8,627.5 L428.2,624.3 L428.6,623.1 L429.0,619.7 L429.4,615.7 L429.8,616.2 L430.2,615.5 L430.3,614.9 L430.6,610.1 L431.0,609.1 L431.4,616.1 L431.8,616.1 L432.2,624.2 L432.6,628.3 L433.0,629.8 L433.4,630.4 L433.5,632.2 L433.8,636.9 L434.2,633.7 L434.6,640.5 L435.0,642.1 L435.4,643.0 L435.8,648.5 L436.2,644.4 L436.6,651.1 L437.0,647.7 L437.4,650.0 L437.6,650.0 L437.8,655.1 L438.2,652.9 L438.6,657.3 L439.0,655.5 L439.4,663.2 L439.8,666.8 L440.2,663.6 L440.6,668.7 L441.0,666.6 L441.0,671.1 L441.4,666.1 L441.8,662.3 L442.2,671.7 L442.6,668.0 L443.0,666.2 L443.4,667.9 L443.8,665.8 L444.2,670.5 L444.6,668.4 L445.0,675.9 L445.4,673.8 L445.8,667.4 L445.8,667.8 L446.2,670.4 L446.6,666.6 L447.0,671.7 L447.4,671.9 L447.8,669.8 L448.2,670.5 L448.6,673.4 L449.0,676.0 L449.4,676.2 L449.8,672.1 L450.2,674.4 L450.6,669.9 L451.0,673.1 L451.4,669.3 L451.8,674.0 L452.2,668.6 L452.6,669.3 L453.0,672.0 L453.4,673.5 L453.8,668.0 L454.2,670.5 L454.6,672.4 L455.0,672.6 L455.0,669.7 L455.4,672.3 L455.8,671.2 L456.2,675.9 L456.6,673.5 L457.0,668.2 L457.4,665.7 L457.8,672.1 L458.2,675.0 L458.6,672.2 L459.0,674.0 L459.4,670.2 L459.8,667.7 L460.2,673.4 L460.6,671.6 L461.0,673.1 L461.4,667.3 L461.8,671.5 L462.2,669.2 L462.6,673.0 L463.0,669.1 L463.4,668.9 L463.8,668.9 L464.2,673.9 L464.6,670.3 L465.0,668.1 L465.4,667.2 L465.8,667.1 L466.2,673.9 L466.6,664.7 L467.0,667.3 L467.4,671.3 L467.6,672.7 L467.8,669.0 L468.2,671.5 L468.6,671.4 L469.0,671.9 L469.4,669.2 L469.8,673.5 L470.2,669.5 L470.6,673.0 L471.0,665.7 L471.4,671.2 L471.8,665.1 L472.2,664.4 L472.6,669.7 L473.0,666.0 L473.4,669.4 L473.8,665.2 L474.2,672.4 L474.6,667.9 L475.0,664.7 L475.4,668.2 L475.8,670.0 L476.2,665.4 L476.6,668.8 L477.0,672.9 L477.4,669.5 L477.8,667.0 L478.2,665.4 L478.6,668.4 L479.0,662.6 L479.4,659.4 L479.8,664.7 L480.2,663.4 L480.6,671.0 L481.0,666.5 L481.4,663.3 L481.8,662.7 L482.2,667.1 L482.6,663.4 L483.0,663.9 L483.4,665.1 L483.8,665.5 L484.2,665.4 L484.6,665.3 L485.0,668.4 L485.4,669.3 L485.8,660.0 L486.2,671.3 L486.6,664.6 L486.7,667.6 L487.0,662.1 L487.4,664.8 L487.8,664.4 L488.2,663.9 L488.6,665.8 L489.0,665.0 L489.4,660.3 L489.8,662.5 L490.2,664.6 L490.6,664.2 L490.8,661.3 L491.0,661.3 L491.4,661.2 L491.8,658.2 L492.2,657.1 L492.6,664.2 L493.0,658.2 L493.4,658.7 L493.8,655.7 L494.2,660.4 L494.6,660.8 L495.0,654.6 L495.0,656.6 L495.4,652.3 L495.8,658.2 L496.2,654.9 L496.6,649.1 L497.0,653.7 L497.4,650.1 L497.8,649.1 L498.2,647.7 L498.6,643.7 L499.0,642.7 L499.0,645.9 L499.4,642.7 L499.8,638.7 L500.2,645.0 L500.6,637.3 L501.0,634.6 L501.4,632.6 L501.8,634.8 L502.0,634.8 L502.2,632.1 L502.6,632.1 L503.0,624.1 L503.4,625.5 L503.8,623.9 L504.2,624.4 L504.5,625.5 L504.6,618.7 L505.0,631.2 L505.4,622.4 L505.8,626.1 L506.2,627.9 L506.6,628.6 L507.0,627.5 L507.4,620.3 L507.8,624.9 L508.2,630.1 L508.5,625.7 L508.6,625.3 L509.0,621.3 L509.4,629.9 L509.8,626.5 L510.2,621.1 L510.6,621.2 L511.0,619.3 L511.4,614.6 L511.8,615.1 L512.0,615.8 L512.2,615.8 L512.6,616.0 L513.0,610.9 L513.4,607.7 L513.8,608.1 L514.2,603.5 L514.6,600.2 L515.0,605.2 L515.4,600.0 L515.8,600.6 L516.2,601.8 L516.2,597.1 L516.6,602.1 L517.0,602.7 L517.4,602.8 L517.8,606.1 L518.2,605.3 L518.6,603.9 L519.0,611.5 L519.4,612.3 L519.8,619.3 L520.0,618.8 L520.2,617.7 L520.6,621.5 L521.0,627.4 L521.4,629.3 L521.8,629.7 L522.2,632.2 L522.6,632.3 L523.0,634.4 L523.4,637.4 L523.5,635.7 L523.8,637.4 L524.2,634.3 L524.6,633.4 L525.0,633.9 L525.4,637.8 L525.8,643.0 L526.2,643.1 L526.6,637.7 L527.0,636.6 L527.4,643.1 L527.8,642.5 L528.2,637.8 L528.6,644.3 L529.0,642.0 L529.0,645.0 L529.4,642.3 L529.8,643.4 L530.2,641.3 L530.6,637.2 L531.0,638.2 L531.4,636.1 L531.8,639.1 L532.2,633.2 L532.6,630.9 L533.0,635.8 L533.0,637.1 L533.4,637.0 L533.8,635.2 L534.2,627.4 L534.6,628.5 L535.0,627.9 L535.4,628.4 L535.8,621.8 L536.2,626.6 L536.6,626.5 L537.0,622.5 L537.0,625.3 L537.4,627.4 L537.8,623.7 L538.2,625.6 L538.6,624.8 L539.0,622.6 L539.4,621.9 L539.8,619.5 L540.2,623.4 L540.5,618.8 L540.6,618.2 L541.0,621.8 L541.4,617.9 L541.8,620.9 L542.2,622.4 L542.6,619.8 L543.0,619.9 L543.4,622.0 L543.8,621.5 L544.0,615.5 L544.2,616.2 L544.6,623.4 L545.0,621.6 L545.4,616.1 L545.8,619.1 L546.2,624.0 L546.6,622.8 L547.0,627.9 L547.4,628.3 L547.8,630.7 L548.0,627.0 L548.2,632.3 L548.6,637.1 L549.0,631.4 L549.4,638.4 L549.8,639.1 L550.2,639.7 L550.6,639.4 L551.0,638.0 L551.4,640.1 L551.8,645.5 L552.0,646.6 L552.2,647.7 L552.6,648.0 L553.0,648.8 L553.4,646.2 L553.8,645.0 L554.2,649.4 L554.6,650.9 L555.0,650.5 L555.4,647.0 L555.5,649.7 L555.8,647.7 L556.2,652.5 L556.6,650.0 L557.0,652.9 L557.4,654.7 L557.8,654.7 L558.2,658.3 L558.6,652.1 L559.0,649.4 L559.0,657.5 L559.4,658.5 L559.8,658.2 L560.2,654.5 L560.6,654.4 L561.0,652.4 L561.4,647.9 L561.8,649.0 L562.0,651.4 L562.2,648.2 L562.6,653.8 L563.0,644.1 L563.4,646.0 L563.8,649.2 L564.2,644.1 L564.6,642.3 L565.0,641.6 L565.0,643.2 L565.4,649.2 L565.8,646.8 L566.2,647.8 L566.6,646.1 L567.0,650.7 L567.4,649.8 L567.8,648.2 L568.2,650.3 L568.5,652.6 L568.6,655.3 L569.0,652.9 L569.4,655.1 L569.8,659.8 L570.2,653.3 L570.6,652.9 L571.0,659.3 L571.4,658.5 L571.8,657.5 L572.2,658.7 L572.5,657.2 L572.6,659.4 L573.0,657.2 L573.4,660.1 L573.8,655.1 L574.2,656.0 L574.6,658.4 L575.0,656.9 L575.4,659.9 L575.8,658.0 L576.2,656.7 L576.6,658.6 L577.0,656.7 L577.4,654.1 L577.8,655.2 L578.2,656.1 L578.6,656.9 L579.0,658.3 L579.4,660.4 L579.8,659.5 L580.2,662.6 L580.6,661.4 L580.7,657.6 L581.0,662.2 L581.4,660.3 L581.8,655.1 L582.2,655.7 L582.6,656.2 L583.0,652.5 L583.4,653.0 L583.5,651.1 L583.8,650.9 L584.2,647.1 L584.6,647.7 L585.0,644.4 L585.4,645.3 L585.8,637.1 L586.0,641.0 L586.2,641.3 L586.6,633.0 L587.0,623.4 L587.4,617.8 L587.5,613.0 L587.8,609.8 L588.2,607.5 L588.6,604.8 L589.0,604.4 L589.2,597.9 L589.4,600.8 L589.8,590.8 L590.2,588.9 L590.5,587.0 L590.6,588.6 L591.0,576.9 L591.4,563.5 L591.7,561.2 L591.8,556.1 L592.2,532.3 L592.3,528.5 L592.6,520.3 L593.0,511.6 L593.4,503.6 L593.8,490.1 L594.2,492.5 L594.6,480.5 L595.0,474.2 L595.0,476.8 L595.4,470.1 L595.8,470.6 L596.2,463.1 L596.6,456.3 L597.0,455.1 L597.0,454.9 L597.4,456.4 L597.8,462.0 L598.2,463.1 L598.6,473.9 L599.0,474.9 L599.0,474.7 L599.4,482.9 L599.8,481.8 L600.2,491.5 L600.6,503.4 L601.0,511.3 L601.4,522.0 L601.7,532.1 L601.8,533.5 L602.2,555.7 L602.3,556.7 L602.6,563.8 L603.0,580.3 L603.4,582.6 L603.5,585.3 L603.8,597.3 L604.2,605.4 L604.6,609.9 L604.8,613.8 L605.0,618.6 L605.4,623.5 L605.8,633.8 L606.2,638.7 L606.5,642.4 L606.6,645.1 L607.0,649.4 L607.4,656.2 L607.8,658.9 L608.2,653.9 L608.5,662.3 L608.6,657.9 L609.0,659.4 L609.4,666.8 L609.8,665.3 L610.2,668.0 L610.6,673.1 L611.0,670.3 L611.4,671.1 L611.8,675.3 L612.0,678.1 L612.2,677.0 L612.6,672.8 L613.0,676.0 L613.4,678.2 L613.8,684.2 L614.2,682.5 L614.6,683.1 L615.0,684.6 L615.4,681.5 L615.8,684.0 L616.0,684.3 L616.2,680.9 L616.6,683.8 L617.0,685.7 L617.4,682.0 L617.8,687.1 L618.2,687.3 L618.6,688.3 L619.0,684.2 L619.4,686.7 L619.8,690.3 L620.2,689.0 L620.6,685.4 L621.0,688.2 L621.0,691.1 L621.4,687.7 L621.8,689.1 L622.2,694.7 L622.6,688.6 L623.0,688.7 L623.4,686.7 L623.8,687.8 L624.2,693.3 L624.6,689.5 L625.0,687.2 L625.4,688.0 L625.8,690.5 L626.2,692.6 L626.6,689.1 L627.0,692.8 L627.0,689.9 L627.4,692.1 L627.8,692.7 L628.2,693.1 L628.6,690.8 L629.0,691.6 L629.4,693.5 L629.8,689.2 L630.2,693.0 L630.6,694.1 L631.0,695.6 L631.4,693.1 L631.8,692.9 L632.2,693.9 L632.6,692.0 L633.0,693.4 L633.4,695.1 L633.8,695.0 L634.2,691.9 L634.6,693.8 L635.0,689.6 L635.4,696.9 L635.8,693.8 L636.2,695.8 L636.6,692.6 L637.0,695.2 L637.4,696.6 L637.8,698.0 L638.2,692.4 L638.6,697.9 L639.0,695.5 L639.4,694.0 L639.8,697.1 L640.2,695.2 L640.6,695.2 L640.6,694.2 L641.0,696.5 L641.4,696.0 L641.8,695.5 L642.2,693.6 L642.6,694.6 L643.0,696.8 L643.4,698.9 L643.8,695.7 L644.2,699.1 L644.6,695.6 L645.0,692.9 L645.4,697.0 L645.8,693.1 L646.2,696.4 L646.6,697.9 L647.0,694.5 L647.4,695.0 L647.8,701.2 L648.2,695.7 L648.6,695.7 L649.0,696.9 L649.4,694.8 L649.8,694.8 L650.2,695.9 L650.6,689.2 L651.0,698.4 L651.0,692.4 L651.4,692.4 L651.8,696.3 L652.2,695.2 L652.6,692.2 L653.0,695.8 L653.4,692.7 L653.8,694.0 L654.2,692.2 L654.6,694.1 L655.0,697.2 L655.4,696.8 L655.8,697.5 L656.2,699.2 L656.6,697.1 L657.0,695.8 L657.4,697.0 L657.8,701.9 L658.2,698.2 L658.6,699.1 L659.0,698.3 L659.4,699.3 L659.8,699.9 L660.0,698.9 L660.2,698.7 L660.6,697.3 L661.0,697.3 L661.4,700.5 L661.8,701.5 L662.2,702.1 L662.6,700.2 L663.0,698.2 L663.4,701.9 L663.8,702.0 L664.2,697.1 L664.6,702.7 L665.0,702.4 L665.4,705.1 L665.8,698.5 L666.2,698.2 L666.6,703.2 L667.0,697.1 L667.4,699.7 L667.8,698.9 L667.8,699.0 L668.2,696.9 L668.6,700.9 L669.0,703.8 L669.4,702.5 L669.8,702.5 L670.2,700.6 L670.6,704.9 L671.0,702.7 L671.4,704.0 L671.8,697.8 L672.2,702.3 L672.6,698.8 L673.0,702.3 L673.4,701.9 L673.8,698.8 L674.2,701.9 L674.6,704.2 L675.0,702.7 L675.4,702.9 L675.8,699.4 L676.2,699.9 L676.6,698.9 L677.0,701.8 L677.4,704.3 L677.8,702.5 L678.2,701.5 L678.6,698.9 L679.0,702.5 L679.4,700.9 L679.8,697.0 L680.2,697.4 L680.6,700.7 L681.0,699.4 L681.4,705.4 L681.8,701.6 L682.2,699.1 L682.6,700.4 L683.0,705.2 L683.4,699.3 L683.8,703.3 L684.0,702.5 L684.2,705.0 L684.6,702.7 L685.0,700.5 L685.4,702.7 L685.8,701.5 L686.2,703.6 L686.6,701.1 L687.0,705.8 L687.4,700.8 L687.8,702.0 L688.2,699.3 L688.6,701.0 L689.0,700.6 L689.4,700.8 L689.8,702.4 L690.2,698.9 L690.6,698.0 L691.0,702.4 L691.4,699.0 L691.8,697.9 L692.2,702.0 L692.6,700.9 L693.0,692.8 L693.4,697.9 L693.8,700.4 L694.2,700.3 L694.6,697.0 L695.0,701.7 L695.0,696.2 L695.4,697.3 L695.8,698.0 L696.2,697.5 L696.6,699.1 L697.0,699.4 L697.4,696.7 L697.8,699.8 L698.2,694.7 L698.6,695.6 L699.0,699.8 L699.4,695.7 L699.8,697.6 L700.2,693.8 L700.5,693.9 L700.6,694.2 L701.0,694.5 L701.4,692.9 L701.8,693.2 L702.2,694.2 L702.6,694.9 L703.0,691.7 L703.4,692.3 L703.8,692.3 L704.2,687.0 L704.6,685.2 L705.0,691.8 L705.0,691.1 L705.4,687.4 L705.8,687.3 L706.2,683.4 L706.6,681.4 L707.0,684.3 L707.4,679.1 L707.8,683.6 L708.2,678.8 L708.6,680.0 L708.7,683.5 L709.0,682.6 L709.4,676.2 L709.8,677.8 L710.2,671.5 L710.6,670.9 L711.0,671.7 L711.4,672.7 L711.8,667.1 L712.2,668.8 L712.6,667.4 L712.8,664.2 L713.0,666.8 L713.4,670.5 L713.8,666.9 L714.2,668.2 L714.6,669.0 L715.0,665.4 L715.4,669.9 L715.8,670.5 L716.0,670.7 L716.2,670.0 L716.6,665.7 L717.0,664.8 L717.4,663.6 L717.8,662.4 L718.2,661.7 L718.6,664.7 L719.0,664.7 L719.4,658.8 L719.5,661.9 L719.8,656.4 L720.2,657.4 L720.6,654.6 L721.0,651.9 L721.4,654.4 L721.8,653.2 L722.2,650.9 L722.5,649.8 L722.6,648.5 L723.0,649.4 L723.4,647.2 L723.8,648.0 L724.2,643.6 L724.6,646.0 L725.0,645.9 L725.4,647.0 L725.8,646.4 L725.8,644.5 L726.2,642.8 L726.6,641.0 L727.0,646.4 L727.4,651.2 L727.8,653.5 L728.2,645.8 L728.6,651.7 L729.0,654.2 L729.0,652.7 L729.4,657.0 L729.8,658.4 L730.2,658.9 L730.6,661.7 L731.0,660.0 L731.4,663.3 L731.8,665.2 L732.2,671.0 L732.6,666.8 L733.0,671.5 L733.0,673.8 L733.4,673.3 L733.8,676.6 L734.2,674.7 L734.6,678.5 L735.0,680.8 L735.4,685.0 L735.8,682.8 L736.2,685.4 L736.6,683.2 L737.0,684.2 L737.0,687.6 L737.4,686.1 L737.8,688.8 L738.2,688.0 L738.6,691.9 L739.0,693.2 L739.4,686.6 L739.8,693.2 L740.2,690.5 L740.6,691.1 L741.0,690.1 L741.4,692.2 L741.4,688.0 L741.8,689.1 L742.2,689.2 L742.6,691.7 L743.0,693.3 L743.4,693.0 L743.8,692.3 L744.2,690.3 L744.6,687.8 L745.0,692.8 L745.4,692.3 L745.8,692.9 L746.2,695.4 L746.6,691.8 L747.0,691.8 L747.4,687.2 L747.8,693.7 L748.2,692.4 L748.6,690.9 L749.0,693.4 L749.4,690.2 L749.8,691.4 L750.0,697.0 L750.2,694.2 L750.6,694.6 L751.0,694.2 L751.4,694.0 L751.8,692.9 L752.2,697.6 L752.6,692.3 L753.0,694.0 L753.4,691.9 L753.8,691.5 L754.2,686.8 L754.6,687.9 L755.0,695.6 L755.4,695.5 L755.8,691.2 L756.2,692.0 L756.6,693.4 L757.0,689.8 L757.4,696.0 L757.7,689.7 L757.8,690.4 L758.2,686.3 L758.6,695.6 L759.0,692.5 L759.4,696.2 L759.8,690.6 L760.2,693.9 L760.6,693.7 L761.0,694.3 L761.4,698.8 L761.8,699.6 L762.2,698.0 L762.6,694.5 L763.0,697.7 L763.4,699.0 L763.8,697.6 L764.2,697.9 L764.6,697.9 L765.0,695.0 L765.0,697.6 L765.4,700.7 L765.8,695.1 L766.2,697.7 L766.6,699.5 L767.0,694.8 L767.4,697.6 L767.8,694.3 L768.2,696.9 L768.6,695.3 L769.0,696.5 L769.4,697.5 L769.8,698.1 L770.2,698.4 L770.6,693.7 L771.0,702.6 L771.4,698.6 L771.8,696.9 L772.2,698.0 L772.6,700.2 L773.0,697.4 L773.4,698.8 L773.8,698.7 L774.2,701.0 L774.6,698.2 L775.0,700.9 L775.4,700.7 L775.8,699.6 L776.2,702.7 L776.6,700.0 L776.8,697.4 L777.0,700.6 L777.4,700.2 L777.8,699.9 L778.2,700.4 L778.6,705.0 L779.0,700.2 L779.4,700.6 L779.8,699.0 L780.2,702.2 L780.6,699.1 L781.0,697.3 L781.4,696.3 L781.8,699.9 L782.2,700.2 L782.6,695.0 L783.0,696.7 L783.4,699.5 L783.8,700.1 L784.2,694.8 L784.6,696.6 L785.0,699.1 L785.4,696.0 L785.8,695.9 L786.2,695.6 L786.6,693.7 L787.0,696.5 L787.4,696.9 L787.8,693.0 L788.0,696.2 L788.2,698.3 L788.6,696.2 L789.0,697.6 L789.4,694.2 L789.8,698.2 L790.2,693.3 L790.6,698.9 L791.0,693.6 L791.4,692.8 L791.8,692.3 L792.2,693.1 L792.6,692.7 L793.0,692.1 L793.4,692.8 L793.8,694.8 L794.2,695.1 L794.6,692.4 L795.0,695.7 L795.4,690.9 L795.8,690.8 L795.8,690.6 L796.2,694.3 L796.6,689.8 L797.0,690.3 L797.4,696.2 L797.8,697.4 L798.2,696.9 L798.6,691.1 L799.0,694.7 L799.4,696.8 L799.8,695.6 L800.2,692.3 L800.6,695.4 L801.0,692.9 L801.4,694.2 L801.8,701.8 L802.2,699.0 L802.6,694.6 L803.0,694.8 L803.0,699.0 L803.4,696.9 L803.8,699.6 L804.2,697.2 L804.6,698.4 L805.0,699.5 L805.4,697.0 L805.8,695.3 L806.2,697.1 L806.6,698.4 L807.0,699.6 L807.4,700.1 L807.8,700.3 L808.2,701.7 L808.6,698.9 L809.0,703.9 L809.4,705.3 L809.8,701.9 L810.2,701.7 L810.6,704.0 L811.0,702.8 L811.4,701.8 L811.8,701.1 L812.0,699.9 L812.2,699.0 L812.6,702.8 L813.0,703.9 L813.4,699.1 L813.8,701.0 L814.2,701.5 L814.6,700.0 L815.0,699.2 L815.4,699.8 L815.8,696.2 L816.2,700.1 L816.6,699.4 L817.0,704.2 L817.4,701.5 L817.8,698.6 L818.2,699.0 L818.6,702.4 L819.0,702.0 L819.4,698.7 L819.8,697.8 L820.0,694.9 L820.2,697.2 L820.6,697.3 L821.0,695.8 L821.4,700.8 L821.8,693.0 L822.2,696.4 L822.6,697.3 L823.0,697.1 L823.4,699.4 L823.8,692.6 L824.2,693.6 L824.6,695.1 L825.0,694.7 L825.4,693.2 L825.8,692.0 L826.2,695.3 L826.6,690.3 L827.0,690.8 L827.0,695.0 L827.4,694.8 L827.8,691.9 L828.2,686.9 L828.6,685.3 L829.0,683.4 L829.4,681.0 L829.8,680.5 L830.2,681.9 L830.6,677.5 L831.0,673.4 L831.0,673.3 L831.4,670.3 L831.8,672.8 L832.2,663.4 L832.6,665.4 L833.0,658.9 L833.4,656.9 L833.8,653.2 L834.0,657.0 L834.2,653.4 L834.6,656.3 L835.0,645.8 L835.4,642.9 L835.8,643.6 L836.2,640.9 L836.6,636.6 L837.0,630.7 L837.0,637.9 L837.4,633.9 L837.8,631.1 L838.2,626.7 L838.6,627.0 L839.0,622.4 L839.4,621.9 L839.8,620.0 L840.2,622.2 L840.5,618.4 L840.6,618.7 L841.0,622.6 L841.4,622.7 L841.8,624.9 L842.2,627.8 L842.6,634.0 L843.0,634.5 L843.4,640.7 L843.8,647.5 L844.0,645.7 L844.2,644.9 L844.6,647.4 L845.0,653.7 L845.4,654.6 L845.8,657.5 L846.2,662.8 L846.6,665.5 L847.0,672.7 L847.4,670.7 L847.6,678.1 L847.8,674.5 L848.2,678.5 L848.6,681.8 L849.0,683.0 L849.4,685.9 L849.8,684.1 L850.2,683.0 L850.6,688.5 L851.0,686.4 L851.0,688.7 L851.4,692.6 L851.8,691.0 L852.2,690.9 L852.6,690.5 L853.0,692.9 L853.4,693.7 L853.8,691.3 L854.2,695.6 L854.6,693.1 L855.0,696.1 L855.4,694.9 L855.8,697.9 L855.8,697.6 L856.2,695.7 L856.6,695.1 L857.0,695.6 L857.4,696.9 L857.8,695.4 L858.2,692.7 L858.6,692.3 L859.0,694.1 L859.0,687.5 L859.4,691.3 L859.8,687.6 L860.2,691.4 L860.6,686.9 L861.0,686.8 L861.4,684.0 L861.8,685.5 L862.2,686.3 L862.6,687.3 L862.6,681.4 L863.0,682.3 L863.4,687.7 L863.8,683.5 L864.2,680.7 L864.6,681.0 L865.0,674.0 L865.4,681.9 L865.8,678.5 L866.0,675.1 L866.2,680.2 L866.6,676.2 L867.0,675.0 L867.4,677.9 L867.8,677.4 L868.2,675.4 L868.6,676.0 L869.0,673.3 L869.4,673.1 L869.4,677.8 L869.8,678.8 L870.2,677.6 L870.6,678.2 L871.0,677.6 L871.4,679.3 L871.8,678.8 L872.2,685.4 L872.6,681.9 L873.0,684.8 L873.0,684.0 L873.4,682.1 L873.8,689.9 L874.2,686.3 L874.6,686.5 L875.0,689.4 L875.4,688.4 L875.8,691.3 L876.2,690.3 L876.6,694.3 L877.0,694.1 L877.4,691.9 L877.6,697.1 L877.8,695.7 L878.2,693.7 L878.6,697.2 L879.0,697.9 L879.4,701.3 L879.8,696.3 L880.2,700.2 L880.6,698.8 L881.0,700.6 L881.4,699.2 L881.8,700.0 L882.2,701.4 L882.6,698.4 L883.0,696.8 L883.0,701.0 L883.4,700.4 L883.8,701.7 L884.2,703.1 L884.6,701.6 L885.0,704.7 L885.4,702.4 L885.8,703.0 L886.2,704.6 L886.6,704.3 L887.0,703.2 L887.4,703.7 L887.8,702.1 L888.2,702.6 L888.6,704.1 L889.0,705.6 L889.4,703.2 L889.8,705.7 L890.0,707.9 L890.2,708.3 L890.6,704.1 L891.0,706.2 L891.4,705.3 L891.8,705.6 L892.2,705.7 L892.6,705.1 L893.0,705.7 L893.4,704.4 L893.8,703.5 L894.2,704.5 L894.6,705.0 L895.0,706.4 L895.4,704.7 L895.8,705.5 L896.2,706.8 L896.6,702.1 L897.0,703.4 L897.4,705.0 L897.8,704.0 L898.2,701.9 L898.6,705.8 L899.0,703.7 L899.4,701.8 L899.8,707.5 L900.2,701.2 L900.6,703.7 L901.0,702.4 L901.4,703.9 L901.8,704.8 L902.2,702.0 L902.6,703.4 L903.0,703.3 L903.4,701.6 L903.8,705.8 L904.2,703.8 L904.6,702.9 L905.0,702.1 L905.4,702.7 L905.8,703.6 L906.2,702.4 L906.6,705.7 L907.0,698.3 L907.4,699.0 L907.8,702.7 L908.2,699.5 L908.6,703.0 L909.0,701.8 L909.0,704.2 L909.4,703.9 L909.8,705.6 L910.2,704.8 L910.6,705.4 L911.0,703.9 L911.4,705.0 L911.8,703.8 L912.2,701.6 L912.6,700.3 L913.0,700.3 L913.4,703.6 L913.8,698.0 L914.2,702.9 L914.6,701.0 L915.0,703.9 L915.4,702.8 L915.8,700.9 L916.2,702.3 L916.6,697.8 L917.0,702.7 L917.4,703.0 L917.8,698.4 L918.2,703.6 L918.6,701.6 L919.0,702.1 L919.4,698.9 L919.8,702.8 L920.2,702.6 L920.6,701.4 L921.0,699.4 L921.4,702.7 L921.8,703.6 L922.2,701.8 L922.6,702.9 L923.0,699.7 L923.4,701.0 L923.8,701.3 L924.2,700.8 L924.6,705.2 L925.0,701.0 L925.3,699.1 L925.4,701.7 L925.8,697.8 L926.2,700.4 L926.6,700.9 L927.0,698.2 L927.4,698.2 L927.8,696.7 L928.2,698.3 L928.6,696.4 L929.0,700.6 L929.4,698.1 L929.8,696.0 L930.0,693.5 L930.2,699.8 L930.6,697.9 L931.0,695.7 L931.4,694.5 L931.8,693.8 L932.2,691.9 L932.6,695.8 L933.0,692.1 L933.4,688.5 L933.5,689.9 L933.8,686.1 L934.2,692.0 L934.6,691.9 L935.0,693.6 L935.4,694.0 L935.8,688.4 L936.2,690.5 L936.6,691.4 L937.0,690.9 L937.4,688.3 L937.5,690.7 L937.8,690.0 L938.2,691.5 L938.6,688.8 L939.0,688.2 L939.4,687.6 L939.8,687.7 L940.2,686.9 L940.6,687.6 L941.0,689.2 L941.4,689.0 L941.6,690.7 L941.8,690.3 L942.2,689.5 L942.6,686.4 L943.0,690.1 L943.4,691.7 L943.8,687.6 L944.2,688.5 L944.6,689.4 L945.0,689.9 L945.4,691.8 L945.8,691.1 L946.0,693.9 L946.2,691.1 L946.6,693.6 L947.0,693.3 L947.4,693.0 L947.8,697.2 L948.2,695.8 L948.6,697.3 L949.0,696.2 L949.4,698.6 L949.8,698.9 L950.2,697.9 L950.6,695.3 L951.0,700.5 L951.4,700.7 L951.8,700.0 L952.2,700.4 L952.5,700.3 L952.6,700.5 L953.0,698.5 L953.4,700.5 L953.8,701.3 L954.2,699.8 L954.6,699.3 L955.0,704.7 L955.4,702.6 L955.8,701.0 L956.2,700.8 L956.6,696.9 L957.0,699.3 L957.4,701.6 L957.8,704.6 L958.2,698.5 L958.6,701.1 L959.0,706.0 L959.4,703.8 L959.8,703.4 L960.0,704.8 L960.2,702.4 L960.6,702.3 L961.0,704.0 L961.4,704.3 L961.8,700.8 L962.2,705.6 L962.6,699.6 L963.0,701.6 L963.4,707.6 L963.8,702.0 L964.2,704.2 L964.6,701.1 L965.0,702.4 L965.4,701.7 L965.8,702.3 L966.2,704.3 L966.6,706.3 L967.0,704.7 L967.4,706.0 L967.8,702.2 L968.2,705.8 L968.6,704.2 L968.8,705.6 L969.0,702.3 L969.4,702.6 L969.8,705.5 L970.2,704.0 L970.6,703.0 L971.0,701.4 L971.4,702.3 L971.8,703.2 L972.2,703.5 L972.6,700.9 L973.0,701.1 L973.4,702.3 L973.8,699.3 L974.2,702.9 L974.6,701.0 L975.0,700.6 L975.4,696.3 L975.8,697.7 L976.0,698.6 L976.2,699.4 L976.6,698.4 L977.0,701.0 L977.4,700.4 L977.8,699.6 L978.2,696.3 L978.6,702.5 L979.0,699.4 L979.4,700.9 L979.8,698.5 L980.2,699.7 L980.6,700.9 L981.0,700.0 L981.4,701.3 L981.8,699.2 L982.2,703.1 L982.4,696.1 L982.6,698.5 L983.0,701.3 L983.4,699.2 L983.8,699.1 L984.2,696.9 L984.6,702.5 L985.0,697.2 L985.4,701.9 L985.8,701.7 L986.2,703.2 L986.6,704.7 L987.0,701.1 L987.4,701.3 L987.8,702.5 L988.2,700.3 L988.6,705.2 L989.0,703.2 L989.0,704.2 L989.4,702.2 L989.8,704.5 L990.2,703.6 L990.6,704.9 L991.0,703.3 L991.4,707.4 L991.8,704.7 L992.2,701.5 L992.6,707.5 L993.0,706.1 L993.4,705.3 L993.8,711.6 L994.2,707.2 L994.6,705.1 L995.0,706.5 L995.4,708.4 L995.8,707.5 L996.0,710.1 L996.2,709.9 L996.6,706.6 L997.0,708.2 L997.4,709.4 L997.8,707.6 L998.2,707.6 L998.6,710.0 L999.0,709.3 L999.4,706.1 L999.8,707.7 L1000.2,708.0 L1000.6,708.6 L1001.0,707.6 L1001.4,711.3 L1001.8,707.3 L1002.2,707.1 L1002.6,709.5 L1003.0,705.2 L1003.4,707.4 L1003.8,710.4 L1004.2,707.0 L1004.6,707.9 L1005.0,711.3 L1005.4,710.2 L1005.8,709.6 L1006.2,709.9 L1006.6,708.3 L1007.0,710.1 L1007.4,709.2 L1007.8,714.0 L1008.2,710.6 L1008.6,709.0 L1009.0,709.5 L1009.4,709.7 L1009.7,707.2 L1009.8,708.2 L1010.2,712.3 L1010.6,707.1 L1011.0,708.4 L1011.4,711.1 L1011.8,711.7 L1012.2,707.0 L1012.6,711.2 L1013.0,707.7 L1013.4,710.9 L1013.8,708.6 L1014.2,706.9 L1014.6,708.4 L1015.0,707.8 L1015.4,705.1 L1015.8,709.9 L1016.0,705.4 L1016.2,707.8 L1016.6,704.7 L1017.0,702.0 L1017.4,702.9 L1017.8,704.3 L1018.2,705.3 L1018.6,706.8 L1019.0,703.4 L1019.4,702.2 L1019.8,700.0 L1020.2,701.5 L1020.6,701.5 L1020.6,697.1 L1021.0,702.5 L1021.4,701.2 L1021.8,702.0 L1022.2,695.1 L1022.6,695.3 L1023.0,693.8 L1023.4,689.9 L1023.8,689.2 L1024.0,688.3 L1024.2,690.1 L1024.6,688.5 L1025.0,688.5 L1025.4,683.8 L1025.8,680.4 L1026.2,681.9 L1026.6,680.1 L1027.0,678.8 L1027.4,678.1 L1027.4,674.9 L1027.8,675.6 L1028.2,670.5 L1028.6,670.6 L1029.0,669.6 L1029.4,666.3 L1029.8,665.1 L1030.2,660.6 L1030.5,660.8 L1030.6,661.9 L1031.0,658.1 L1031.4,657.2 L1031.8,661.4 L1032.2,656.4 L1032.6,653.4 L1033.0,652.2 L1033.4,655.9 L1033.6,649.0 L1033.8,652.9 L1034.2,655.3 L1034.6,654.5 L1035.0,658.1 L1035.4,657.5 L1035.8,661.5 L1036.2,663.9 L1036.6,665.9 L1037.0,668.1 L1037.0,667.9 L1037.4,671.4 L1037.8,670.8 L1038.2,672.0 L1038.6,674.4 L1039.0,676.1 L1039.4,675.7 L1039.8,676.8 L1040.2,679.4 L1040.6,683.8 L1041.0,683.6 L1041.0,684.1 L1041.4,690.9 L1041.8,689.5 L1042.2,688.5 L1042.6,689.1 L1043.0,693.8 L1043.4,691.3 L1043.8,695.9 L1044.2,695.9 L1044.5,698.1 L1044.6,694.8 L1045.0,698.7 L1045.4,695.2 L1045.8,699.0 L1046.2,702.2 L1046.6,702.5 L1047.0,699.1 L1047.4,704.2 L1047.8,704.5 L1047.8,703.7 L1048.2,703.2 L1048.6,704.5 L1049.0,704.6 L1049.4,707.7 L1049.8,707.4 L1050.2,708.8 L1050.6,708.7 L1051.0,705.7 L1051.4,708.5 L1051.8,712.3 L1052.2,707.2 L1052.6,709.9 L1053.0,708.4 L1053.0,708.3 L1053.4,710.5 L1053.8,712.0 L1054.2,712.0 L1054.6,711.8 L1055.0,712.9 L1055.4,708.9 L1055.8,713.3 L1056.2,712.8 L1056.6,712.1 L1057.0,712.6 L1057.4,711.4 L1057.8,715.0 L1058.2,712.0 L1058.6,710.9 L1058.7,713.4 L1059.0,712.6 L1059.4,713.6 L1059.8,716.4 L1060.2,713.8 L1060.6,714.4 L1061.0,718.1 L1061.4,712.1 L1061.8,715.2 L1062.2,716.7 L1062.6,717.4 L1063.0,718.8 L1063.4,714.1 L1063.8,716.3 L1064.2,715.2 L1064.6,714.7 L1065.0,714.4 L1065.4,713.3 L1065.8,716.4 L1066.2,717.1 L1066.6,714.2 L1067.0,717.3 L1067.4,715.2 L1067.8,714.5 L1068.2,712.1 L1068.6,718.1 L1069.0,717.5 L1069.0,715.8 L1069.4,715.7 L1069.8,714.2 L1070.2,717.2 L1070.6,716.3 L1071.0,717.3 L1071.4,716.7 L1071.8,714.1 L1072.2,713.9 L1072.6,717.2 L1073.0,713.7 L1073.4,717.0 L1073.8,718.1 L1074.2,714.5 L1074.6,717.7 L1075.0,716.7 L1075.4,717.5 L1075.8,715.6 L1076.2,716.7 L1076.6,717.4 L1077.0,719.8 L1077.4,718.0 L1077.8,717.6 L1078.2,714.6 L1078.6,717.4 L1079.0,715.7 L1079.4,716.7 L1079.8,717.3 L1080.2,718.5 L1080.5,717.9 L1080.6,717.2 L1081.0,716.8 L1081.4,719.2 L1081.8,715.5 L1082.2,717.1 L1082.6,719.3 L1083.0,716.7 L1083.4,718.4 L1083.8,718.5 L1084.2,720.4 L1084.6,719.0 L1085.0,714.4 L1085.4,717.2 L1085.8,717.7 L1086.2,718.6 L1086.6,717.8 L1087.0,720.3 L1087.4,719.0 L1087.8,715.3 L1088.2,716.2 L1088.6,713.9 L1089.0,720.1 L1089.4,717.1 L1089.8,717.1 L1090.2,714.7 L1090.6,716.6 L1091.0,718.0 L1091.4,716.7 L1091.8,716.7 L1092.2,716.3 L1092.6,720.6 L1093.0,716.4 L1093.4,715.0 L1093.8,716.5 L1094.2,716.8 L1094.6,717.2 L1095.0,716.9 L1095.4,715.5 L1095.8,717.0 L1096.2,717.9 L1096.2,715.0 L1096.6,720.5 L1097.0,720.1 L1097.4,714.3 L1097.8,716.7 L1098.2,718.9 L1098.6,719.4 L1099.0,720.1 L1099.4,714.2 L1099.8,715.4 L1100.2,716.4 L1100.6,718.1 L1101.0,715.4 L1101.4,717.9 L1101.8,717.9 L1102.2,718.3 L1102.6,715.0 L1103.0,717.4 L1103.4,717.2 L1103.8,716.3 L1104.2,719.1 L1104.6,716.5 L1105.0,719.3 L1105.4,716.0 L1105.8,719.7 L1106.2,719.5 L1106.6,715.5 L1107.0,717.4 L1107.4,717.3 L1107.8,715.2 L1108.2,718.0 L1108.6,717.6 L1109.0,715.2 L1109.4,716.8 L1109.8,718.0 L1110.2,716.3 L1110.6,715.3 L1111.0,719.1 L1111.4,714.8 L1111.8,716.9 L1112.2,718.2 L1112.6,717.6 L1113.0,713.3 L1113.4,715.7 L1113.8,716.0 L1114.2,715.8 L1114.6,717.1 L1115.0,717.0 L1115.4,716.3 L1115.8,716.4 L1116.2,717.6 L1116.6,717.9 L1117.0,712.9 L1117.4,719.3 L1117.8,714.9 L1118.2,717.0 L1118.6,713.2 L1119.0,714.9 L1119.4,713.7 L1119.8,717.4 L1120.2,717.0 L1120.6,715.6 L1121.0,715.3 L1121.4,716.1 L1121.8,714.0 L1122.2,714.5 L1122.6,714.2 L1123.0,716.7 L1123.4,715.4 L1123.8,713.3 L1124.2,715.8 L1124.6,716.1 L1125.0,717.4 L1125.4,714.3 L1125.8,715.8 L1126.2,718.4 L1126.6,714.6 L1127.0,714.5 L1127.4,715.9 L1127.8,714.3 L1128.2,715.0 L1128.6,714.2 L1129.0,713.8 L1129.4,716.4 L1129.8,714.4 L1130.2,713.4 L1130.6,714.5 L1131.0,714.7 L1131.4,715.4 L1131.6,716.4 L1131.8,717.7 L1132.2,713.0 L1132.6,714.6 L1133.0,712.1 L1133.4,715.3 L1133.8,715.8 L1134.2,714.0 L1134.6,713.6 L1135.0,713.5 L1135.4,712.8 L1135.8,716.1 L1136.2,718.2 L1136.6,713.5 L1137.0,717.8 L1137.4,715.2 L1137.8,713.2 L1138.2,716.3 L1138.6,716.7 L1139.0,716.2 L1139.4,715.2 L1139.8,718.3 L1140.2,715.3 L1140.6,716.8 L1141.0,716.9 L1141.4,714.6 L1141.8,713.2 L1142.2,713.4 L1142.6,715.6 L1143.0,716.8 L1143.4,713.6 L1143.8,715.3 L1144.2,718.9 L1144.6,713.8 L1145.0,717.4 L1145.4,717.3 L1145.8,718.1 L1146.2,714.7 L1146.6,717.6 L1147.0,715.0 L1147.4,719.3 L1147.8,716.0 L1148.2,718.0 L1148.6,716.3 L1149.0,717.8 L1149.4,715.3 L1149.8,718.2 L1150.2,718.8 L1150.6,717.9 L1151.0,720.5 L1151.4,718.7 L1151.8,719.4 L1152.2,719.1 L1152.6,721.3 L1153.0,717.5 L1153.4,718.1 L1153.8,718.3 L1154.2,719.7 L1154.6,719.2 L1155.0,720.1 L1155.4,719.4 L1155.8,718.2 L1156.2,719.0 L1156.6,719.8 L1157.0,715.8 L1157.4,721.4 L1157.8,718.5 L1158.2,718.9 L1158.6,719.9 L1159.0,719.2 L1159.4,717.4 L1159.8,719.3 L1160.2,721.8 L1160.6,721.3 L1161.0,721.6 L1161.4,719.0 L1161.8,719.5 L1162.2,721.5 L1162.6,722.1 L1163.0,719.9 L1163.4,718.5 L1163.8,717.0 L1164.2,722.1 L1164.3,717.6 L1164.6,720.6 L1165.0,721.3 L1165.4,723.9 L1165.8,720.2 L1166.2,719.8 L1166.6,720.7 L1167.0,720.7 L1167.4,722.0 L1167.8,721.0 L1168.2,718.8 L1168.6,716.8 L1169.0,720.4 L1169.4,718.9 L1169.8,722.1 L1170.2,718.0 L1170.6,720.2 L1171.0,718.8 L1171.4,718.6 L1171.8,722.4 L1172.2,720.2 L1172.6,719.6 L1173.0,721.0 L1173.4,718.7 L1173.8,719.3 L1174.2,718.9 L1174.6,722.8 L1175.0,720.3 L1175.4,720.8 L1175.8,721.5 L1176.2,719.5 L1176.6,719.5 L1177.0,717.3 L1177.4,720.5 L1177.8,720.1 L1178.2,719.1 L1178.6,721.5 L1179.0,717.0 L1179.4,720.3 L1179.8,717.6 L1180.2,717.9 L1180.6,719.3 L1181.0,721.6 L1181.4,717.8 L1181.8,718.0 L1182.2,717.7 L1182.6,722.5 L1183.0,720.2 L1183.4,720.0 L1183.8,722.5 L1184.2,719.7 L1184.6,716.2 L1185.0,718.6 L1185.4,717.5 L1185.8,722.3 L1186.2,717.1 L1186.6,719.6 L1187.0,718.4 L1187.4,718.5 L1187.8,719.1 L1188.2,718.8 L1188.6,718.0 L1188.8,717.1 L1189.0,718.0 L1189.4,717.3 L1189.8,717.4 L1190.2,718.8 L1190.6,718.2 L1191.0,719.0 L1191.4,717.7 L1191.8,720.7 L1192.2,716.5 L1192.6,715.8 L1193.0,718.6 L1193.4,715.7 L1193.8,716.7 L1194.2,717.6 L1194.5,715.8 L1194.6,715.4 L1195.0,717.1 L1195.4,715.8 L1195.8,714.2 L1196.2,712.8 L1196.6,713.6 L1197.0,711.3 L1197.4,712.1 L1197.8,711.3 L1198.2,713.0 L1198.6,713.2 L1199.0,710.7 L1199.4,710.6 L1199.7,709.3 L1199.8,708.8 L1200.2,709.8 L1200.6,710.9 L1201.0,710.3 L1201.4,710.0 L1201.8,708.2 L1202.2,704.5 L1202.6,709.1 L1203.0,709.3 L1203.4,708.3 L1203.8,707.9 L1204.2,707.8 L1204.5,709.7 L1204.6,706.4 L1205.0,707.9 L1205.4,706.5 L1205.8,706.0 L1206.2,704.5 L1206.6,703.9 L1207.0,702.4 L1207.4,704.7 L1207.8,703.1 L1208.2,701.6 L1208.6,702.1 L1209.0,701.3 L1209.4,705.4 L1209.8,702.6 L1209.8,703.2 L1210.2,701.3 L1210.6,701.8 L1211.0,705.2 L1211.4,703.8 L1211.8,705.0 L1212.2,708.1 L1212.6,709.1 L1213.0,707.7 L1213.4,708.2 L1213.8,708.5 L1214.2,708.4 L1214.6,712.5 L1215.0,708.2 L1215.0,709.9 L1215.4,707.7 L1215.8,709.2 L1216.2,712.2 L1216.6,712.9 L1217.0,713.2 L1217.4,712.8 L1217.8,712.8 L1218.2,713.5 L1218.6,714.2 L1219.0,716.8 L1219.4,717.7 L1219.8,716.5 L1220.0,715.2 L1220.2,714.7 L1220.6,716.8 L1221.0,716.2 L1221.4,714.1 L1221.8,719.0 L1222.2,717.1 L1222.6,716.9 L1223.0,716.2 L1223.4,716.4 L1223.8,719.2 L1224.2,716.6 L1224.6,718.2 L1225.0,719.2 L1225.4,721.1 L1225.8,719.4 L1226.2,718.5 L1226.6,718.0 L1227.0,720.1 L1227.4,720.4 L1227.8,718.3 L1228.0,719.9 L1228.2,718.8 L1228.6,716.7 L1229.0,717.7 L1229.4,720.5 L1229.8,721.5 L1230.2,720.4 L1230.6,719.2 L1231.0,718.5 L1231.4,720.4 L1231.8,720.1 L1232.2,717.3 L1232.6,720.7 L1233.0,718.7 L1233.4,720.8 L1233.8,720.7 L1234.2,721.0 L1234.6,721.6 L1235.0,721.1 L1235.4,718.5 L1235.8,718.6 L1236.2,721.7 L1236.6,720.9 L1237.0,717.9 L1237.4,717.3 L1237.8,721.6 L1237.8,723.6 L1238.2,721.6 L1238.6,720.0 L1239.0,720.8 L1239.4,716.7 L1239.8,719.0 L1240.2,722.0 L1240.6,721.8 L1241.0,717.4 L1241.4,722.4 L1241.8,721.5 L1242.2,722.1 L1242.6,720.4 L1243.0,720.8 L1243.4,719.2 L1243.8,721.3 L1244.2,722.2 L1244.6,719.5 L1245.0,721.5 L1245.4,720.2 L1245.8,722.6 L1246.2,722.5 L1246.6,717.6 L1247.0,721.8 L1247.4,722.7 L1247.8,720.4 L1248.2,720.9 L1248.6,721.0 L1249.0,719.6 L1249.4,721.1 L1249.8,723.6 L1250.2,722.1 L1250.6,723.6 L1251.0,722.9 L1251.4,723.2 L1251.8,721.6 L1252.2,722.6 L1252.6,724.5 L1253.0,723.7 L1253.4,722.0 L1253.8,720.5 L1254.2,720.2 L1254.6,722.0 L1255.0,722.3 L1255.4,718.9 L1255.8,722.0 L1256.2,722.2 L1256.6,722.1 L1257.0,720.9 L1257.4,725.1 L1257.8,723.0 L1258.2,719.7 L1258.6,720.6 L1259.0,722.9 L1259.4,722.5 L1259.6,721.9 L1259.8,721.7 L1260.2,721.4 L1260.6,721.0 L1261.0,720.1 L1261.4,722.5 L1261.8,717.9 L1262.2,720.5 L1262.6,723.3 L1263.0,720.3 L1263.4,719.6 L1263.8,724.1 L1264.2,722.8 L1264.6,721.0 L1265.0,720.3 L1265.4,720.7 L1265.8,720.5 L1266.2,720.5 L1266.6,719.7 L1267.0,721.5 L1267.4,719.8 L1267.8,717.9 L1268.2,718.5 L1268.6,720.4 L1269.0,718.8 L1269.4,716.5 L1269.8,722.3 L1270.2,720.7 L1270.6,719.2 L1271.0,719.0 L1271.4,720.5 L1271.8,721.6 L1272.2,718.6 L1272.6,720.0 L1273.0,718.4 L1273.4,719.7 L1273.8,717.5 L1274.2,716.3 L1274.6,719.1 L1275.0,718.8 L1275.0,720.0 L1275.4,717.8 L1275.8,720.8 L1276.2,718.8 L1276.6,720.8 L1277.0,717.9 L1277.4,720.6 L1277.8,718.1 L1278.2,718.3 L1278.6,719.4 L1279.0,715.3 L1279.4,716.2 L1279.8,720.4 L1280.2,715.3 L1280.6,716.7 L1281.0,718.1 L1281.4,719.4 L1281.8,716.4 L1282.2,717.2 L1282.6,715.3 L1283.0,716.3 L1283.4,718.3 L1283.8,717.2 L1284.2,716.6 L1284.6,717.2 L1285.0,716.7 L1285.4,716.7 L1285.8,715.9 L1286.2,715.0 L1286.6,717.4 L1286.8,714.7 L1287.0,717.9 L1287.4,719.6 L1287.8,718.7 L1288.2,720.0 L1288.6,715.1 L1289.0,717.2 L1289.4,715.7 L1289.8,716.0 L1290.2,714.7 L1290.6,715.6 L1291.0,718.9 L1291.4,718.8 L1291.8,719.8 L1292.2,719.9 L1292.6,719.6 L1293.0,717.4 L1293.4,718.7 L1293.8,720.1 L1294.2,721.1 L1294.6,718.9 L1295.0,718.9 L1295.4,719.1 L1295.8,722.3 L1296.0,720.8 L1296.2,719.6 L1296.6,719.1 L1297.0,721.0 L1297.4,718.0 L1297.8,720.3 L1298.2,719.9 L1298.6,720.1 L1299.0,721.4 L1299.4,721.8 L1299.8,725.1 L1300.2,721.7 L1300.6,722.7 L1301.0,720.6 L1301.4,719.5 L1301.8,723.8 L1302.2,725.1 L1302.6,720.9 L1303.0,722.4 L1303.4,724.2 L1303.8,722.8 L1304.2,719.2 L1304.6,724.3 L1305.0,722.7 L1305.4,724.0 L1305.8,721.6 L1305.9,724.3 L1306.2,724.6 L1306.6,722.0 L1307.0,723.8 L1307.4,722.2 L1307.8,722.4 L1308.2,721.9 L1308.6,722.6 L1309.0,722.3 L1309.4,725.0 L1309.8,723.0 L1310.2,721.7 L1310.6,725.4 L1311.0,724.2 L1311.4,724.9 L1311.8,723.4 L1312.2,724.5 L1312.6,723.4 L1313.0,722.2 L1313.4,723.7 L1313.8,723.8 L1314.2,723.8 L1314.6,724.9 L1315.0,721.1 L1315.4,724.1 L1315.8,722.6 L1316.2,723.3 L1316.6,724.4 L1317.0,723.9 L1317.4,722.8 L1317.8,724.9 L1318.2,723.8 L1318.6,725.2 L1319.0,725.7 L1319.4,723.4 L1319.8,722.3 L1320.2,724.1 L1320.6,725.2 L1321.0,724.4 L1321.4,722.3 L1321.8,721.5 L1322.2,722.6 L1322.6,722.6 L1323.0,724.9 L1323.4,724.1 L1323.8,725.3 L1324.2,723.9 L1324.6,726.5 L1325.0,724.1 L1325.4,724.9 L1325.8,723.5 L1326.2,724.7 L1326.6,725.7 L1327.0,725.2 L1327.4,726.0 L1327.7,723.2 L1327.8,724.8 L1328.2,726.6 L1328.6,724.5 L1329.0,723.8 L1329.4,723.7 L1329.8,723.3 L1330.2,724.2 L1330.6,726.0 L1331.0,724.6 L1331.4,723.9 L1331.8,722.8 L1332.2,722.2 L1332.6,727.3 L1333.0,723.1 L1333.4,723.9 L1333.8,723.0 L1334.2,723.9 L1334.6,723.0 L1335.0,723.7 L1335.4,725.6 L1335.8,722.3 L1336.2,724.1 L1336.6,723.2 L1337.0,724.2 L1337.4,722.1 L1337.8,723.6 L1338.2,721.5 L1338.6,720.2 L1339.0,720.9 L1339.4,721.3 L1339.8,721.0 L1340.2,722.1 L1340.6,724.1 L1341.0,720.7 L1341.4,722.9 L1341.8,722.4 L1342.2,721.1 L1342.6,720.7 L1343.0,722.6 L1343.4,722.6 L1343.8,721.3 L1344.2,721.5 L1344.6,721.6 L1345.0,719.6 L1345.0,721.7 L1345.4,721.9 L1345.8,723.9 L1346.2,719.4 L1346.6,719.9 L1347.0,721.1 L1347.4,720.1 L1347.8,720.2 L1348.2,720.7 L1348.6,720.1 L1349.0,720.4 L1349.4,720.9 L1349.8,717.8 L1350.2,720.8 L1350.6,716.5 L1351.0,722.1 L1351.4,720.7 L1351.8,718.3 L1352.2,720.5 L1352.2,718.8 L1352.6,719.4 L1353.0,719.5 L1353.4,718.6 L1353.8,717.7 L1354.2,718.1 L1354.6,716.5 L1355.0,715.8 L1355.4,714.5 L1355.8,712.8 L1356.2,717.2 L1356.6,715.6 L1357.0,712.0 L1357.0,714.6 L1357.4,713.9 L1357.8,710.0 L1358.2,711.6 L1358.6,712.2 L1359.0,714.4 L1359.4,713.1 L1359.8,712.9 L1360.2,711.2 L1360.6,711.8 L1361.0,708.4 L1361.4,710.6 L1361.7,710.6 L1361.8,707.7 L1362.2,709.6 L1362.6,711.1 L1363.0,711.4 L1363.4,710.5 L1363.8,707.2 L1364.2,707.9 L1364.6,707.1 L1365.0,709.4 L1365.4,706.4 L1365.5,706.1 L1365.8,705.2 L1366.2,707.7 L1366.6,708.0 L1367.0,706.4 L1367.4,706.2 L1367.8,706.9 L1368.2,709.1 L1368.6,705.2 L1369.0,707.0 L1369.4,707.4 L1369.8,707.6 L1369.9,708.9 L1370.2,708.3 L1370.6,707.6 L1371.0,709.6 L1371.4,709.4 L1371.8,708.6 L1372.2,708.9 L1372.6,707.3 L1373.0,709.7 L1373.4,708.8 L1373.8,708.8 L1374.2,710.4 L1374.5,708.6 L1374.6,709.9 L1375.0,710.8 L1375.4,712.3 L1375.8,711.7 L1376.2,713.1 L1376.6,715.1 L1377.0,714.3 L1377.4,711.9 L1377.8,711.3 L1378.2,712.8 L1378.6,713.2 L1379.0,711.9 L1379.4,712.6 L1379.4,712.6 L1379.8,714.4 L1380.2,717.6 L1380.6,718.3 L1381.0,714.6 L1381.4,715.7 L1381.8,714.7 L1382.2,714.6 L1382.6,717.1 L1383.0,717.5 L1383.4,716.8 L1383.8,718.9 L1384.2,717.8 L1384.6,720.0 L1385.0,718.0 L1385.4,720.2 L1385.8,718.9 L1386.2,719.6 L1386.6,720.6 L1387.0,718.0 L1387.4,719.1 L1387.8,720.2 L1388.2,720.1 L1388.6,721.1 L1389.0,719.7 L1389.4,719.1 L1389.8,721.0 L1390.2,721.7 L1390.3,720.2 L1390.6,723.2 L1391.0,722.6 L1391.4,723.0 L1391.8,723.0 L1392.2,720.8 L1392.6,725.2 L1393.0,721.3 L1393.4,723.0 L1393.8,723.6 L1394.2,723.2 L1394.6,723.1 L1395.0,721.8 L1395.4,722.5 L1395.8,723.3 L1396.2,725.2 L1396.6,722.5 L1397.0,724.6 L1397.4,724.4 L1397.8,724.0 L1398.2,723.2 L1398.6,723.9 L1399.0,721.7 L1399.4,724.4 L1399.8,724.8 L1400.2,723.7 L1400.6,725.3 L1401.0,725.1 L1401.4,723.7 L1401.8,726.0 L1402.2,724.1 L1402.6,728.3 L1403.0,723.5 L1403.4,723.8 L1403.8,724.1 L1404.2,725.4 L1404.6,726.7 L1405.0,725.2 L1405.4,724.5 L1405.8,727.8 L1406.0,726.6"/>
<path stroke="#f0f" d="M123.0,472.7 L123.4,474.5 L123.8,481.0 L124.2,477.6 L124.6,469.7 L125.0,475.4 L125.4,473.4 L125.8,476.2 L126.2,470.2 L126.6,476.7 L127.0,476.8 L127.4,481.5 L127.8,477.2 L128.2,478.0 L128.6,471.3 L129.0,484.2 L129.4,470.0 L129.8,480.4 L130.2,475.7 L130.6,473.9 L131.0,474.8 L131.4,474.8 L131.8,478.5 L132.2,477.0 L132.6,482.4 L133.0,471.4 L133.4,477.7 L133.8,474.8 L134.2,480.5 L134.6,471.0 L135.0,477.0 L135.4,479.0 L135.8,473.5 L136.2,481.7 L136.6,479.2 L137.0,482.1 L137.4,482.0 L137.8,475.8 L138.2,476.5 L138.6,478.6 L139.0,481.8 L139.4,482.3 L139.8,477.3 L140.2,477.8 L140.6,477.3 L141.0,478.1 L141.0,479.2 L141.4,479.7 L141.8,486.9 L142.2,478.8 L142.6,479.6 L143.0,482.2 L143.4,477.8 L143.8,479.8 L144.2,481.2 L144.6,483.7 L145.0,477.2 L145.4,485.9 L145.8,480.6 L146.2,482.4 L146.6,484.7 L147.0,484.3 L147.4,485.7 L147.8,483.0 L148.2,482.6 L148.6,483.8 L149.0,479.8 L149.4,486.9 L149.8,480.9 L150.2,479.5 L150.6,490.0 L151.0,483.4 L151.4,480.3 L151.8,489.9 L152.2,483.3 L152.6,487.8 L153.0,482.1 L153.4,484.1 L153.8,479.8 L154.2,479.3 L154.6,482.3 L155.0,485.3 L155.4,488.1 L155.8,493.3 L156.2,482.9 L156.6,489.3 L157.0,484.5 L157.4,486.1 L157.8,482.2 L158.2,482.4 L158.6,484.7 L159.0,483.6 L159.4,487.4 L159.8,485.5 L160.2,491.5 L160.6,488.4 L161.0,488.6 L161.4,491.7 L161.8,490.0 L162.2,488.5 L162.6,488.5 L163.0,488.6 L163.4,492.3 L163.8,491.6 L164.2,490.6 L164.6,492.0 L165.0,488.2 L165.4,491.5 L165.8,486.0 L166.2,494.3 L166.6,490.7 L167.0,491.1 L167.4,492.5 L167.8,490.9 L168.0,490.3 L168.2,494.6 L168.6,491.6 L169.0,488.7 L169.4,492.8 L169.8,486.7 L170.2,496.7 L170.6,491.5 L171.0,492.3 L171.4,498.8 L171.8,498.7 L172.2,493.0 L172.6,494.6 L173.0,496.1 L173.4,497.9 L173.8,492.9 L174.2,493.8 L174.6,497.0 L175.0,494.5 L175.4,496.0 L175.8,495.7 L176.2,490.9 L176.6,491.9 L177.0,487.1 L177.4,493.9 L177.8,498.5 L178.2,491.8 L178.6,498.5 L179.0,498.0 L179.4,495.2 L179.8,495.5 L180.2,495.9 L180.6,493.4 L181.0,495.1 L181.4,496.0 L181.8,497.9 L182.2,498.6 L182.6,494.5 L183.0,499.0 L183.4,494.7 L183.8,496.5 L184.2,498.1 L184.6,497.2 L185.0,497.1 L185.4,498.3 L185.8,496.2 L186.2,496.1 L186.6,497.4 L187.0,500.8 L187.4,498.0 L187.8,503.7 L188.2,499.2 L188.6,491.6 L189.0,497.7 L189.4,503.6 L189.8,499.2 L190.2,498.1 L190.6,497.1 L191.0,503.2 L191.4,502.5 L191.8,501.7 L192.2,501.2 L192.6,504.1 L193.0,502.5 L193.4,497.1 L193.8,502.7 L194.2,501.2 L194.6,500.6 L195.0,503.1 L195.0,501.1 L195.4,494.1 L195.8,505.5 L196.2,504.2 L196.6,501.2 L197.0,500.7 L197.4,502.5 L197.8,498.6 L198.2,502.9 L198.6,501.7 L199.0,501.5 L199.4,500.1 L199.8,500.9 L200.2,505.8 L200.6,506.5 L201.0,504.4 L201.4,503.1 L201.8,501.1 L202.2,505.4 L202.6,507.9 L203.0,499.6 L203.4,507.1 L203.8,498.4 L204.2,503.3 L204.6,505.4 L205.0,500.9 L205.4,500.7 L205.8,505.3 L206.2,507.2 L206.6,503.8 L207.0,508.7 L207.4,503.3 L207.8,510.1 L208.2,505.9 L208.6,506.4 L209.0,507.5 L209.4,506.9 L209.8,511.0 L210.2,512.0 L210.6,507.9 L211.0,506.1 L211.4,503.7 L211.8,504.9 L212.2,507.0 L212.6,506.8 L213.0,507.1 L213.4,507.4 L213.8,508.8 L214.2,504.2 L214.6,505.1 L215.0,510.8 L215.4,510.2 L215.8,506.8 L216.2,511.6 L216.6,506.7 L217.0,507.9 L217.4,504.0 L217.8,510.9 L218.2,508.9 L218.6,511.7 L219.0,510.9 L219.4,509.5 L219.8,509.8 L220.2,512.5 L220.6,509.2 L221.0,509.4 L221.4,510.0 L221.8,512.0 L222.0,512.4 L222.2,514.9 L222.6,510.0 L223.0,513.5 L223.4,508.8 L223.8,512.1 L224.2,511.1 L224.6,515.2 L225.0,512.5 L225.4,510.0 L225.8,512.7 L226.2,512.3 L226.6,510.8 L227.0,511.0 L227.4,509.5 L227.8,518.3 L228.2,512.4 L228.6,514.7 L229.0,509.5 L229.4,509.8 L229.8,512.3 L230.2,512.4 L230.6,514.9 L231.0,510.5 L231.4,514.5 L231.8,517.0 L232.2,511.1 L232.6,515.8 L233.0,511.3 L233.4,514.6 L233.8,514.8 L234.2,518.2 L234.6,512.4 L235.0,514.6 L235.4,516.8 L235.8,511.5 L236.2,514.4 L236.6,512.4 L237.0,512.9 L237.4,516.4 L237.8,516.5 L238.2,521.1 L238.6,518.2 L239.0,518.1 L239.4,514.6 L239.8,514.3 L240.2,515.4 L240.6,509.5 L241.0,519.1 L241.4,513.5 L241.8,512.5 L242.0,514.0 L242.2,517.2 L242.6,518.1 L243.0,514.2 L243.4,516.1 L243.8,514.9 L244.2,512.6 L244.6,515.4 L245.0,515.0 L245.4,511.2 L245.8,517.5 L246.2,511.1 L246.6,515.4 L247.0,512.2 L247.4,512.7 L247.8,513.0 L248.2,516.3 L248.6,511.5 L249.0,514.0 L249.4,518.1 L249.8,512.7 L250.2,514.2 L250.6,515.8 L251.0,512.7 L251.4,515.2 L251.8,512.4 L252.2,515.6 L252.6,513.9 L253.0,511.5 L253.4,517.0 L253.8,513.3 L254.2,512.8 L254.6,511.2 L255.0,512.2 L255.4,512.9 L255.8,513.5 L256.0,515.6 L256.2,509.9 L256.6,512.0 L257.0,515.5 L257.4,512.9 L257.8,513.2 L258.2,515.7 L258.6,512.5 L259.0,512.5 L259.4,511.0 L259.8,515.0 L260.2,513.1 L260.6,508.7 L261.0,511.4 L261.4,507.2 L261.8,512.3 L262.2,511.2 L262.6,509.2 L263.0,508.6 L263.0,505.3 L263.4,511.3 L263.8,509.3 L264.2,509.0 L264.6,511.5 L265.0,508.4 L265.4,508.8 L265.8,508.8 L266.2,507.4 L266.6,516.5 L267.0,510.6 L267.4,510.5 L267.8,513.7 L268.2,505.8 L268.6,512.1 L269.0,512.4 L269.4,510.4 L269.8,513.9 L270.0,508.3 L270.2,513.1 L270.6,515.3 L271.0,508.3 L271.4,510.4 L271.8,513.6 L272.2,514.1 L272.6,512.9 L273.0,515.5 L273.4,515.4 L273.8,512.0 L274.2,515.1 L274.6,512.6 L275.0,511.0 L275.4,510.4 L275.8,518.5 L276.2,516.0 L276.6,521.0 L277.0,513.2 L277.0,515.8 L277.4,517.5 L277.8,516.5 L278.2,518.1 L278.6,517.5 L279.0,515.8 L279.4,512.0 L279.8,515.3 L280.2,521.6 L280.6,519.5 L281.0,521.0 L281.4,516.6 L281.8,517.7 L282.2,516.2 L282.6,519.2 L283.0,518.6 L283.4,519.6 L283.8,522.7 L284.2,516.8 L284.6,520.5 L285.0,515.7 L285.4,521.5 L285.8,518.1 L286.2,519.0 L286.6,519.6 L287.0,523.1 L287.4,519.4 L287.8,518.4 L288.2,516.9 L288.6,520.3 L289.0,517.8 L289.4,518.7 L289.8,519.9 L290.2,521.5 L290.6,518.5 L291.0,521.7 L291.4,524.2 L291.8,516.9 L292.2,523.5 L292.6,525.3 L293.0,519.2 L293.4,522.0 L293.8,517.5 L294.2,521.5 L294.6,520.0 L295.0,521.5 L295.4,518.8 L295.8,519.1 L296.2,520.0 L296.6,519.5 L297.0,519.7 L297.4,520.7 L297.8,518.8 L298.2,521.0 L298.6,522.4 L299.0,516.2 L299.4,521.9 L299.8,519.9 L300.2,519.1 L300.6,518.6 L301.0,519.8 L301.4,520.1 L301.8,522.6 L302.2,519.0 L302.6,524.3 L303.0,520.1 L303.4,523.6 L303.8,524.5 L304.0,519.4 L304.2,524.6 L304.6,527.2 L305.0,521.4 L305.4,523.8 L305.8,522.3 L306.2,522.8 L306.6,522.3 L307.0,521.7 L307.4,524.5 L307.8,524.9 L308.2,523.0 L308.6,526.5 L309.0,525.6 L309.4,524.8 L309.8,521.7 L310.2,527.6 L310.6,526.4 L311.0,518.7 L311.4,521.1 L311.8,522.6 L312.2,525.8 L312.6,526.5 L313.0,523.2 L313.4,524.4 L313.8,525.5 L314.2,521.2 L314.6,525.4 L315.0,523.5 L315.4,524.6 L315.8,524.1 L316.2,521.7 L316.6,522.2 L317.0,524.5 L317.4,524.8 L317.8,524.0 L318.2,526.9 L318.6,523.9 L319.0,522.0 L319.4,524.0 L319.8,524.4 L320.2,524.6 L320.6,527.5 L321.0,526.1 L321.4,527.4 L321.8,526.5 L322.2,524.8 L322.6,527.5 L323.0,524.7 L323.4,525.8 L323.8,523.2 L324.2,525.6 L324.6,524.7 L325.0,526.3 L325.4,529.5 L325.8,530.8 L326.2,527.9 L326.6,525.7 L327.0,527.6 L327.4,526.3 L327.8,524.5 L328.2,525.8 L328.6,525.4 L329.0,524.7 L329.4,529.1 L329.8,524.9 L330.2,525.1 L330.6,527.7 L331.0,524.7 L331.4,523.8 L331.8,524.5 L332.2,527.4 L332.6,527.2 L333.0,527.1 L333.4,525.5 L333.8,524.6 L334.2,528.6 L334.6,523.5 L335.0,526.2 L335.4,523.8 L335.8,525.9 L336.2,526.5 L336.6,529.5 L337.0,521.2 L337.4,529.9 L337.8,525.0 L338.2,527.6 L338.6,528.8 L339.0,525.4 L339.4,526.9 L339.8,528.2 L340.2,526.9 L340.6,525.6 L341.0,527.7 L341.4,527.5 L341.8,524.1 L342.2,530.3 L342.6,527.9 L343.0,522.2 L343.4,525.7 L343.8,531.2 L344.2,530.9 L344.6,528.1 L345.0,523.9 L345.0,527.1 L345.4,529.9 L345.8,528.5 L346.2,526.9 L346.6,526.1 L347.0,529.5 L347.4,527.3 L347.8,528.5 L348.2,528.9 L348.6,531.4 L349.0,528.3 L349.4,528.5 L349.8,524.1 L350.2,530.3 L350.6,529.9 L351.0,528.0 L351.4,523.2 L351.8,526.9 L352.2,528.3 L352.6,532.6 L353.0,529.4 L353.4,529.9 L353.8,530.0 L354.2,531.1 L354.6,525.8 L355.0,526.5 L355.4,525.8 L355.8,527.7 L356.2,527.6 L356.6,528.6 L357.0,526.2 L357.4,528.6 L357.8,526.6 L358.2,533.0 L358.6,527.4 L359.0,534.0 L359.4,532.1 L359.8,526.0 L360.2,530.7 L360.6,529.9 L361.0,525.4 L361.4,530.0 L361.8,528.5 L362.2,529.5 L362.6,526.9 L363.0,528.6 L363.4,529.7 L363.8,528.4 L364.2,527.5 L364.6,528.5 L365.0,526.8 L365.4,529.6 L365.8,523.5 L366.2,532.2 L366.6,529.1 L367.0,530.0 L367.4,530.8 L367.8,526.4 L368.2,533.9 L368.6,526.7 L369.0,530.1 L369.4,529.8 L369.8,531.9 L370.2,529.1 L370.6,526.2 L371.0,529.9 L371.4,524.0 L371.8,528.8 L372.2,528.3 L372.6,532.6 L373.0,528.7 L373.4,528.3 L373.8,527.7 L374.2,527.5 L374.6,528.1 L375.0,530.6 L375.4,526.6 L375.8,528.9 L376.2,526.3 L376.6,529.0 L377.0,529.7 L377.4,526.8 L377.8,528.2 L378.2,529.6 L378.6,531.0 L379.0,531.4 L379.4,529.2 L379.8,527.3 L380.2,526.0 L380.6,531.1 L381.0,532.4 L381.4,530.2 L381.8,532.8 L382.2,528.5 L382.6,528.7 L383.0,532.8 L383.4,527.4 L383.8,530.8 L384.2,530.3 L384.6,529.8 L385.0,533.1 L385.4,527.6 L385.8,528.6 L386.0,525.1 L386.2,527.3 L386.6,528.4 L387.0,528.7 L387.4,529.1 L387.8,530.1 L388.2,528.1 L388.6,525.3 L389.0,529.8 L389.4,530.4 L389.8,527.0 L390.2,527.8 L390.6,533.2 L391.0,531.6 L391.4,531.7 L391.8,530.8 L392.2,529.7 L392.6,528.3 L393.0,530.6 L393.4,528.9 L393.8,528.4 L394.2,529.3 L394.6,529.1 L395.0,531.2 L395.4,527.3 L395.8,534.5 L396.2,527.1 L396.6,528.3 L397.0,531.2 L397.4,527.4 L397.8,528.1 L398.2,529.2 L398.6,523.7 L399.0,528.0 L399.4,527.0 L399.8,528.5 L400.2,530.0 L400.6,530.3 L401.0,532.1 L401.4,531.9 L401.8,531.0 L402.2,528.8 L402.6,531.0 L403.0,526.7 L403.4,528.5 L403.8,531.7 L404.2,530.3 L404.6,525.7 L405.0,527.3 L405.4,530.4 L405.8,529.8 L406.2,530.7 L406.6,524.7 L407.0,525.7 L407.4,527.8 L407.8,526.3 L408.2,528.2 L408.6,528.2 L409.0,528.9 L409.4,527.8 L409.8,529.2 L410.0,529.7 L410.2,528.3 L410.6,525.4 L411.0,530.5 L411.4,528.2 L411.8,528.5 L412.2,527.8 L412.6,523.9 L413.0,528.2 L413.4,525.5 L413.8,524.0 L414.2,529.0 L414.6,525.4 L415.0,526.4 L415.4,527.3 L415.8,528.5 L416.2,521.0 L416.6,522.9 L417.0,525.4 L417.4,522.3 L417.8,517.8 L418.0,523.3 L418.2,523.3 L418.6,523.9 L419.0,522.2 L419.4,520.0 L419.8,520.6 L420.2,519.2 L420.6,517.2 L421.0,517.7 L421.4,516.7 L421.8,512.6 L422.0,516.2 L422.2,515.0 L422.6,513.1 L423.0,503.9 L423.4,507.1 L423.8,503.9 L424.2,499.1 L424.6,499.3 L425.0,491.9 L425.0,497.6 L425.4,492.6 L425.8,487.2 L426.2,487.4 L426.6,481.3 L427.0,476.6 L427.4,468.6 L427.5,471.1 L427.8,468.9 L428.2,462.0 L428.6,450.2 L429.0,448.7 L429.4,442.3 L429.8,434.5 L430.0,429.2 L430.2,424.3 L430.6,419.9 L431.0,414.8 L431.4,411.0 L431.8,406.7 L432.2,400.1 L432.6,395.6 L433.0,397.1 L433.0,395.2 L433.4,401.7 L433.8,399.0 L434.2,406.5 L434.6,412.1 L435.0,413.9 L435.4,423.7 L435.8,427.0 L436.0,428.3 L436.2,430.7 L436.6,439.1 L437.0,447.9 L437.4,448.8 L437.8,460.9 L438.2,465.6 L438.5,468.3 L438.6,470.9 L439.0,475.8 L439.4,480.2 L439.8,486.1 L440.2,486.4 L440.6,495.8 L441.0,496.7 L441.0,493.7 L441.4,493.9 L441.8,500.7 L442.2,502.7 L442.6,507.7 L443.0,510.0 L443.4,514.6 L443.8,512.3 L444.2,515.7 L444.5,514.1 L444.6,514.4 L445.0,519.3 L445.4,516.7 L445.8,517.6 L446.2,517.8 L446.6,519.9 L447.0,521.0 L447.4,520.1 L447.8,518.5 L448.2,522.0 L448.6,520.0 L449.0,521.3 L449.0,522.4 L449.4,522.8 L449.8,517.8 L450.2,526.3 L450.6,524.7 L451.0,527.3 L451.4,528.7 L451.8,521.7 L452.2,522.7 L452.6,524.5 L453.0,526.1 L453.4,523.2 L453.8,523.8 L454.0,526.7 L454.2,522.7 L454.6,525.1 L455.0,527.0 L455.4,524.3 L455.8,526.6 L456.2,524.9 L456.6,522.0 L457.0,524.2 L457.4,525.0 L457.8,524.9 L458.2,525.7 L458.6,526.6 L459.0,526.4 L459.4,526.3 L459.8,525.1 L460.2,525.7 L460.6,525.4 L461.0,525.1 L461.4,529.1 L461.8,522.5 L462.2,526.9 L462.6,523.2 L463.0,525.3 L463.4,528.2 L463.8,526.1 L464.2,529.5 L464.6,524.8 L465.0,526.1 L465.4,525.4 L465.8,526.7 L466.0,526.0 L466.2,525.9 L466.6,526.8 L467.0,528.9 L467.4,526.9 L467.8,526.6 L468.2,525.8 L468.6,524.9 L469.0,523.3 L469.4,524.0 L469.8,526.1 L470.2,522.0 L470.6,527.1 L471.0,524.8 L471.4,523.6 L471.8,524.3 L472.2,526.5 L472.6,525.8 L473.0,525.4 L473.4,528.3 L473.8,529.4 L474.2,521.9 L474.6,526.1 L475.0,522.6 L475.4,521.3 L475.8,522.8 L476.2,525.8 L476.6,523.0 L477.0,522.5 L477.4,526.1 L477.8,524.2 L478.2,522.8 L478.6,526.5 L479.0,523.7 L479.4,521.1 L479.8,520.2 L480.2,521.4 L480.6,522.5 L481.0,523.9 L481.0,523.7 L481.4,522.1 L481.8,519.3 L482.2,523.4 L482.6,521.6 L483.0,519.0 L483.4,518.5 L483.8,521.3 L484.2,521.4 L484.6,522.1 L485.0,517.9 L485.4,524.0 L485.8,516.3 L486.2,519.7 L486.6,522.3 L487.0,521.5 L487.4,517.3 L487.8,520.3 L488.2,521.4 L488.6,520.2 L489.0,516.6 L489.4,521.8 L489.8,515.0 L490.2,518.2 L490.6,515.9 L491.0,517.0 L491.0,517.2 L491.4,518.8 L491.8,515.1 L492.2,518.0 L492.6,520.1 L493.0,517.5 L493.4,518.3 L493.8,518.0 L494.2,515.6 L494.6,516.2 L495.0,517.0 L495.4,517.8 L495.8,520.8 L496.2,519.9 L496.6,515.6 L497.0,515.6 L497.4,514.4 L497.8,511.7 L498.2,518.9 L498.6,517.3 L499.0,512.2 L499.4,516.1 L499.8,520.8 L500.2,517.0 L500.6,516.9 L501.0,516.3 L501.4,514.3 L501.8,513.4 L502.2,514.0 L502.6,515.9 L503.0,515.1 L503.4,516.9 L503.8,519.0 L504.2,516.6 L504.6,517.0 L505.0,514.6 L505.4,512.6 L505.8,519.5 L506.2,516.6 L506.6,517.5 L507.0,514.3 L507.4,511.5 L507.8,517.5 L508.2,510.5 L508.6,514.4 L509.0,513.6 L509.4,515.1 L509.8,516.2 L510.2,516.1 L510.6,510.2 L511.0,516.3 L511.4,510.4 L511.8,515.5 L512.2,513.2 L512.6,511.7 L513.0,512.8 L513.4,511.1 L513.8,513.6 L514.2,515.5 L514.6,515.1 L515.0,513.5 L515.4,515.5 L515.8,514.2 L516.2,517.4 L516.6,513.9 L517.0,511.6 L517.4,512.1 L517.8,511.0 L518.0,511.9 L518.2,512.1 L518.6,513.6 L519.0,513.6 L519.4,512.0 L519.8,512.5 L520.2,510.0 L520.6,510.1 L521.0,506.0 L521.4,509.1 L521.8,509.4 L522.2,515.3 L522.6,507.1 L523.0,509.7 L523.4,508.6 L523.8,505.7 L524.2,509.1 L524.6,508.2 L525.0,504.9 L525.4,502.8 L525.8,507.0 L526.0,504.1 L526.2,508.1 L526.6,505.8 L527.0,507.0 L527.4,504.9 L527.8,508.1 L528.2,505.9 L528.6,507.0 L529.0,503.7 L529.4,500.8 L529.8,499.4 L530.2,500.5 L530.6,501.4 L531.0,498.8 L531.4,504.2 L531.8,498.3 L532.0,498.9 L532.2,497.7 L532.6,493.9 L533.0,497.3 L533.4,495.0 L533.8,493.8 L534.2,488.5 L534.6,488.7 L535.0,486.7 L535.4,487.2 L535.8,480.2 L536.0,483.4 L536.2,483.6 L536.6,478.0 L537.0,474.8 L537.4,476.5 L537.8,471.8 L538.2,471.2 L538.6,468.4 L539.0,467.2 L539.0,464.7 L539.4,459.3 L539.8,463.1 L540.2,459.0 L540.6,460.1 L541.0,456.3 L541.4,459.3 L541.8,454.3 L542.2,455.3 L542.6,454.9 L543.0,451.8 L543.4,452.1 L543.8,451.1 L544.0,449.2 L544.2,454.1 L544.6,449.9 L545.0,449.8 L545.4,453.4 L545.8,456.5 L546.2,458.5 L546.6,459.9 L547.0,461.9 L547.4,460.8 L547.8,468.4 L548.0,471.6 L548.2,467.6 L548.6,467.4 L549.0,474.6 L549.4,474.9 L549.8,472.2 L550.2,477.9 L550.6,478.4 L551.0,480.7 L551.0,487.1 L551.4,486.6 L551.8,485.8 L552.2,487.6 L552.6,492.1 L553.0,488.1 L553.4,493.1 L553.8,491.5 L554.2,495.6 L554.6,495.5 L555.0,494.6 L555.0,498.3 L555.4,498.3 L555.8,502.0 L556.2,498.6 L556.6,500.9 L557.0,500.3 L557.4,505.1 L557.8,501.9 L558.2,504.0 L558.6,507.1 L559.0,505.7 L559.0,505.2 L559.4,505.1 L559.8,505.0 L560.2,505.3 L560.6,502.9 L561.0,499.0 L561.4,505.1 L561.8,499.7 L562.2,504.9 L562.6,501.2 L563.0,505.1 L563.0,502.5 L563.4,500.4 L563.8,500.7 L564.2,495.2 L564.6,497.6 L565.0,495.6 L565.4,495.6 L565.8,490.7 L566.2,489.7 L566.6,495.0 L567.0,493.3 L567.4,492.2 L567.5,492.9 L567.8,491.8 L568.2,492.4 L568.6,495.2 L569.0,493.9 L569.4,496.5 L569.8,494.4 L570.2,493.0 L570.6,496.2 L571.0,498.0 L571.4,496.8 L571.8,498.9 L572.0,499.0 L572.2,502.1 L572.6,502.5 L573.0,503.6 L573.4,500.5 L573.8,503.4 L574.2,505.9 L574.6,504.3 L575.0,504.3 L575.4,503.5 L575.8,507.2 L576.2,506.3 L576.6,508.4 L577.0,506.3 L577.4,511.0 L577.8,506.9 L578.0,504.5 L578.2,507.4 L578.6,507.8 L579.0,509.3 L579.4,505.5 L579.8,505.0 L580.2,505.1 L580.6,504.4 L581.0,500.5 L581.4,505.7 L581.8,506.2 L582.2,501.6 L582.6,500.6 L583.0,501.7 L583.0,500.3 L583.4,503.0 L583.8,499.6 L584.2,501.5 L584.6,497.1 L585.0,496.0 L585.4,494.8 L585.8,494.1 L586.2,496.7 L586.6,496.2 L587.0,493.3 L587.0,493.4 L587.4,486.2 L587.8,488.9 L588.2,478.9 L588.6,477.7 L589.0,472.8 L589.4,460.2 L589.8,453.1 L590.2,444.5 L590.4,436.4 L590.6,432.2 L591.0,422.3 L591.4,411.6 L591.8,399.5 L592.2,384.2 L592.6,372.3 L593.0,356.0 L593.0,354.2 L593.4,345.1 L593.8,333.5 L594.2,319.0 L594.6,310.6 L594.9,295.1 L595.0,291.1 L595.4,270.9 L595.8,243.2 L596.2,224.2 L596.2,223.8 L596.6,204.9 L597.0,185.6 L597.4,167.7 L597.8,152.4 L598.2,142.6 L598.2,144.7 L598.6,133.2 L598.9,128.8 L599.0,130.5 L599.4,139.3 L599.6,139.6 L599.8,147.5 L600.2,163.4 L600.6,175.6 L601.0,193.8 L601.4,214.7 L601.6,222.6 L601.8,236.0 L602.2,257.5 L602.6,283.7 L602.9,302.0 L603.0,303.3 L603.4,312.2 L603.8,324.6 L604.2,335.5 L604.6,348.2 L604.9,354.3 L605.0,361.3 L605.4,376.8 L605.8,390.4 L606.2,399.7 L606.6,414.0 L607.0,426.1 L607.4,435.2 L607.5,442.4 L607.8,443.9 L608.2,451.0 L608.6,461.4 L609.0,468.3 L609.4,477.1 L609.8,482.9 L610.2,484.7 L610.6,485.3 L611.0,494.4 L611.0,494.6 L611.4,499.6 L611.8,495.7 L612.2,499.0 L612.6,506.6 L613.0,508.7 L613.4,509.9 L613.8,509.1 L614.2,513.3 L614.5,510.9 L614.6,509.9 L615.0,513.8 L615.4,515.6 L615.8,518.5 L616.2,520.4 L616.6,516.1 L617.0,521.3 L617.4,522.9 L617.8,520.6 L618.2,523.6 L618.6,525.2 L619.0,526.8 L619.0,524.3 L619.4,525.6 L619.8,525.4 L620.2,529.0 L620.6,528.4 L621.0,528.5 L621.4,531.6 L621.8,530.6 L622.2,529.2 L622.6,534.3 L623.0,534.5 L623.4,534.1 L623.8,531.7 L624.0,536.1 L624.2,533.0 L624.6,531.0 L625.0,534.9 L625.4,539.1 L625.8,535.2 L626.2,537.7 L626.6,539.7 L627.0,537.8 L627.4,537.3 L627.8,538.3 L628.2,539.8 L628.6,538.0 L629.0,540.0 L629.4,540.6 L629.8,539.1 L630.0,541.3 L630.2,541.1 L630.6,539.6 L631.0,540.1 L631.4,540.8 L631.8,540.5 L632.2,540.6 L632.6,539.2 L633.0,541.5 L633.4,542.9 L633.8,542.9 L634.2,540.2 L634.6,543.0 L635.0,543.3 L635.4,540.5 L635.8,543.4 L636.2,542.2 L636.6,541.9 L637.0,543.2 L637.4,542.5 L637.8,538.7 L638.2,543.5 L638.6,541.1 L639.0,543.2 L639.4,544.7 L639.8,543.1 L640.2,542.8 L640.6,544.0 L641.0,544.8 L641.4,542.3 L641.8,542.8 L642.2,545.1 L642.6,547.2 L643.0,544.3 L643.4,546.0 L643.8,543.1 L644.2,544.6 L644.6,544.8 L645.0,542.3 L645.4,544.8 L645.8,544.5 L646.0,540.1 L646.2,544.8 L646.6,545.6 L647.0,545.6 L647.4,545.8 L647.8,543.1 L648.2,543.9 L648.6,545.0 L649.0,543.8 L649.4,544.7 L649.8,548.0 L650.2,544.1 L650.6,545.2 L651.0,549.4 L651.4,545.7 L651.8,544.2 L652.2,546.6 L652.6,546.6 L653.0,546.6 L653.4,543.3 L653.8,547.1 L654.2,547.3 L654.6,550.6 L655.0,548.1 L655.4,546.1 L655.8,547.6 L656.2,548.3 L656.6,546.9 L657.0,547.2 L657.4,549.9 L657.8,548.3 L658.2,548.4 L658.6,545.8 L659.0,548.4 L659.4,544.2 L659.8,550.1 L660.2,547.0 L660.6,549.1 L661.0,550.6 L661.4,546.1 L661.8,550.3 L662.2,548.7 L662.6,550.4 L663.0,547.7 L663.4,547.1 L663.8,550.9 L664.2,549.3 L664.6,548.7 L665.0,546.5 L665.4,551.1 L665.8,548.1 L666.2,548.4 L666.6,547.5 L667.0,548.9 L667.4,550.0 L667.8,548.8 L668.2,548.8 L668.6,547.9 L669.0,551.8 L669.4,552.0 L669.8,548.5 L670.2,547.4 L670.6,549.5 L671.0,546.1 L671.4,549.5 L671.8,549.6 L672.2,549.4 L672.6,552.0 L673.0,552.5 L673.0,549.9 L673.4,548.4 L673.8,551.0 L674.2,551.2 L674.6,546.9 L675.0,547.7 L675.4,548.5 L675.8,545.9 L676.2,546.9 L676.6,551.9 L677.0,546.6 L677.4,550.4 L677.8,547.3 L678.2,550.6 L678.6,549.3 L679.0,550.3 L679.4,546.0 L679.8,549.1 L680.2,547.4 L680.6,549.8 L681.0,549.6 L681.4,548.6 L681.8,548.0 L682.2,548.1 L682.6,548.5 L683.0,547.0 L683.4,547.1 L683.8,546.6 L684.2,545.8 L684.6,549.5 L685.0,545.1 L685.4,549.8 L685.8,548.6 L686.2,544.1 L686.6,543.8 L687.0,547.1 L687.4,545.0 L687.8,547.1 L688.2,548.5 L688.6,547.3 L689.0,546.2 L689.4,546.1 L689.8,549.1 L690.2,545.6 L690.6,549.4 L691.0,549.8 L691.4,545.3 L691.8,546.4 L692.2,548.9 L692.6,544.4 L693.0,546.4 L693.4,547.4 L693.8,543.5 L694.2,546.0 L694.6,545.5 L695.0,544.2 L695.0,548.0 L695.4,544.8 L695.8,549.1 L696.2,546.2 L696.6,543.5 L697.0,545.2 L697.4,543.2 L697.8,546.0 L698.2,545.6 L698.6,542.1 L699.0,543.4 L699.4,544.9 L699.8,544.0 L700.2,542.0 L700.6,545.6 L701.0,546.0 L701.4,540.7 L701.8,545.9 L702.2,539.4 L702.6,542.7 L703.0,541.6 L703.4,541.7 L703.8,542.9 L704.2,540.3 L704.6,542.1 L705.0,545.2 L705.0,543.0 L705.4,544.7 L705.8,543.4 L706.2,538.8 L706.6,544.9 L707.0,543.1 L707.4,542.6 L707.8,540.6 L708.2,540.2 L708.6,539.1 L709.0,540.6 L709.4,540.9 L709.8,540.3 L710.2,540.1 L710.6,536.6 L711.0,538.6 L711.4,538.3 L711.5,540.2 L711.8,538.6 L712.2,538.2 L712.6,538.7 L713.0,537.1 L713.4,536.9 L713.8,538.7 L714.2,535.6 L714.6,533.5 L715.0,535.4 L715.4,534.9 L715.8,533.7 L716.0,529.7 L716.2,533.3 L716.6,530.7 L717.0,529.8 L717.4,528.5 L717.8,527.9 L718.2,526.5 L718.6,526.8 L719.0,522.9 L719.4,520.4 L719.5,521.3 L719.8,518.2 L720.2,517.6 L720.6,512.7 L721.0,510.3 L721.4,504.4 L721.8,503.6 L722.0,501.2 L722.2,496.9 L722.6,494.1 L723.0,491.1 L723.4,485.1 L723.8,482.4 L724.0,484.0 L724.2,482.9 L724.6,482.1 L725.0,475.1 L725.4,474.6 L725.8,469.6 L726.2,474.6 L726.6,467.6 L727.0,468.5 L727.4,471.7 L727.7,470.6 L727.8,466.6 L728.2,472.8 L728.6,471.0 L729.0,470.2 L729.4,474.8 L729.8,477.9 L730.2,480.3 L730.6,477.5 L731.0,486.3 L731.0,480.2 L731.4,484.1 L731.8,488.3 L732.2,487.6 L732.6,488.0 L733.0,488.1 L733.4,491.4 L733.8,494.0 L734.2,492.0 L734.5,494.8 L734.6,493.8 L735.0,495.5 L735.4,494.5 L735.8,500.8 L736.2,504.2 L736.6,504.5 L737.0,508.9 L737.4,509.5 L737.8,513.4 L738.0,512.4 L738.2,512.4 L738.6,514.0 L739.0,516.8 L739.4,519.0 L739.8,518.8 L740.2,521.6 L740.6,521.0 L741.0,522.3 L741.4,527.0 L741.5,526.8 L741.8,528.4 L742.2,528.0 L742.6,529.1 L743.0,532.7 L743.4,528.7 L743.8,531.4 L744.2,534.3 L744.6,535.8 L745.0,533.8 L745.4,533.1 L745.8,532.0 L746.0,533.9 L746.2,534.7 L746.6,534.9 L747.0,536.3 L747.4,536.9 L747.8,535.5 L748.2,535.2 L748.6,536.7 L749.0,538.4 L749.4,540.9 L749.8,535.6 L750.2,540.7 L750.6,538.6 L751.0,541.4 L751.4,543.0 L751.8,540.9 L752.0,538.1 L752.2,539.5 L752.6,541.1 L753.0,540.1 L753.4,540.7 L753.8,539.7 L754.2,540.9 L754.6,540.4 L755.0,543.2 L755.4,542.4 L755.8,543.4 L756.2,539.5 L756.6,541.7 L757.0,541.4 L757.4,542.1 L757.8,541.5 L758.2,542.0 L758.6,546.2 L759.0,543.2 L759.4,541.6 L759.8,543.4 L760.2,548.0 L760.6,545.5 L761.0,542.8 L761.4,544.2 L761.8,544.6 L762.2,544.9 L762.6,541.8 L763.0,543.5 L763.4,545.0 L763.8,542.4 L764.2,545.2 L764.6,545.8 L765.0,547.1 L765.4,547.7 L765.8,545.6 L766.2,546.4 L766.6,547.3 L767.0,547.9 L767.4,546.4 L767.8,545.0 L768.2,547.4 L768.6,547.9 L769.0,546.7 L769.4,547.5 L769.8,549.3 L770.2,545.7 L770.6,545.3 L771.0,544.7 L771.0,547.2 L771.4,548.2 L771.8,545.7 L772.2,549.7 L772.6,545.5 L773.0,546.9 L773.4,546.2 L773.8,548.8 L774.2,545.2 L774.6,549.1 L775.0,545.9 L775.4,543.8 L775.8,545.1 L776.2,545.7 L776.6,548.8 L777.0,545.0 L777.4,545.7 L777.8,549.2 L778.2,545.8 L778.6,544.3 L779.0,544.0 L779.4,542.5 L779.8,545.7 L780.2,547.0 L780.6,544.2 L781.0,542.8 L781.4,545.0 L781.8,544.4 L782.2,544.0 L782.6,544.9 L783.0,544.1 L783.4,543.2 L783.8,545.5 L784.2,540.4 L784.6,541.5 L785.0,542.8 L785.4,540.8 L785.8,545.6 L786.2,539.1 L786.6,544.0 L787.0,543.6 L787.4,543.1 L787.5,543.2 L787.8,541.4 L788.2,541.0 L788.6,544.5 L789.0,541.7 L789.4,539.3 L789.8,539.5 L790.2,538.8 L790.6,541.8 L791.0,543.1 L791.4,540.4 L791.8,541.0 L792.2,539.7 L792.6,542.0 L793.0,541.8 L793.4,541.7 L793.8,543.0 L794.2,537.6 L794.6,541.0 L795.0,536.8 L795.4,540.5 L795.8,540.5 L796.0,540.3 L796.2,540.4 L796.6,538.6 L797.0,537.5 L797.4,539.7 L797.8,537.1 L798.2,539.2 L798.6,536.3 L799.0,538.2 L799.4,537.9 L799.8,535.9 L800.2,536.6 L800.6,538.7 L801.0,537.2 L801.0,538.0 L801.4,536.2 L801.8,537.5 L802.2,535.0 L802.6,536.4 L803.0,540.2 L803.4,539.3 L803.8,538.8 L804.2,539.3 L804.6,537.2 L805.0,540.5 L805.4,538.1 L805.8,539.2 L806.0,541.8 L806.2,539.5 L806.6,540.1 L807.0,541.1 L807.4,541.7 L807.8,544.2 L808.2,539.3 L808.6,541.8 L809.0,543.8 L809.4,542.2 L809.8,542.6 L810.2,542.1 L810.6,543.2 L811.0,545.0 L811.4,546.1 L811.8,544.6 L812.0,546.4 L812.2,544.2 L812.6,541.2 L813.0,545.3 L813.4,540.5 L813.8,543.8 L814.2,543.9 L814.6,541.9 L815.0,543.4 L815.4,542.7 L815.8,543.8 L816.2,543.0 L816.6,544.4 L817.0,542.7 L817.4,544.2 L817.8,543.1 L818.2,543.4 L818.6,543.1 L819.0,542.0 L819.4,544.6 L819.8,543.6 L820.0,538.7 L820.2,540.4 L820.6,545.2 L821.0,541.8 L821.4,546.8 L821.8,542.8 L822.2,542.7 L822.6,541.0 L823.0,541.3 L823.4,541.8 L823.8,542.9 L824.2,541.4 L824.6,541.0 L825.0,539.2 L825.4,539.8 L825.8,539.6 L826.2,539.9 L826.6,538.6 L827.0,537.6 L827.0,538.9 L827.4,534.9 L827.8,535.7 L828.2,535.9 L828.6,536.8 L829.0,533.7 L829.4,531.5 L829.8,533.0 L830.2,530.0 L830.6,530.8 L831.0,526.5 L831.0,525.6 L831.4,524.5 L831.8,526.1 L832.2,523.6 L832.6,519.0 L833.0,517.9 L833.4,511.1 L833.8,512.5 L834.0,509.4 L834.2,506.9 L834.6,502.9 L835.0,498.4 L835.4,492.0 L835.8,486.7 L836.0,482.7 L836.2,484.6 L836.6,474.2 L837.0,468.8 L837.4,464.7 L837.8,460.3 L838.0,459.1 L838.2,454.4 L838.6,452.2 L839.0,450.5 L839.4,445.3 L839.8,447.8 L840.2,441.8 L840.6,442.7 L841.0,443.1 L841.4,441.8 L841.8,438.8 L842.2,440.4 L842.6,440.4 L842.8,435.7 L843.0,438.2 L843.4,440.9 L843.8,442.6 L844.2,444.2 L844.6,447.6 L845.0,455.1 L845.4,454.1 L845.8,459.8 L846.0,457.6 L846.2,461.9 L846.6,465.7 L847.0,466.4 L847.4,469.2 L847.8,476.6 L848.2,476.5 L848.6,481.9 L849.0,481.3 L849.0,486.5 L849.4,484.0 L849.8,489.5 L850.2,494.0 L850.6,498.8 L851.0,503.1 L851.4,509.2 L851.8,513.6 L852.0,514.9 L852.2,514.8 L852.6,517.1 L853.0,516.6 L853.4,523.0 L853.8,525.0 L854.2,529.4 L854.5,528.2 L854.6,528.9 L855.0,530.8 L855.4,534.6 L855.8,535.3 L856.2,534.6 L856.6,534.6 L857.0,537.7 L857.4,538.5 L857.8,539.6 L858.0,541.0 L858.2,542.5 L858.6,543.4 L859.0,541.7 L859.4,542.3 L859.8,546.7 L860.2,544.5 L860.6,546.7 L861.0,546.4 L861.4,547.2 L861.8,549.7 L862.2,547.0 L862.6,549.5 L863.0,548.8 L863.0,547.7 L863.4,547.4 L863.8,547.5 L864.2,550.5 L864.6,550.4 L865.0,547.5 L865.4,549.7 L865.8,546.2 L866.2,549.5 L866.6,553.0 L867.0,547.7 L867.4,550.4 L867.8,549.0 L868.2,550.3 L868.6,548.5 L869.0,550.7 L869.4,546.6 L869.8,550.2 L870.2,550.2 L870.6,550.7 L871.0,554.3 L871.4,549.1 L871.8,550.0 L872.2,548.9 L872.6,552.1 L873.0,551.4 L873.4,549.5 L873.8,553.1 L874.2,552.0 L874.6,554.0 L875.0,552.9 L875.4,551.9 L875.8,550.5 L876.2,548.2 L876.6,550.8 L877.0,553.7 L877.4,551.5 L877.8,550.5 L878.2,552.3 L878.6,553.1 L879.0,556.5 L879.0,550.3 L879.4,551.3 L879.8,550.0 L880.2,550.6 L880.6,553.4 L881.0,551.6 L881.4,549.3 L881.8,554.0 L882.2,554.7 L882.6,553.0 L883.0,550.0 L883.4,549.8 L883.8,553.7 L884.2,549.8 L884.6,550.4 L885.0,548.9 L885.4,554.4 L885.8,550.1 L886.2,550.8 L886.6,549.8 L887.0,549.8 L887.4,548.9 L887.8,552.6 L888.2,549.5 L888.6,553.0 L889.0,548.3 L889.4,551.2 L889.8,551.9 L890.2,548.2 L890.6,550.5 L891.0,549.0 L891.4,548.0 L891.8,549.0 L892.2,546.5 L892.6,549.0 L893.0,546.8 L893.4,550.4 L893.8,551.7 L894.2,551.4 L894.6,547.7 L895.0,548.6 L895.4,552.1 L895.8,550.8 L896.2,549.6 L896.6,544.9 L897.0,547.8 L897.4,551.9 L897.8,548.9 L898.2,547.3 L898.6,548.1 L899.0,551.9 L899.4,549.9 L899.8,545.5 L900.2,545.6 L900.6,547.5 L901.0,549.5 L901.4,546.0 L901.8,546.2 L902.2,542.8 L902.6,545.9 L903.0,547.9 L903.4,547.8 L903.5,544.3 L903.8,548.0 L904.2,545.2 L904.6,544.1 L905.0,547.3 L905.4,543.6 L905.8,545.5 L906.2,544.7 L906.6,545.9 L907.0,546.4 L907.4,545.2 L907.8,544.5 L908.2,545.0 L908.6,541.7 L909.0,545.6 L909.4,549.2 L909.8,546.3 L910.2,547.6 L910.6,545.6 L911.0,545.6 L911.4,546.3 L911.8,546.7 L912.2,546.6 L912.6,544.0 L913.0,545.4 L913.4,542.8 L913.8,547.0 L914.2,545.2 L914.6,544.7 L915.0,543.0 L915.4,545.8 L915.8,546.7 L916.2,545.8 L916.6,546.7 L917.0,543.5 L917.4,546.3 L917.8,544.7 L918.2,540.3 L918.6,545.0 L919.0,542.8 L919.4,544.1 L919.8,543.2 L920.2,542.7 L920.6,545.9 L921.0,543.1 L921.4,544.3 L921.8,545.1 L922.2,543.1 L922.6,541.6 L923.0,543.7 L923.4,543.3 L923.8,541.8 L924.2,543.4 L924.6,545.3 L925.0,544.6 L925.0,545.6 L925.4,545.2 L925.8,543.0 L926.2,542.5 L926.6,540.3 L927.0,543.9 L927.4,540.6 L927.8,542.2 L928.2,543.7 L928.6,540.7 L929.0,537.6 L929.4,538.0 L929.8,538.7 L930.2,541.2 L930.6,537.9 L931.0,537.8 L931.0,536.2 L931.4,538.1 L931.8,537.2 L932.2,537.9 L932.6,534.3 L933.0,536.3 L933.4,532.2 L933.8,532.8 L934.2,532.4 L934.6,532.3 L935.0,532.7 L935.4,527.4 L935.8,530.6 L936.0,529.8 L936.2,527.9 L936.6,529.0 L937.0,529.6 L937.4,527.3 L937.8,526.5 L938.2,527.7 L938.6,524.5 L939.0,526.9 L939.4,525.1 L939.8,524.5 L940.2,524.3 L940.6,524.9 L941.0,521.2 L941.4,524.1 L941.8,520.5 L942.0,522.6 L942.2,523.1 L942.6,522.6 L943.0,521.0 L943.4,521.6 L943.8,522.7 L944.2,525.5 L944.6,526.9 L945.0,528.6 L945.4,526.1 L945.8,530.1 L946.0,531.7 L946.2,530.7 L946.6,531.2 L947.0,533.4 L947.4,535.5 L947.8,536.2 L948.2,537.1 L948.6,533.1 L949.0,538.4 L949.4,536.1 L949.8,538.7 L950.0,536.6 L950.2,538.5 L950.6,537.4 L951.0,538.5 L951.4,542.8 L951.8,538.0 L952.2,542.3 L952.6,541.3 L953.0,539.8 L953.4,544.4 L953.8,542.8 L954.2,542.2 L954.6,544.2 L955.0,542.7 L955.4,547.2 L955.8,542.2 L956.2,544.1 L956.6,541.8 L957.0,545.8 L957.4,546.9 L957.8,547.2 L958.0,548.2 L958.2,545.6 L958.6,544.8 L959.0,547.1 L959.4,544.5 L959.8,546.0 L960.2,544.5 L960.6,544.0 L961.0,545.0 L961.4,546.9 L961.8,546.4 L962.2,545.0 L962.6,540.2 L963.0,544.5 L963.4,545.0 L963.8,545.1 L964.0,543.0 L964.2,545.8 L964.6,544.5 L965.0,540.7 L965.4,545.0 L965.8,546.3 L966.2,543.8 L966.6,541.9 L967.0,546.1 L967.4,544.7 L967.8,539.8 L968.2,544.5 L968.6,543.4 L969.0,543.2 L969.0,539.7 L969.4,539.9 L969.8,543.2 L970.2,546.4 L970.6,543.8 L971.0,544.0 L971.4,543.3 L971.8,544.1 L972.2,547.0 L972.6,544.4 L973.0,549.3 L973.4,547.4 L973.8,547.5 L974.0,546.9 L974.2,546.0 L974.6,547.1 L975.0,545.4 L975.4,548.2 L975.8,545.2 L976.2,552.4 L976.6,548.9 L977.0,546.7 L977.4,550.0 L977.8,550.0 L978.2,549.2 L978.6,550.7 L979.0,549.1 L979.4,550.4 L979.8,550.5 L980.0,551.7 L980.2,550.0 L980.6,551.5 L981.0,546.9 L981.4,553.1 L981.8,551.7 L982.2,552.4 L982.6,551.2 L983.0,553.2 L983.4,551.7 L983.8,552.2 L984.2,552.1 L984.6,551.2 L985.0,550.6 L985.4,553.1 L985.8,553.4 L986.2,552.3 L986.6,554.6 L987.0,552.8 L987.4,553.5 L987.8,554.6 L988.2,554.0 L988.6,552.6 L989.0,551.1 L989.4,551.7 L989.8,551.3 L990.2,554.4 L990.6,548.8 L991.0,556.6 L991.4,551.8 L991.8,555.1 L992.2,553.8 L992.6,554.3 L993.0,551.2 L993.4,555.2 L993.8,553.3 L994.2,554.5 L994.6,551.9 L995.0,553.4 L995.4,552.3 L995.8,554.0 L996.0,554.7 L996.2,553.1 L996.6,554.3 L997.0,554.4 L997.4,553.4 L997.8,553.0 L998.2,550.2 L998.6,555.2 L999.0,553.7 L999.4,553.0 L999.8,553.7 L1000.2,552.4 L1000.6,552.8 L1001.0,554.1 L1001.4,550.7 L1001.8,552.6 L1002.2,553.5 L1002.6,550.4 L1003.0,551.2 L1003.4,555.0 L1003.8,556.5 L1004.2,553.3 L1004.6,553.8 L1005.0,551.2 L1005.4,554.8 L1005.8,552.4 L1006.2,552.5 L1006.6,553.0 L1007.0,551.3 L1007.4,550.9 L1007.8,552.0 L1008.2,550.1 L1008.6,550.8 L1009.0,547.4 L1009.4,549.9 L1009.8,552.2 L1010.2,553.1 L1010.6,552.2 L1011.0,549.6 L1011.4,551.0 L1011.8,549.2 L1012.2,548.8 L1012.6,552.1 L1013.0,549.7 L1013.4,549.6 L1013.8,550.3 L1014.2,551.4 L1014.6,549.9 L1015.0,549.2 L1015.0,550.1 L1015.4,549.2 L1015.8,548.6 L1016.2,545.2 L1016.6,547.0 L1017.0,547.8 L1017.4,545.9 L1017.8,550.1 L1018.2,550.3 L1018.6,548.8 L1019.0,543.9 L1019.4,545.6 L1019.8,544.8 L1020.2,544.1 L1020.6,540.2 L1021.0,543.7 L1021.0,545.0 L1021.4,542.9 L1021.8,544.3 L1022.2,539.6 L1022.6,540.5 L1023.0,540.7 L1023.4,536.1 L1023.8,536.5 L1024.2,534.5 L1024.6,536.1 L1025.0,531.7 L1025.4,532.8 L1025.8,530.1 L1026.0,531.7 L1026.2,528.7 L1026.6,527.4 L1027.0,526.0 L1027.4,521.9 L1027.8,519.8 L1028.2,517.4 L1028.6,514.2 L1029.0,512.7 L1029.0,511.0 L1029.4,509.3 L1029.8,505.2 L1030.2,501.0 L1030.6,496.7 L1031.0,492.2 L1031.4,491.5 L1031.5,493.0 L1031.8,490.0 L1032.2,490.9 L1032.6,484.9 L1033.0,483.9 L1033.4,480.1 L1033.8,482.8 L1034.2,477.2 L1034.6,478.9 L1035.0,477.6 L1035.4,480.6 L1035.8,478.2 L1036.0,477.3 L1036.2,476.3 L1036.6,479.9 L1037.0,477.5 L1037.4,477.8 L1037.8,483.1 L1038.2,483.5 L1038.6,484.3 L1039.0,487.6 L1039.0,487.9 L1039.4,485.8 L1039.8,491.2 L1040.2,494.0 L1040.6,491.3 L1041.0,490.6 L1041.4,494.7 L1041.8,495.4 L1042.2,498.2 L1042.5,499.6 L1042.6,498.2 L1043.0,502.6 L1043.4,498.8 L1043.8,502.7 L1044.2,506.1 L1044.6,508.5 L1045.0,509.8 L1045.4,512.8 L1045.8,512.0 L1046.0,511.3 L1046.2,517.4 L1046.6,520.3 L1047.0,520.3 L1047.4,520.5 L1047.8,523.4 L1048.2,527.5 L1048.6,528.7 L1049.0,532.2 L1049.0,532.8 L1049.4,533.7 L1049.8,532.8 L1050.2,536.4 L1050.6,537.0 L1051.0,537.9 L1051.4,539.1 L1051.8,539.9 L1052.2,539.5 L1052.6,542.8 L1053.0,541.8 L1053.0,543.0 L1053.4,545.2 L1053.8,546.0 L1054.2,542.5 L1054.6,545.1 L1055.0,545.2 L1055.4,548.1 L1055.8,547.1 L1056.2,550.4 L1056.6,548.7 L1057.0,550.8 L1057.4,548.9 L1057.8,549.7 L1058.2,550.9 L1058.6,552.4 L1059.0,548.7 L1059.0,552.1 L1059.4,549.9 L1059.8,552.8 L1060.2,549.9 L1060.6,552.3 L1061.0,555.2 L1061.4,555.9 L1061.8,552.1 L1062.2,556.7 L1062.6,553.5 L1063.0,554.4 L1063.4,555.4 L1063.8,554.9 L1064.2,555.5 L1064.6,555.4 L1065.0,556.7 L1065.4,555.8 L1065.8,554.9 L1066.2,554.2 L1066.6,554.2 L1067.0,555.9 L1067.4,557.4 L1067.8,556.8 L1068.2,556.0 L1068.6,557.3 L1069.0,555.8 L1069.4,557.0 L1069.8,557.6 L1070.2,556.4 L1070.6,559.2 L1071.0,559.0 L1071.4,556.8 L1071.8,558.3 L1072.0,557.7 L1072.2,557.9 L1072.6,558.0 L1073.0,559.7 L1073.4,558.2 L1073.8,558.2 L1074.2,559.3 L1074.6,559.3 L1075.0,560.7 L1075.4,556.8 L1075.8,559.2 L1076.2,555.3 L1076.6,558.3 L1077.0,556.3 L1077.4,556.3 L1077.8,558.3 L1078.2,556.8 L1078.6,558.1 L1079.0,554.4 L1079.4,560.9 L1079.8,554.6 L1080.2,557.8 L1080.6,561.6 L1081.0,556.8 L1081.4,561.7 L1081.8,560.8 L1082.2,559.0 L1082.6,558.6 L1083.0,558.8 L1083.4,559.7 L1083.8,560.9 L1084.2,561.5 L1084.6,556.1 L1085.0,560.9 L1085.4,560.5 L1085.8,557.6 L1086.2,561.0 L1086.6,561.1 L1087.0,561.2 L1087.4,559.6 L1087.8,561.0 L1088.2,561.8 L1088.6,558.8 L1089.0,559.1 L1089.4,559.0 L1089.8,561.9 L1090.2,560.0 L1090.6,558.9 L1091.0,558.4 L1091.4,558.1 L1091.8,560.5 L1092.2,561.5 L1092.6,562.2 L1093.0,558.6 L1093.4,558.7 L1093.8,558.7 L1094.2,558.9 L1094.6,557.9 L1095.0,562.7 L1095.4,561.1 L1095.8,559.5 L1096.2,556.3 L1096.6,562.5 L1097.0,561.6 L1097.4,560.6 L1097.8,561.5 L1098.2,559.3 L1098.6,561.4 L1099.0,559.6 L1099.4,561.2 L1099.5,560.2 L1099.8,558.4 L1100.2,558.7 L1100.6,562.2 L1101.0,562.0 L1101.4,560.2 L1101.8,559.4 L1102.2,559.8 L1102.6,561.1 L1103.0,558.3 L1103.4,562.0 L1103.8,559.2 L1104.2,558.7 L1104.6,560.5 L1105.0,563.6 L1105.4,559.4 L1105.8,559.9 L1106.2,558.7 L1106.6,561.0 L1107.0,561.0 L1107.4,560.6 L1107.8,560.0 L1108.2,561.2 L1108.6,561.9 L1109.0,559.9 L1109.4,560.2 L1109.8,559.6 L1110.2,559.7 L1110.6,562.5 L1111.0,559.0 L1111.4,560.9 L1111.8,562.3 L1112.2,559.8 L1112.6,561.5 L1113.0,561.8 L1113.4,558.3 L1113.8,562.2 L1114.2,559.0 L1114.6,560.8 L1115.0,558.2 L1115.4,558.1 L1115.8,560.2 L1116.2,563.2 L1116.6,564.7 L1117.0,565.0 L1117.4,562.8 L1117.8,562.6 L1118.2,561.9 L1118.6,561.8 L1119.0,560.1 L1119.4,560.0 L1119.8,561.4 L1120.2,561.5 L1120.6,559.8 L1121.0,558.9 L1121.4,559.6 L1121.8,565.0 L1122.2,559.7 L1122.6,563.1 L1123.0,562.7 L1123.4,562.5 L1123.8,559.8 L1124.2,564.0 L1124.6,561.3 L1125.0,559.9 L1125.4,559.7 L1125.8,560.6 L1126.2,564.2 L1126.6,558.8 L1127.0,559.7 L1127.4,560.8 L1127.8,561.6 L1128.2,559.1 L1128.6,559.2 L1129.0,559.9 L1129.4,561.9 L1129.8,560.6 L1130.2,560.5 L1130.6,561.1 L1131.0,561.0 L1131.4,562.3 L1131.8,559.7 L1132.2,560.9 L1132.6,559.8 L1133.0,562.0 L1133.4,562.2 L1133.8,560.5 L1134.2,562.7 L1134.6,560.6 L1135.0,563.1 L1135.4,560.3 L1135.8,560.2 L1136.2,558.5 L1136.6,559.3 L1137.0,560.3 L1137.4,557.6 L1137.8,560.9 L1138.2,562.3 L1138.6,561.8 L1139.0,561.2 L1139.4,562.0 L1139.8,560.0 L1140.0,560.2 L1140.2,562.3 L1140.6,560.7 L1141.0,562.5 L1141.4,560.2 L1141.8,562.0 L1142.2,562.9 L1142.6,560.8 L1143.0,563.7 L1143.4,563.5 L1143.8,557.2 L1144.2,565.2 L1144.6,558.5 L1145.0,564.9 L1145.4,559.6 L1145.8,557.7 L1146.2,558.9 L1146.6,561.8 L1147.0,559.4 L1147.4,560.1 L1147.8,563.0 L1148.2,559.5 L1148.6,561.8 L1149.0,563.1 L1149.4,558.1 L1149.8,559.2 L1150.2,561.4 L1150.6,561.1 L1151.0,561.6 L1151.4,557.9 L1151.8,559.8 L1152.2,561.8 L1152.6,562.1 L1153.0,563.2 L1153.4,560.6 L1153.8,560.0 L1154.2,559.6 L1154.6,559.7 L1155.0,558.0 L1155.4,563.9 L1155.8,560.5 L1156.2,560.1 L1156.6,560.2 L1157.0,562.1 L1157.4,561.4 L1157.8,560.0 L1158.2,562.8 L1158.6,561.6 L1159.0,560.9 L1159.4,561.2 L1159.8,563.1 L1160.2,562.3 L1160.6,561.1 L1161.0,562.9 L1161.4,557.8 L1161.8,562.4 L1162.2,559.9 L1162.6,560.3 L1163.0,560.9 L1163.4,564.2 L1163.8,561.0 L1164.2,561.1 L1164.6,562.2 L1165.0,558.1 L1165.4,560.9 L1165.8,562.4 L1166.2,559.7 L1166.6,562.2 L1167.0,560.1 L1167.4,559.0 L1167.8,562.7 L1168.2,561.5 L1168.6,562.5 L1169.0,561.6 L1169.4,559.7 L1169.8,563.0 L1170.2,562.1 L1170.6,562.1 L1171.0,560.8 L1171.4,559.7 L1171.8,563.7 L1172.2,562.7 L1172.6,561.8 L1173.0,560.5 L1173.4,563.6 L1173.8,560.2 L1174.2,560.3 L1174.6,564.8 L1175.0,562.5 L1175.4,562.9 L1175.8,562.6 L1176.2,564.8 L1176.6,562.2 L1177.0,562.3 L1177.4,560.2 L1177.8,561.6 L1178.0,559.1 L1178.2,560.9 L1178.6,561.5 L1179.0,562.6 L1179.4,563.6 L1179.8,560.3 L1180.2,559.7 L1180.6,561.7 L1181.0,559.9 L1181.4,563.8 L1181.8,563.1 L1182.2,559.5 L1182.6,561.3 L1183.0,562.9 L1183.4,559.4 L1183.8,560.0 L1184.2,560.5 L1184.6,562.7 L1185.0,561.2 L1185.4,560.0 L1185.8,560.8 L1186.2,560.2 L1186.6,560.4 L1187.0,560.7 L1187.0,560.4 L1187.4,560.9 L1187.8,559.8 L1188.2,559.3 L1188.6,559.2 L1189.0,557.1 L1189.4,558.7 L1189.8,562.2 L1190.2,559.2 L1190.6,560.0 L1191.0,560.4 L1191.4,558.2 L1191.8,558.3 L1192.2,559.5 L1192.6,557.1 L1193.0,559.8 L1193.0,559.5 L1193.4,558.6 L1193.8,558.4 L1194.2,558.9 L1194.6,557.6 L1195.0,553.2 L1195.4,557.5 L1195.8,554.9 L1196.2,555.1 L1196.6,554.8 L1197.0,554.4 L1197.4,552.0 L1197.8,551.2 L1198.0,553.8 L1198.2,553.8 L1198.6,553.9 L1199.0,550.8 L1199.4,551.7 L1199.8,552.9 L1200.2,550.5 L1200.6,549.6 L1201.0,553.1 L1201.4,546.8 L1201.8,547.6 L1202.2,546.6 L1202.5,547.2 L1202.6,551.9 L1203.0,545.8 L1203.4,546.5 L1203.8,545.6 L1204.2,544.8 L1204.6,546.8 L1205.0,544.3 L1205.4,546.2 L1205.8,546.3 L1206.2,542.9 L1206.6,545.5 L1207.0,541.1 L1207.4,543.2 L1207.8,544.0 L1208.2,540.7 L1208.6,542.0 L1209.0,542.8 L1209.0,543.0 L1209.4,542.7 L1209.8,545.4 L1210.2,542.3 L1210.6,544.6 L1211.0,546.4 L1211.4,542.5 L1211.8,543.2 L1212.2,542.7 L1212.6,545.8 L1213.0,547.3 L1213.4,542.8 L1213.8,544.5 L1214.0,545.2 L1214.2,549.7 L1214.6,546.1 L1215.0,547.6 L1215.4,545.6 L1215.8,549.2 L1216.2,546.6 L1216.6,548.5 L1217.0,547.4 L1217.4,549.3 L1217.8,549.6 L1218.2,550.6 L1218.6,551.0 L1219.0,553.9 L1219.0,550.0 L1219.4,553.6 L1219.8,552.5 L1220.2,552.3 L1220.6,553.5 L1221.0,554.0 L1221.4,555.4 L1221.8,555.9 L1222.2,556.1 L1222.6,556.0 L1223.0,553.7 L1223.4,557.9 L1223.8,558.7 L1224.0,557.7 L1224.2,557.8 L1224.6,556.4 L1225.0,558.6 L1225.4,559.9 L1225.8,556.9 L1226.2,558.6 L1226.6,558.9 L1227.0,562.0 L1227.4,559.7 L1227.8,558.0 L1228.2,561.2 L1228.6,563.2 L1229.0,561.2 L1229.4,560.9 L1229.8,561.9 L1230.0,564.2 L1230.2,561.2 L1230.6,561.2 L1231.0,562.2 L1231.4,560.4 L1231.8,559.0 L1232.2,561.8 L1232.6,561.0 L1233.0,562.1 L1233.4,561.8 L1233.8,562.4 L1234.2,560.0 L1234.6,562.1 L1235.0,560.2 L1235.4,562.1 L1235.8,560.9 L1236.2,564.1 L1236.6,560.2 L1237.0,558.1 L1237.4,561.8 L1237.8,560.9 L1238.2,560.2 L1238.6,561.9 L1239.0,564.1 L1239.4,561.3 L1239.8,560.5 L1240.2,563.7 L1240.6,563.3 L1241.0,561.6 L1241.4,560.7 L1241.8,562.6 L1242.2,560.5 L1242.6,560.6 L1243.0,560.3 L1243.4,562.3 L1243.8,563.8 L1244.2,561.6 L1244.6,564.2 L1245.0,558.5 L1245.4,561.5 L1245.8,558.9 L1246.2,562.8 L1246.6,563.4 L1247.0,558.8 L1247.4,560.3 L1247.8,561.5 L1248.2,559.2 L1248.6,560.1 L1249.0,559.9 L1249.4,561.5 L1249.8,560.3 L1250.2,559.6 L1250.6,560.2 L1251.0,561.2 L1251.4,561.4 L1251.8,561.0 L1252.2,563.1 L1252.6,560.8 L1253.0,561.5 L1253.4,562.2 L1253.8,560.8 L1254.2,563.3 L1254.6,562.5 L1255.0,562.5 L1255.4,560.0 L1255.8,561.1 L1256.2,562.2 L1256.6,562.9 L1257.0,560.4 L1257.4,560.6 L1257.8,559.4 L1258.2,559.1 L1258.6,563.0 L1259.0,561.4 L1259.4,562.2 L1259.8,563.0 L1260.0,561.4 L1260.2,561.6 L1260.6,559.9 L1261.0,560.5 L1261.4,562.0 L1261.8,563.5 L1262.2,562.9 L1262.6,560.3 L1263.0,560.2 L1263.4,562.4 L1263.8,562.0 L1264.2,562.1 L1264.6,561.6 L1265.0,563.1 L1265.4,561.6 L1265.8,563.2 L1266.2,561.9 L1266.6,561.0 L1267.0,559.3 L1267.4,561.4 L1267.8,562.2 L1268.2,561.1 L1268.6,559.3 L1269.0,557.9 L1269.4,560.2 L1269.8,563.1 L1270.2,558.8 L1270.6,559.7 L1271.0,560.5 L1271.4,561.6 L1271.8,558.7 L1272.2,560.1 L1272.6,560.4 L1273.0,558.2 L1273.4,560.4 L1273.8,558.2 L1274.2,559.9 L1274.6,560.4 L1275.0,559.6 L1275.4,557.5 L1275.8,560.3 L1276.2,560.2 L1276.6,559.3 L1277.0,560.2 L1277.4,558.2 L1277.8,557.6 L1278.2,558.4 L1278.6,559.3 L1279.0,559.8 L1279.0,557.5 L1279.4,558.7 L1279.8,558.6 L1280.2,557.5 L1280.6,555.1 L1281.0,555.4 L1281.4,559.1 L1281.8,555.4 L1282.2,554.8 L1282.6,555.2 L1283.0,556.7 L1283.4,558.9 L1283.8,557.4 L1284.2,556.0 L1284.6,556.1 L1285.0,557.1 L1285.0,556.5 L1285.4,553.8 L1285.8,558.0 L1286.2,557.4 L1286.6,554.4 L1287.0,555.5 L1287.4,556.3 L1287.8,556.0 L1288.2,555.0 L1288.6,555.5 L1289.0,557.9 L1289.4,554.7 L1289.8,556.5 L1290.2,555.4 L1290.6,553.4 L1291.0,556.0 L1291.0,555.6 L1291.4,556.8 L1291.8,557.5 L1292.2,556.8 L1292.6,556.0 L1293.0,556.5 L1293.4,557.2 L1293.8,555.1 L1294.2,555.1 L1294.6,558.0 L1295.0,555.6 L1295.4,557.2 L1295.8,560.5 L1296.2,559.6 L1296.6,560.4 L1297.0,558.8 L1297.4,560.9 L1297.8,558.2 L1298.0,558.4 L1298.2,559.4 L1298.6,558.9 L1299.0,562.0 L1299.4,560.1 L1299.8,558.9 L1300.2,562.2 L1300.6,562.1 L1301.0,563.1 L1301.4,559.9 L1301.8,560.6 L1302.2,558.8 L1302.6,562.8 L1303.0,562.4 L1303.4,561.8 L1303.8,564.8 L1304.2,561.9 L1304.6,562.4 L1305.0,562.0 L1305.4,561.9 L1305.8,563.4 L1306.0,563.2 L1306.2,562.9 L1306.6,561.9 L1307.0,561.6 L1307.4,562.7 L1307.8,563.5 L1308.2,562.4 L1308.6,563.1 L1309.0,563.3 L1309.4,562.5 L1309.8,561.7 L1310.2,563.7 L1310.6,566.2 L1311.0,564.7 L1311.4,563.9 L1311.8,563.1 L1312.2,563.2 L1312.6,565.7 L1313.0,562.6 L1313.4,566.9 L1313.8,564.4 L1314.2,564.8 L1314.6,563.9 L1315.0,565.9 L1315.4,565.9 L1315.8,563.5 L1316.2,567.3 L1316.6,564.9 L1317.0,562.5 L1317.4,565.4 L1317.8,565.2 L1318.2,565.0 L1318.6,566.0 L1319.0,566.4 L1319.4,563.1 L1319.8,564.6 L1320.2,564.7 L1320.6,565.0 L1321.0,562.3 L1321.4,565.3 L1321.8,565.0 L1322.2,567.7 L1322.6,563.7 L1323.0,564.3 L1323.4,565.6 L1323.8,565.0 L1324.2,566.3 L1324.6,566.8 L1325.0,563.8 L1325.4,565.2 L1325.8,566.0 L1326.2,564.0 L1326.6,568.3 L1327.0,565.5 L1327.4,565.3 L1327.8,562.9 L1328.0,564.1 L1328.2,562.2 L1328.6,566.0 L1329.0,563.9 L1329.4,565.1 L1329.8,565.6 L1330.2,565.3 L1330.6,564.4 L1331.0,566.1 L1331.4,563.4 L1331.8,562.3 L1332.2,562.8 L1332.6,566.0 L1333.0,566.9 L1333.4,563.9 L1333.8,564.1 L1334.2,565.4 L1334.6,562.9 L1335.0,564.1 L1335.4,562.7 L1335.8,564.8 L1336.2,561.0 L1336.6,562.5 L1337.0,562.1 L1337.4,564.5 L1337.8,565.3 L1338.2,564.5 L1338.6,567.5 L1339.0,564.5 L1339.4,563.1 L1339.8,563.8 L1340.2,565.4 L1340.6,565.0 L1341.0,567.4 L1341.4,564.6 L1341.8,562.9 L1342.2,562.6 L1342.6,565.3 L1343.0,560.4 L1343.4,564.7 L1343.8,565.3 L1344.2,563.4 L1344.6,564.3 L1345.0,565.8 L1345.4,566.0 L1345.8,565.8 L1346.2,565.2 L1346.6,563.5 L1347.0,562.0 L1347.4,560.6 L1347.8,566.2 L1348.2,565.0 L1348.6,561.6 L1349.0,565.0 L1349.4,562.7 L1349.8,562.5 L1350.2,561.5 L1350.6,566.2 L1351.0,561.1 L1351.4,561.4 L1351.8,564.0 L1352.0,564.1 L1352.2,563.6 L1352.6,561.3 L1353.0,562.3 L1353.4,561.2 L1353.8,561.5 L1354.2,564.6 L1354.6,562.1 L1355.0,562.5 L1355.4,559.8 L1355.8,560.0 L1356.2,561.1 L1356.6,561.8 L1357.0,559.5 L1357.4,561.6 L1357.8,562.6 L1358.0,556.4 L1358.2,558.8 L1358.6,559.4 L1359.0,557.8 L1359.4,560.2 L1359.8,557.6 L1360.2,557.5 L1360.6,554.3 L1361.0,557.7 L1361.4,555.4 L1361.8,556.1 L1362.2,554.8 L1362.6,553.8 L1363.0,554.2 L1363.0,552.6 L1363.4,553.7 L1363.8,555.4 L1364.2,554.8 L1364.6,551.6 L1365.0,553.8 L1365.4,551.7 L1365.8,550.9 L1366.2,552.3 L1366.6,552.1 L1367.0,549.7 L1367.4,551.6 L1367.8,549.9 L1368.2,552.7 L1368.6,547.1 L1369.0,548.6 L1369.4,548.2 L1369.8,547.1 L1370.2,546.2 L1370.6,549.7 L1371.0,548.2 L1371.4,545.6 L1371.8,546.7 L1372.2,546.9 L1372.5,547.9 L1372.6,546.0 L1373.0,549.7 L1373.4,547.8 L1373.8,550.1 L1374.2,549.2 L1374.6,548.4 L1375.0,549.1 L1375.4,550.4 L1375.8,550.6 L1376.2,551.4 L1376.6,552.7 L1377.0,553.9 L1377.4,551.2 L1377.8,550.9 L1378.0,552.2 L1378.2,555.5 L1378.6,554.0 L1379.0,554.0 L1379.4,556.0 L1379.8,557.2 L1380.2,555.1 L1380.6,555.9 L1381.0,557.8 L1381.4,558.2 L1381.8,557.7 L1382.0,562.2 L1382.2,560.9 L1382.6,559.3 L1383.0,560.8 L1383.4,558.4 L1383.8,561.8 L1384.2,560.5 L1384.6,560.0 L1385.0,559.3 L1385.4,562.8 L1385.8,561.9 L1386.2,561.2 L1386.6,563.7 L1387.0,562.1 L1387.4,563.1 L1387.8,562.2 L1388.2,563.6 L1388.6,561.5 L1389.0,562.7 L1389.4,563.4 L1389.8,562.3 L1390.0,562.7 L1390.2,564.5 L1390.6,562.9 L1391.0,565.1 L1391.4,564.2 L1391.8,563.7 L1392.2,561.6 L1392.6,565.9 L1393.0,565.9 L1393.4,564.3 L1393.8,564.1 L1394.2,564.1 L1394.6,563.4 L1395.0,563.7 L1395.4,564.6 L1395.8,561.9 L1396.2,564.1 L1396.6,564.7 L1397.0,561.7 L1397.4,563.3 L1397.8,562.0 L1398.2,562.2 L1398.6,565.0 L1399.0,562.6 L1399.4,568.0 L1399.8,564.0 L1400.2,563.1 L1400.6,563.9 L1401.0,564.3 L1401.4,564.8 L1401.8,564.8 L1402.2,564.8 L1402.6,565.9 L1403.0,566.1 L1403.4,564.5 L1403.8,565.0 L1404.2,563.4 L1404.6,563.6 L1405.0,563.9 L1405.4,566.4 L1405.8,563.5 L1406.0,564.7"/>
</g>
<g class="pk">
<g transform="translate(450.7,392.5) rotate(-90)"><path transform="translate(-3.30,0.00) scale(0.02661,-0.02661)" d="M479 -431Q330 -243 227 9T124 531Q124 769 201 987Q291 1240 479 1491H608Q487 1283 448 1194Q387 1056 352 906Q309 719 309 530Q309 49 608 -431Z"/><path transform="translate(14.85,0.00) scale(0.02661,-0.02661)" d="M763 0H583V1147Q518 1085 412.5 1023T223 930V1104Q374 1175 487 1276T647 1472H763Z"/><text transform="translate(45.16,0.00) scale(1,1.03)" font-size="54.5">00</text><path transform="translate(105.78,0.00) scale(0.02661,-0.02661)" d="M203 -431H74Q373 49 373 530Q373 718 330 903Q296 1053 235 1191Q196 1281 74 1491H203Q391 1240 481 987Q558 769 558 531Q558 261 454.5 9T203 -431Z"/></g>
<g transform="translate(658.8,224.5) rotate(-90)"><path transform="translate(-3.30,0.00) scale(0.02661,-0.02661)" d="M479 -431Q330 -243 227 9T124 531Q124 769 201 987Q291 1240 479 1491H608Q487 1283 448 1194Q387 1056 352 906Q309 719 309 530Q309 49 608 -431Z"/><path transform="translate(14.85,0.00) scale(0.02661,-0.02661)" d="M763 0H583V1147Q518 1085 412.5 1023T223 930V1104Q374 1175 487 1276T647 1472H763Z"/><path transform="translate(45.16,0.00) scale(0.02661,-0.02661)" d="M763 0H583V1147Q518 1085 412.5 1023T223 930V1104Q374 1175 487 1276T647 1472H763Z"/><text transform="translate(75.47,0.00) scale(1,1.03)" font-size="54.5">0</text><path transform="translate(105.78,0.00) scale(0.02661,-0.02661)" d="M203 -431H74Q373 49 373 530Q373 718 330 903Q296 1053 235 1191Q196 1281 74 1491H203Q391 1240 481 987Q558 769 558 531Q558 261 454.5 9T203 -431Z"/></g>
<g transform="translate(778.9,471.6) rotate(-90)"><path transform="translate(-3.30,0.00) scale(0.02661,-0.02661)" d="M479 -431Q330 -243 227 9T124 531Q124 769 201 987Q291 1240 479 1491H608Q487 1283 448 1194Q387 1056 352 906Q309 719 309 530Q309 49 608 -431Z"/><path transform="translate(14.85,0.00) scale(0.02661,-0.02661)" d="M763 0H583V1147Q518 1085 412.5 1023T223 930V1104Q374 1175 487 1276T647 1472H763Z"/><path transform="translate(45.16,0.00) scale(0.02661,-0.02661)" d="M763 0H583V1147Q518 1085 412.5 1023T223 930V1104Q374 1175 487 1276T647 1472H763Z"/><path transform="translate(75.47,0.00) scale(0.02661,-0.02661)" d="M763 0H583V1147Q518 1085 412.5 1023T223 930V1104Q374 1175 487 1276T647 1472H763Z"/><path transform="translate(105.78,0.00) scale(0.02661,-0.02661)" d="M203 -431H74Q373 49 373 530Q373 718 330 903Q296 1053 235 1191Q196 1281 74 1491H203Q391 1240 481 987Q558 769 558 531Q558 261 454.5 9T203 -431Z"/></g>
<g transform="translate(885.1,429.8) rotate(-90)"><path transform="translate(-3.30,0.00) scale(0.02661,-0.02661)" d="M479 -431Q330 -243 227 9T124 531Q124 769 201 987Q291 1240 479 1491H608Q487 1283 448 1194Q387 1056 352 906Q309 719 309 530Q309 49 608 -431Z"/><text transform="translate(14.85,0.00) scale(1,1.03)" font-size="54.5">200</text><path transform="translate(105.78,0.00) scale(0.02661,-0.02661)" d="M203 -431H74Q373 49 373 530Q373 718 330 903Q296 1053 235 1191Q196 1281 74 1491H203Q391 1240 481 987Q558 769 558 531Q558 261 454.5 9T203 -431Z"/></g>
<g transform="translate(968.2,499.2) rotate(-90)"><path transform="translate(-3.30,0.00) scale(0.02661,-0.02661)" d="M479 -431Q330 -243 227 9T124 531Q124 769 201 987Q291 1240 479 1491H608Q487 1283 448 1194Q387 1056 352 906Q309 719 309 530Q309 49 608 -431Z"/><text transform="translate(14.85,0.00) scale(1,1.03)" font-size="54.5">2</text><path transform="translate(45.16,0.00) scale(0.02661,-0.02661)" d="M763 0H583V1147Q518 1085 412.5 1023T223 930V1104Q374 1175 487 1276T647 1472H763Z"/><text transform="translate(75.47,0.00) scale(1,1.03)" font-size="54.5">0</text><path transform="translate(105.78,0.00) scale(0.02661,-0.02661)" d="M203 -431H74Q373 49 373 530Q373 718 330 903Q296 1053 235 1191Q196 1281 74 1491H203Q391 1240 481 987Q558 769 558 531Q558 261 454.5 9T203 -431Z"/></g>
<g transform="translate(1064.8,466.5) rotate(-90)"><path transform="translate(-3.30,0.00) scale(0.02661,-0.02661)" d="M479 -431Q330 -243 227 9T124 531Q124 769 201 987Q291 1240 479 1491H608Q487 1283 448 1194Q387 1056 352 906Q309 719 309 530Q309 49 608 -431Z"/><text transform="translate(14.85,0.00) scale(1,1.03)" font-size="54.5">2</text><path transform="translate(45.16,0.00) scale(0.02661,-0.02661)" d="M763 0H583V1147Q518 1085 412.5 1023T223 930V1104Q374 1175 487 1276T647 1472H763Z"/><path transform="translate(75.47,0.00) scale(0.02661,-0.02661)" d="M763 0H583V1147Q518 1085 412.5 1023T223 930V1104Q374 1175 487 1276T647 1472H763Z"/><path transform="translate(105.78,0.00) scale(0.02661,-0.02661)" d="M203 -431H74Q373 49 373 530Q373 718 330 903Q296 1053 235 1191Q196 1281 74 1491H203Q391 1240 481 987Q558 769 558 531Q558 261 454.5 9T203 -431Z"/></g>
<g transform="translate(1221.5,519.8) rotate(-90)"><path transform="translate(-3.30,0.00) scale(0.02661,-0.02661)" d="M479 -431Q330 -243 227 9T124 531Q124 769 201 987Q291 1240 479 1491H608Q487 1283 448 1194Q387 1056 352 906Q309 719 309 530Q309 49 608 -431Z"/><text transform="translate(14.85,0.00) scale(1,1.03)" font-size="54.5">220</text><path transform="translate(105.78,0.00) scale(0.02661,-0.02661)" d="M203 -431H74Q373 49 373 530Q373 718 330 903Q296 1053 235 1191Q196 1281 74 1491H203Q391 1240 481 987Q558 769 558 531Q558 261 454.5 9T203 -431Z"/></g>
<g transform="translate(1393.6,541.0) rotate(-90)"><path transform="translate(-3.30,0.00) scale(0.02661,-0.02661)" d="M479 -431Q330 -243 227 9T124 531Q124 769 201 987Q291 1240 479 1491H608Q487 1283 448 1194Q387 1056 352 906Q309 719 309 530Q309 49 608 -431Z"/><text transform="translate(14.85,0.00) scale(1,1.03)" font-size="54.5">3</text><path transform="translate(45.16,0.00) scale(0.02661,-0.02661)" d="M763 0H583V1147Q518 1085 412.5 1023T223 930V1104Q374 1175 487 1276T647 1472H763Z"/><text transform="translate(75.47,0.00) scale(1,1.03)" font-size="54.5">0</text><path transform="translate(105.78,0.00) scale(0.02661,-0.02661)" d="M203 -431H74Q373 49 373 530Q373 718 330 903Q296 1053 235 1191Q196 1281 74 1491H203Q391 1240 481 987Q558 769 558 531Q558 261 454.5 9T203 -431Z"/></g>
</g>
<g>
<line x1="948.3" y1="57.4" x2="1070.7" y2="57.4" stroke="#000" stroke-width="9" stroke-linecap="round"/>
<line x1="948.3" y1="143.9" x2="1070.7" y2="143.9" stroke="#f00" stroke-width="9" stroke-linecap="round"/>
<line x1="948.3" y1="229.0" x2="1070.7" y2="229.0" stroke="#00f" stroke-width="9" stroke-linecap="round"/>
<line x1="948.3" y1="314.8" x2="1070.7" y2="314.8" stroke="#f0f" stroke-width="9" stroke-linecap="round"/>
<text transform="translate(1087,75.5) scale(1,1.035)" class="L">La</text>
<text x="1148.5" y="98.3" class="S">2</text>
<text transform="translate(1165.5,75.5) scale(1,1.035)" class="L">O</text>
<text x="1209" y="98.3" class="S">3</text>
<text transform="translate(1087,160.9) scale(1,1.035)" class="L">LaMnO</text>
<text x="1265.5" y="183.4" class="S">3</text>
<line x1="1290.3" y1="141.9" x2="1330.8" y2="141.9" stroke="#000" stroke-width="2.2"/>
<path transform="translate(1338.00,160.90) scale(0.02637,-0.02637)" d="M763 0H583V1147Q518 1085 412.5 1023T223 930V1104Q374 1175 487 1276T647 1472H763Z"/>
<text transform="translate(1087,246.4) scale(1,1.035)" class="L">LaMnO</text>
<text x="1265.5" y="268.9" class="S">3</text>
<line x1="1290.3" y1="227.4" x2="1330.8" y2="227.4" stroke="#000" stroke-width="2.2"/>
<text transform="translate(1338.00,246.40) scale(1,1.03)" font-size="54">2</text>
<text transform="translate(1087,331.9) scale(1,1.035)" class="L">LaMnO</text>
<text x="1265.5" y="354.4" class="S">3</text>
<line x1="1290.3" y1="312.9" x2="1330.8" y2="312.9" stroke="#000" stroke-width="2.2"/>
<text transform="translate(1338.00,331.90) scale(1,1.03)" font-size="54">3</text>
</g>
<rect x="122.8" y="20.5" width="1283.7" height="944.5" fill="none" stroke="#000" stroke-width="5"/>
<g stroke="#000" stroke-width="4.6">
<line x1="208.5" y1="965.0" x2="208.5" y2="945.3"/>
<line x1="379.6" y1="965.0" x2="379.6" y2="945.3"/>
<line x1="550.7" y1="965.0" x2="550.7" y2="945.3"/>
<line x1="721.8" y1="965.0" x2="721.8" y2="945.3"/>
<line x1="892.9" y1="965.0" x2="892.9" y2="945.3"/>
<line x1="1064.0" y1="965.0" x2="1064.0" y2="945.3"/>
<line x1="1235.1" y1="965.0" x2="1235.1" y2="945.3"/>
<line x1="294.1" y1="965.0" x2="294.1" y2="954"/>
<line x1="465.1" y1="965.0" x2="465.1" y2="954"/>
<line x1="636.2" y1="965.0" x2="636.2" y2="954"/>
<line x1="807.4" y1="965.0" x2="807.4" y2="954"/>
<line x1="978.4" y1="965.0" x2="978.4" y2="954"/>
<line x1="1149.5" y1="965.0" x2="1149.5" y2="954"/>
<line x1="1320.6" y1="965.0" x2="1320.6" y2="954"/>
</g>
<g class="tk">
<path transform="translate(187.64,1015.30) scale(0.01831,-0.01831)" d="M763 0H583V1147Q518 1085 412.5 1023T223 930V1104Q374 1175 487 1276T647 1472H763Z"/><text transform="translate(208.50,1015.30) scale(1,1.0)" font-size="37.5">0</text>
<text transform="translate(358.74,1015.30) scale(1,1.0)" font-size="37.5">20</text>
<text transform="translate(529.84,1015.30) scale(1,1.0)" font-size="37.5">30</text>
<text transform="translate(700.94,1015.30) scale(1,1.0)" font-size="37.5">40</text>
<text transform="translate(872.04,1015.30) scale(1,1.0)" font-size="37.5">50</text>
<text transform="translate(1043.14,1015.30) scale(1,1.0)" font-size="37.5">60</text>
<text transform="translate(1214.24,1015.30) scale(1,1.0)" font-size="37.5">70</text>
<text transform="translate(1385.34,1015.30) scale(1,1.0)" font-size="37.5">80</text>
</g>
<text class="ser" font-size="59.6" transform="translate(75.4,742) rotate(-90)">Intensity (a.u.)</text>
<text class="ser" font-size="60" x="704" y="1082">2θ (°)</text>
</svg>
</body></html>
